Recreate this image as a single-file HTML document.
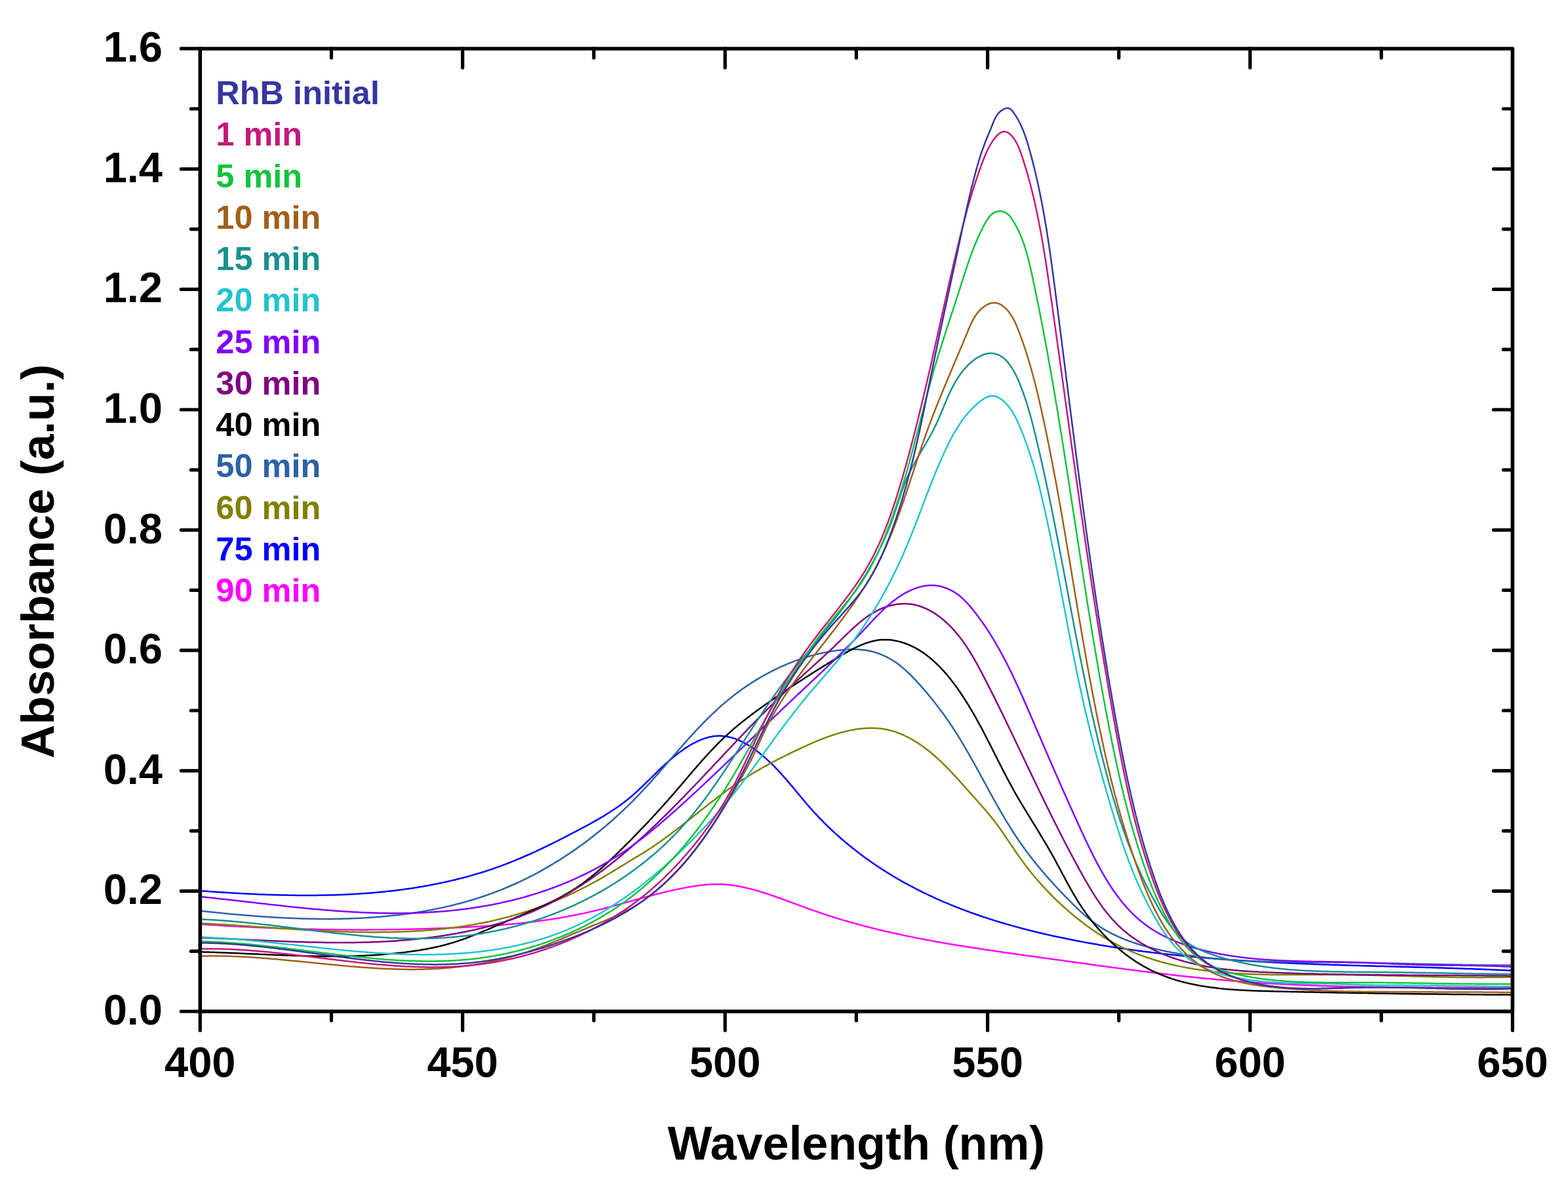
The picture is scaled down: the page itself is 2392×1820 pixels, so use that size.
<!DOCTYPE html><html><head><meta charset="utf-8"><style>html,body{margin:0;padding:0;background:#fff;}svg{display:block;}text{font-family:"Liberation Sans",Arial,sans-serif;font-weight:bold;}</style></head><body>
<svg width="2392" height="1820" viewBox="0 0 2392 1820" xmlns="http://www.w3.org/2000/svg">
<rect width="2392" height="1820" fill="#fff"/>
<path d="M306.5,1409.9 L309.0,1410.1 L311.5,1410.3 L314.0,1410.5 L316.5,1410.6 L319.0,1410.8 L321.5,1410.9 L324.0,1411.1 L326.5,1411.3 L329.0,1411.4 L331.5,1411.6 L334.0,1411.7 L336.5,1411.9 L339.0,1412.0 L341.5,1412.2 L343.9,1412.3 L346.4,1412.5 L348.9,1412.6 L351.4,1412.8 L353.9,1412.9 L356.4,1413.0 L358.9,1413.2 L361.4,1413.3 L363.9,1413.4 L366.4,1413.6 L368.9,1413.7 L371.4,1413.8 L373.9,1413.9 L376.4,1414.1 L378.9,1414.2 L381.4,1414.3 L383.9,1414.4 L386.4,1414.5 L388.9,1414.7 L391.4,1414.8 L393.9,1414.9 L396.4,1415.0 L398.9,1415.1 L401.4,1415.2 L403.9,1415.3 L406.4,1415.4 L408.9,1415.5 L411.4,1415.6 L413.9,1415.7 L416.4,1415.8 L418.8,1415.9 L421.3,1416.0 L423.8,1416.1 L426.3,1416.2 L428.8,1416.3 L431.3,1416.4 L433.8,1416.4 L436.3,1416.5 L438.8,1416.6 L441.3,1416.7 L443.8,1416.8 L446.3,1416.8 L448.8,1416.9 L451.3,1417.0 L453.8,1417.0 L456.3,1417.1 L458.8,1417.2 L461.3,1417.2 L463.8,1417.3 L466.2,1417.4 L468.7,1417.4 L471.2,1417.5 L473.7,1417.5 L476.2,1417.6 L478.7,1417.6 L481.2,1417.7 L483.7,1417.7 L486.2,1417.8 L488.7,1417.8 L491.2,1417.9 L493.7,1417.9 L496.2,1418.0 L498.7,1418.0 L501.2,1418.0 L503.7,1418.1 L506.1,1418.1 L508.6,1418.1 L511.1,1418.2 L513.6,1418.2 L516.1,1418.2 L518.6,1418.2 L521.1,1418.3 L523.6,1418.3 L526.1,1418.3 L528.6,1418.3 L531.1,1418.3 L533.6,1418.3 L536.1,1418.3 L538.6,1418.4 L541.1,1418.4 L543.6,1418.4 L546.0,1418.4 L548.5,1418.4 L551.0,1418.4 L553.5,1418.4 L556.0,1418.4 L558.5,1418.4 L561.0,1418.4 L563.5,1418.3 L566.0,1418.3 L568.5,1418.3 L571.0,1418.3 L573.5,1418.3 L576.0,1418.3 L578.5,1418.3 L581.0,1418.2 L583.5,1418.2 L585.9,1418.2 L588.4,1418.2 L590.9,1418.1 L593.4,1418.1 L595.9,1418.1 L598.4,1418.0 L600.9,1418.0 L603.4,1417.9 L605.9,1417.9 L608.4,1417.9 L610.9,1417.8 L613.4,1417.8 L615.9,1417.7 L618.4,1417.7 L620.9,1417.6 L623.4,1417.6 L625.9,1417.5 L628.4,1417.5 L630.8,1417.4 L633.3,1417.3 L635.8,1417.3 L638.3,1417.2 L640.8,1417.1 L643.3,1417.1 L645.8,1417.0 L648.3,1416.9 L650.8,1416.9 L653.3,1416.8 L655.8,1416.7 L658.3,1416.6 L660.8,1416.5 L663.3,1416.5 L665.8,1416.4 L668.3,1416.3 L670.8,1416.2 L673.3,1416.1 L675.8,1416.0 L678.3,1415.9 L680.8,1415.8 L683.3,1415.7 L685.8,1415.6 L688.3,1415.5 L690.8,1415.4 L693.3,1415.3 L695.8,1415.2 L698.3,1415.1 L700.7,1415.0 L703.2,1414.9 L705.7,1414.7 L708.2,1414.6 L710.7,1414.5 L713.2,1414.4 L715.7,1414.2 L718.2,1414.1 L720.7,1414.0 L723.2,1413.8 L725.7,1413.7 L728.2,1413.6 L730.7,1413.4 L733.2,1413.3 L735.7,1413.1 L738.2,1412.9 L740.7,1412.8 L743.2,1412.6 L745.7,1412.5 L748.2,1412.3 L750.7,1412.1 L753.2,1411.9 L755.7,1411.7 L758.1,1411.6 L760.6,1411.4 L763.1,1411.2 L765.6,1411.0 L768.1,1410.8 L770.6,1410.6 L773.1,1410.3 L775.6,1410.1 L778.1,1409.9 L780.6,1409.7 L783.0,1409.4 L785.5,1409.2 L788.0,1409.0 L790.5,1408.7 L793.0,1408.4 L795.5,1408.2 L797.9,1407.9 L800.4,1407.7 L802.9,1407.4 L805.4,1407.1 L807.9,1406.8 L810.4,1406.5 L812.8,1406.2 L815.3,1405.9 L817.8,1405.6 L820.3,1405.3 L822.7,1405.0 L825.2,1404.6 L827.7,1404.3 L830.1,1404.0 L832.6,1403.6 L835.1,1403.3 L837.6,1402.9 L840.0,1402.5 L842.5,1402.1 L845.0,1401.8 L847.4,1401.4 L849.9,1401.0 L852.3,1400.6 L854.8,1400.2 L857.3,1399.7 L859.7,1399.3 L862.2,1398.9 L864.6,1398.4 L867.1,1398.0 L869.5,1397.5 L872.0,1397.1 L874.4,1396.6 L876.9,1396.1 L879.3,1395.6 L881.8,1395.1 L884.2,1394.6 L886.7,1394.1 L889.1,1393.6 L891.5,1393.1 L894.0,1392.5 L896.4,1392.0 L898.9,1391.4 L901.3,1390.9 L903.7,1390.3 L906.2,1389.7 L908.6,1389.1 L911.0,1388.5 L913.4,1387.9 L915.9,1387.3 L918.3,1386.7 L920.7,1386.1 L923.1,1385.5 L925.6,1384.8 L928.0,1384.2 L930.4,1383.6 L932.8,1382.9 L935.2,1382.3 L937.7,1381.6 L940.1,1380.9 L942.5,1380.3 L944.9,1379.6 L947.3,1379.0 L949.7,1378.3 L952.1,1377.6 L954.6,1376.9 L957.0,1376.3 L959.4,1375.6 L961.8,1374.9 L964.2,1374.3 L966.6,1373.6 L969.0,1372.9 L971.5,1372.2 L973.9,1371.6 L976.3,1370.9 L978.7,1370.2 L981.1,1369.6 L983.5,1368.9 L985.9,1368.3 L988.4,1367.6 L990.8,1367.0 L993.2,1366.3 L995.6,1365.7 L998.0,1365.1 L1000.5,1364.4 L1002.9,1363.8 L1005.3,1363.2 L1007.7,1362.6 L1010.2,1362.0 L1012.6,1361.4 L1015.0,1360.8 L1017.4,1360.2 L1019.9,1359.6 L1022.3,1359.1 L1024.7,1358.5 L1027.2,1358.0 L1029.6,1357.4 L1032.0,1356.9 L1034.5,1356.4 L1036.9,1355.9 L1039.4,1355.4 L1041.8,1354.9 L1044.3,1354.5 L1046.7,1354.0 L1049.2,1353.5 L1051.6,1353.1 L1054.1,1352.7 L1056.5,1352.3 L1059.0,1351.9 L1061.4,1351.5 L1063.9,1351.2 L1066.4,1350.8 L1068.8,1350.5 L1071.3,1350.2 L1073.8,1350.0 L1076.2,1349.7 L1078.7,1349.5 L1081.1,1349.3 L1083.6,1349.2 L1086.1,1349.0 L1088.5,1348.9 L1091.0,1348.9 L1093.4,1348.9 L1095.9,1348.9 L1098.4,1348.9 L1100.8,1349.0 L1103.3,1349.1 L1105.7,1349.3 L1108.1,1349.5 L1110.6,1349.7 L1113.0,1350.0 L1115.5,1350.3 L1117.9,1350.6 L1120.3,1351.0 L1122.8,1351.3 L1125.2,1351.8 L1127.6,1352.2 L1130.0,1352.7 L1132.5,1353.2 L1134.9,1353.7 L1137.3,1354.2 L1139.7,1354.8 L1142.1,1355.4 L1144.5,1356.0 L1146.9,1356.6 L1149.3,1357.2 L1151.7,1357.9 L1154.1,1358.6 L1156.5,1359.3 L1158.9,1360.0 L1161.3,1360.7 L1163.7,1361.5 L1166.1,1362.2 L1168.5,1363.0 L1170.9,1363.8 L1173.2,1364.6 L1175.6,1365.4 L1178.0,1366.2 L1180.4,1367.0 L1182.7,1367.8 L1185.1,1368.6 L1187.5,1369.5 L1189.8,1370.3 L1192.2,1371.2 L1194.5,1372.0 L1196.9,1372.9 L1199.3,1373.7 L1201.6,1374.6 L1204.0,1375.5 L1206.3,1376.3 L1208.7,1377.2 L1211.0,1378.1 L1213.4,1378.9 L1215.7,1379.8 L1218.1,1380.7 L1220.5,1381.6 L1222.8,1382.4 L1225.2,1383.3 L1227.5,1384.2 L1229.9,1385.0 L1232.2,1385.9 L1234.6,1386.7 L1237.0,1387.6 L1239.3,1388.4 L1241.7,1389.2 L1244.0,1390.1 L1246.4,1390.9 L1248.8,1391.7 L1251.1,1392.5 L1253.5,1393.3 L1255.9,1394.1 L1258.3,1394.9 L1260.6,1395.7 L1263.0,1396.5 L1265.4,1397.2 L1267.8,1398.0 L1270.2,1398.7 L1272.5,1399.5 L1274.9,1400.2 L1277.3,1401.0 L1279.7,1401.7 L1282.1,1402.4 L1284.5,1403.2 L1286.9,1403.9 L1289.3,1404.6 L1291.7,1405.3 L1294.1,1406.0 L1296.5,1406.6 L1298.9,1407.3 L1301.3,1408.0 L1303.7,1408.7 L1306.1,1409.3 L1308.5,1410.0 L1310.9,1410.7 L1313.3,1411.3 L1315.7,1411.9 L1318.1,1412.6 L1320.5,1413.2 L1322.9,1413.8 L1325.3,1414.5 L1327.8,1415.1 L1330.2,1415.7 L1332.6,1416.3 L1335.0,1416.9 L1337.4,1417.5 L1339.8,1418.1 L1342.3,1418.7 L1344.7,1419.2 L1347.1,1419.8 L1349.5,1420.4 L1352.0,1421.0 L1354.4,1421.5 L1356.8,1422.1 L1359.3,1422.6 L1361.7,1423.2 L1364.1,1423.7 L1366.6,1424.3 L1369.0,1424.8 L1371.4,1425.3 L1373.9,1425.8 L1376.3,1426.4 L1378.7,1426.9 L1381.2,1427.4 L1383.6,1427.9 L1386.1,1428.4 L1388.5,1428.9 L1391.0,1429.4 L1393.4,1429.9 L1395.8,1430.4 L1398.3,1430.9 L1400.7,1431.4 L1403.2,1431.8 L1405.6,1432.3 L1408.1,1432.8 L1410.5,1433.3 L1413.0,1433.7 L1415.4,1434.2 L1417.9,1434.6 L1420.4,1435.1 L1422.8,1435.5 L1425.3,1436.0 L1427.7,1436.4 L1430.2,1436.9 L1432.6,1437.3 L1435.1,1437.7 L1437.6,1438.2 L1440.0,1438.6 L1442.5,1439.0 L1444.9,1439.4 L1447.4,1439.9 L1449.9,1440.3 L1452.3,1440.7 L1454.8,1441.1 L1457.2,1441.5 L1459.7,1441.9 L1462.2,1442.3 L1464.6,1442.7 L1467.1,1443.1 L1469.6,1443.5 L1472.0,1443.9 L1474.5,1444.3 L1477.0,1444.7 L1479.5,1445.1 L1481.9,1445.5 L1484.4,1445.9 L1486.9,1446.3 L1489.3,1446.6 L1491.8,1447.0 L1494.3,1447.4 L1496.7,1447.8 L1499.2,1448.1 L1501.7,1448.5 L1504.2,1448.9 L1506.6,1449.2 L1509.1,1449.6 L1511.6,1450.0 L1514.1,1450.3 L1516.5,1450.7 L1519.0,1451.1 L1521.5,1451.4 L1524.0,1451.8 L1526.4,1452.1 L1528.9,1452.5 L1531.4,1452.9 L1533.9,1453.2 L1536.3,1453.6 L1538.8,1453.9 L1541.3,1454.3 L1543.8,1454.6 L1546.2,1455.0 L1548.7,1455.3 L1551.2,1455.7 L1553.7,1456.0 L1556.2,1456.4 L1558.6,1456.7 L1561.1,1457.0 L1563.6,1457.4 L1566.1,1457.7 L1568.5,1458.1 L1571.0,1458.4 L1573.5,1458.8 L1576.0,1459.1 L1578.5,1459.5 L1580.9,1459.8 L1583.4,1460.1 L1585.9,1460.5 L1588.4,1460.8 L1590.8,1461.2 L1593.3,1461.5 L1595.8,1461.9 L1598.3,1462.2 L1600.8,1462.6 L1603.2,1462.9 L1605.7,1463.2 L1608.2,1463.6 L1610.7,1463.9 L1613.1,1464.3 L1615.6,1464.6 L1618.1,1465.0 L1620.6,1465.3 L1623.0,1465.7 L1625.5,1466.0 L1628.0,1466.3 L1630.5,1466.7 L1632.9,1467.0 L1635.4,1467.4 L1637.9,1467.7 L1640.4,1468.1 L1642.8,1468.4 L1645.3,1468.8 L1647.8,1469.1 L1650.3,1469.4 L1652.7,1469.8 L1655.2,1470.1 L1657.7,1470.5 L1660.2,1470.8 L1662.6,1471.2 L1665.1,1471.5 L1667.6,1471.8 L1670.1,1472.2 L1672.5,1472.5 L1675.0,1472.9 L1677.5,1473.2 L1680.0,1473.5 L1682.4,1473.9 L1684.9,1474.2 L1687.4,1474.5 L1689.9,1474.9 L1692.3,1475.2 L1694.8,1475.5 L1697.3,1475.9 L1699.8,1476.2 L1702.2,1476.5 L1704.7,1476.9 L1707.2,1477.2 L1709.7,1477.5 L1712.1,1477.8 L1714.6,1478.2 L1717.1,1478.5 L1719.6,1478.8 L1722.0,1479.1 L1724.5,1479.5 L1727.0,1479.8 L1729.5,1480.1 L1731.9,1480.4 L1734.4,1480.7 L1736.9,1481.1 L1739.4,1481.4 L1741.9,1481.7 L1744.3,1482.0 L1746.8,1482.3 L1749.3,1482.6 L1751.8,1482.9 L1754.2,1483.2 L1756.7,1483.5 L1759.2,1483.8 L1761.7,1484.1 L1764.1,1484.4 L1766.6,1484.7 L1769.1,1485.0 L1771.6,1485.3 L1774.0,1485.6 L1776.5,1485.9 L1779.0,1486.2 L1781.5,1486.5 L1784.0,1486.8 L1786.4,1487.1 L1788.9,1487.4 L1791.4,1487.6 L1793.9,1487.9 L1796.4,1488.2 L1798.8,1488.5 L1801.3,1488.8 L1803.8,1489.0 L1806.3,1489.3 L1808.7,1489.6 L1811.2,1489.8 L1813.7,1490.1 L1816.2,1490.4 L1818.7,1490.6 L1821.1,1490.9 L1823.6,1491.1 L1826.1,1491.4 L1828.6,1491.6 L1831.1,1491.9 L1833.6,1492.1 L1836.0,1492.4 L1838.5,1492.6 L1841.0,1492.9 L1843.5,1493.1 L1846.0,1493.3 L1848.4,1493.6 L1850.9,1493.8 L1853.4,1494.0 L1855.9,1494.3 L1858.4,1494.5 L1860.9,1494.7 L1863.4,1494.9 L1865.8,1495.1 L1868.3,1495.4 L1870.8,1495.6 L1873.3,1495.8 L1875.8,1496.0 L1878.3,1496.2 L1880.7,1496.4 L1883.2,1496.6 L1885.7,1496.8 L1888.2,1497.0 L1890.7,1497.2 L1893.2,1497.3 L1895.7,1497.5 L1898.2,1497.7 L1900.6,1497.9 L1903.1,1498.1 L1905.6,1498.3 L1908.1,1498.4 L1910.6,1498.6 L1913.1,1498.8 L1915.6,1498.9 L1918.1,1499.1 L1920.6,1499.3 L1923.1,1499.4 L1925.5,1499.6 L1928.0,1499.7 L1930.5,1499.9 L1933.0,1500.0 L1935.5,1500.2 L1938.0,1500.3 L1940.5,1500.5 L1943.0,1500.6 L1945.5,1500.8 L1948.0,1500.9 L1950.5,1501.0 L1952.9,1501.2 L1955.4,1501.3 L1957.9,1501.4 L1960.4,1501.5 L1962.9,1501.7 L1965.4,1501.8 L1967.9,1501.9 L1970.4,1502.0 L1972.9,1502.2 L1975.4,1502.3 L1977.9,1502.4 L1980.4,1502.5 L1982.9,1502.6 L1985.4,1502.7 L1987.9,1502.8 L1990.4,1502.9 L1992.9,1503.0 L1995.3,1503.1 L1997.8,1503.2 L2000.3,1503.3 L2002.8,1503.4 L2005.3,1503.5 L2007.8,1503.6 L2010.3,1503.7 L2012.8,1503.8 L2015.3,1503.9 L2017.8,1503.9 L2020.3,1504.0 L2022.8,1504.1 L2025.3,1504.2 L2027.8,1504.3 L2030.3,1504.3 L2032.8,1504.4 L2035.3,1504.5 L2037.8,1504.6 L2040.3,1504.6 L2042.8,1504.7 L2045.3,1504.8 L2047.8,1504.8 L2050.3,1504.9 L2052.8,1505.0 L2055.3,1505.0 L2057.8,1505.1 L2060.3,1505.1 L2062.8,1505.2 L2065.3,1505.3 L2067.8,1505.3 L2070.3,1505.4 L2072.7,1505.4 L2075.2,1505.5 L2077.7,1505.5 L2080.2,1505.6 L2082.7,1505.6 L2085.2,1505.7 L2087.7,1505.7 L2090.2,1505.7 L2092.7,1505.8 L2095.2,1505.8 L2097.7,1505.9 L2100.2,1505.9 L2102.7,1505.9 L2105.2,1506.0 L2107.7,1506.0 L2110.2,1506.0 L2112.7,1506.1 L2115.2,1506.1 L2117.7,1506.1 L2120.2,1506.2 L2122.7,1506.2 L2125.2,1506.2 L2127.7,1506.3 L2130.2,1506.3 L2132.7,1506.3 L2135.2,1506.3 L2137.7,1506.4 L2140.2,1506.4 L2142.7,1506.4 L2145.2,1506.4 L2147.7,1506.4 L2150.2,1506.5 L2152.7,1506.5 L2155.2,1506.5 L2157.7,1506.5 L2160.2,1506.5 L2162.7,1506.5 L2165.2,1506.6 L2167.7,1506.6 L2170.2,1506.6 L2172.7,1506.6 L2175.2,1506.6 L2177.7,1506.6 L2180.2,1506.6 L2182.7,1506.6 L2185.2,1506.7 L2187.7,1506.7 L2190.2,1506.7 L2192.7,1506.7 L2195.2,1506.7 L2197.7,1506.7 L2200.2,1506.7 L2202.7,1506.7 L2205.2,1506.7 L2207.7,1506.7 L2210.1,1506.7 L2212.6,1506.7 L2215.1,1506.7 L2217.6,1506.7 L2220.1,1506.7 L2222.6,1506.7 L2225.1,1506.7 L2227.6,1506.7 L2230.1,1506.7 L2232.6,1506.7 L2235.1,1506.7 L2237.6,1506.7 L2240.1,1506.8 L2242.6,1506.8 L2245.1,1506.8 L2247.6,1506.8 L2250.1,1506.8 L2252.6,1506.8 L2255.1,1506.8 L2257.6,1506.8 L2260.1,1506.8 L2262.6,1506.8 L2265.1,1506.8 L2267.6,1506.8 L2270.0,1506.8 L2272.5,1506.8 L2275.0,1506.8 L2277.5,1506.8 L2280.0,1506.7 L2282.5,1506.7 L2285.0,1506.7 L2287.5,1506.7 L2290.0,1506.7 L2292.5,1506.7 L2295.0,1506.7 L2297.5,1506.8 L2300.0,1506.8 L2302.5,1506.8 L2305.0,1506.8" fill="none" stroke="#ff00ff" stroke-width="2.5" stroke-linejoin="round"/>
<path d="M306.5,1359.1 L309.0,1359.3 L311.5,1359.5 L314.0,1359.6 L316.4,1359.8 L318.9,1360.0 L321.4,1360.2 L323.9,1360.3 L326.3,1360.5 L328.8,1360.7 L331.3,1360.8 L333.8,1361.0 L336.3,1361.2 L338.7,1361.3 L341.2,1361.5 L343.7,1361.6 L346.2,1361.8 L348.7,1361.9 L351.2,1362.1 L353.7,1362.2 L356.2,1362.4 L358.7,1362.5 L361.1,1362.7 L363.6,1362.8 L366.1,1362.9 L368.6,1363.1 L371.1,1363.2 L373.6,1363.3 L376.1,1363.5 L378.6,1363.6 L381.1,1363.7 L383.6,1363.8 L386.1,1363.9 L388.6,1364.1 L391.1,1364.2 L393.6,1364.3 L396.1,1364.4 L398.6,1364.5 L401.1,1364.6 L403.6,1364.7 L406.1,1364.8 L408.6,1364.9 L411.1,1364.9 L413.6,1365.0 L416.1,1365.1 L418.7,1365.2 L421.2,1365.3 L423.7,1365.3 L426.2,1365.4 L428.7,1365.5 L431.2,1365.5 L433.7,1365.6 L436.2,1365.6 L438.7,1365.7 L441.2,1365.7 L443.7,1365.8 L446.2,1365.8 L448.7,1365.8 L451.3,1365.9 L453.8,1365.9 L456.3,1365.9 L458.8,1365.9 L461.3,1365.9 L463.8,1366.0 L466.3,1366.0 L468.8,1366.0 L471.3,1366.0 L473.8,1365.9 L476.3,1365.9 L478.9,1365.9 L481.4,1365.9 L483.9,1365.9 L486.4,1365.8 L488.9,1365.8 L491.4,1365.8 L493.9,1365.7 L496.4,1365.7 L498.9,1365.6 L501.4,1365.6 L503.9,1365.5 L506.4,1365.4 L508.9,1365.4 L511.4,1365.3 L513.9,1365.2 L516.4,1365.1 L519.0,1365.0 L521.5,1364.9 L524.0,1364.8 L526.5,1364.7 L529.0,1364.6 L531.5,1364.5 L534.0,1364.3 L536.5,1364.2 L539.0,1364.1 L541.5,1363.9 L544.0,1363.8 L546.4,1363.6 L548.9,1363.5 L551.4,1363.3 L553.9,1363.1 L556.4,1363.0 L558.9,1362.8 L561.4,1362.6 L563.9,1362.4 L566.4,1362.2 L568.9,1362.0 L571.4,1361.8 L573.9,1361.5 L576.3,1361.3 L578.8,1361.1 L581.3,1360.9 L583.8,1360.6 L586.3,1360.4 L588.8,1360.1 L591.2,1359.8 L593.7,1359.6 L596.2,1359.3 L598.7,1359.0 L601.1,1358.7 L603.6,1358.4 L606.1,1358.1 L608.6,1357.8 L611.0,1357.5 L613.5,1357.2 L616.0,1356.8 L618.4,1356.5 L620.9,1356.1 L623.4,1355.8 L625.8,1355.4 L628.3,1355.0 L630.7,1354.7 L633.2,1354.3 L635.6,1353.9 L638.1,1353.5 L640.6,1353.1 L643.0,1352.7 L645.5,1352.3 L647.9,1351.8 L650.3,1351.4 L652.8,1351.0 L655.2,1350.5 L657.7,1350.0 L660.1,1349.6 L662.6,1349.1 L665.0,1348.6 L667.4,1348.1 L669.9,1347.6 L672.3,1347.1 L674.7,1346.6 L677.1,1346.1 L679.6,1345.6 L682.0,1345.0 L684.4,1344.5 L686.8,1343.9 L689.2,1343.4 L691.7,1342.8 L694.1,1342.2 L696.5,1341.6 L698.9,1341.0 L701.3,1340.4 L703.7,1339.8 L706.1,1339.2 L708.5,1338.5 L710.9,1337.9 L713.3,1337.2 L715.7,1336.6 L718.1,1335.9 L720.5,1335.2 L722.9,1334.5 L725.2,1333.8 L727.6,1333.1 L730.0,1332.4 L732.4,1331.7 L734.8,1331.0 L737.1,1330.2 L739.5,1329.5 L741.9,1328.7 L744.2,1327.9 L746.6,1327.2 L749.0,1326.4 L751.3,1325.6 L753.7,1324.8 L756.0,1323.9 L758.4,1323.1 L760.7,1322.3 L763.1,1321.4 L765.4,1320.6 L767.8,1319.7 L770.1,1318.8 L772.4,1317.9 L774.8,1317.0 L777.1,1316.1 L779.4,1315.2 L781.7,1314.3 L784.1,1313.3 L786.4,1312.4 L788.7,1311.4 L791.0,1310.5 L793.3,1309.5 L795.6,1308.5 L797.9,1307.5 L800.2,1306.5 L802.5,1305.5 L804.8,1304.5 L807.1,1303.5 L809.4,1302.5 L811.7,1301.4 L814.0,1300.4 L816.3,1299.3 L818.6,1298.3 L820.8,1297.2 L823.1,1296.1 L825.4,1295.1 L827.7,1294.0 L829.9,1292.9 L832.2,1291.8 L834.5,1290.7 L836.7,1289.6 L839.0,1288.5 L841.3,1287.4 L843.5,1286.3 L845.8,1285.1 L848.0,1284.0 L850.3,1282.9 L852.5,1281.8 L854.8,1280.6 L857.0,1279.5 L859.3,1278.3 L861.5,1277.2 L863.7,1276.0 L866.0,1274.9 L868.2,1273.7 L870.4,1272.6 L872.7,1271.4 L874.9,1270.2 L877.1,1269.1 L879.4,1267.9 L881.6,1266.7 L883.8,1265.6 L886.0,1264.4 L888.2,1263.2 L890.4,1262.0 L892.7,1260.8 L894.9,1259.6 L897.1,1258.5 L899.3,1257.3 L901.5,1256.0 L903.6,1254.8 L905.8,1253.6 L908.0,1252.4 L910.2,1251.2 L912.3,1249.9 L914.5,1248.7 L916.6,1247.4 L918.8,1246.2 L920.9,1244.9 L923.0,1243.6 L925.1,1242.3 L927.2,1241.0 L929.3,1239.7 L931.4,1238.3 L933.5,1237.0 L935.5,1235.6 L937.6,1234.3 L939.6,1232.9 L941.7,1231.5 L943.7,1230.1 L945.7,1228.7 L947.7,1227.2 L949.6,1225.8 L951.6,1224.3 L953.6,1222.8 L955.5,1221.3 L957.4,1219.7 L959.3,1218.2 L961.2,1216.6 L963.1,1215.1 L964.9,1213.5 L966.8,1211.8 L968.6,1210.2 L970.4,1208.6 L972.3,1206.9 L974.1,1205.2 L975.9,1203.5 L977.7,1201.8 L979.4,1200.1 L981.2,1198.4 L983.0,1196.7 L984.8,1195.0 L986.5,1193.2 L988.3,1191.5 L990.1,1189.8 L991.8,1188.0 L993.6,1186.3 L995.4,1184.5 L997.2,1182.8 L998.9,1181.0 L1000.7,1179.3 L1002.5,1177.5 L1004.3,1175.8 L1006.1,1174.0 L1007.9,1172.3 L1009.8,1170.6 L1011.6,1168.9 L1013.5,1167.1 L1015.3,1165.4 L1017.2,1163.7 L1019.1,1162.1 L1021.0,1160.4 L1022.9,1158.7 L1024.9,1157.1 L1026.8,1155.4 L1028.8,1153.8 L1030.8,1152.2 L1032.8,1150.6 L1034.9,1149.1 L1036.9,1147.5 L1039.0,1146.0 L1041.1,1144.5 L1043.3,1143.0 L1045.4,1141.5 L1047.6,1140.1 L1049.8,1138.7 L1052.1,1137.3 L1054.3,1136.0 L1056.6,1134.7 L1058.9,1133.5 L1061.1,1132.3 L1063.5,1131.2 L1065.8,1130.1 L1068.1,1129.1 L1070.4,1128.1 L1072.8,1127.3 L1075.1,1126.4 L1077.5,1125.7 L1079.9,1125.0 L1082.2,1124.4 L1084.6,1123.9 L1086.9,1123.5 L1089.3,1123.1 L1091.7,1122.9 L1094.0,1122.7 L1096.4,1122.6 L1098.7,1122.6 L1101.1,1122.7 L1103.4,1122.9 L1105.7,1123.2 L1108.1,1123.6 L1110.4,1124.0 L1112.7,1124.5 L1115.0,1125.1 L1117.3,1125.7 L1119.6,1126.4 L1121.8,1127.2 L1124.1,1128.1 L1126.3,1129.0 L1128.6,1130.0 L1130.8,1131.0 L1133.0,1132.1 L1135.2,1133.3 L1137.4,1134.4 L1139.6,1135.7 L1141.8,1137.0 L1143.9,1138.3 L1146.0,1139.7 L1148.2,1141.1 L1150.3,1142.6 L1152.4,1144.1 L1154.4,1145.6 L1156.5,1147.2 L1158.5,1148.8 L1160.5,1150.4 L1162.5,1152.1 L1164.5,1153.7 L1166.4,1155.4 L1168.4,1157.1 L1170.3,1158.9 L1172.2,1160.6 L1174.0,1162.4 L1175.9,1164.1 L1177.7,1165.9 L1179.5,1167.7 L1181.3,1169.5 L1183.1,1171.3 L1184.8,1173.1 L1186.6,1174.9 L1188.3,1176.8 L1190.0,1178.6 L1191.7,1180.4 L1193.3,1182.3 L1195.0,1184.1 L1196.6,1186.0 L1198.3,1187.9 L1199.9,1189.7 L1201.5,1191.6 L1203.1,1193.5 L1204.7,1195.4 L1206.3,1197.3 L1207.9,1199.1 L1209.5,1201.0 L1211.1,1202.9 L1212.7,1204.8 L1214.2,1206.7 L1215.8,1208.6 L1217.4,1210.5 L1218.9,1212.4 L1220.5,1214.3 L1222.1,1216.2 L1223.7,1218.1 L1225.3,1219.9 L1226.8,1221.8 L1228.4,1223.7 L1230.0,1225.6 L1231.6,1227.5 L1233.2,1229.3 L1234.9,1231.2 L1236.5,1233.0 L1238.1,1234.9 L1239.8,1236.7 L1241.4,1238.6 L1243.1,1240.4 L1244.8,1242.2 L1246.5,1244.0 L1248.2,1245.9 L1249.9,1247.7 L1251.7,1249.5 L1253.4,1251.2 L1255.2,1253.0 L1256.9,1254.8 L1258.7,1256.6 L1260.5,1258.3 L1262.3,1260.1 L1264.1,1261.8 L1265.9,1263.6 L1267.7,1265.3 L1269.5,1267.0 L1271.4,1268.7 L1273.2,1270.4 L1275.1,1272.1 L1277.0,1273.8 L1278.9,1275.5 L1280.7,1277.1 L1282.6,1278.8 L1284.5,1280.5 L1286.5,1282.1 L1288.4,1283.7 L1290.3,1285.4 L1292.3,1287.0 L1294.2,1288.6 L1296.2,1290.2 L1298.1,1291.8 L1300.1,1293.4 L1302.1,1294.9 L1304.0,1296.5 L1306.0,1298.1 L1308.0,1299.6 L1310.0,1301.1 L1312.0,1302.7 L1314.1,1304.2 L1316.1,1305.7 L1318.1,1307.2 L1320.1,1308.7 L1322.2,1310.2 L1324.2,1311.6 L1326.3,1313.1 L1328.3,1314.5 L1330.4,1316.0 L1332.5,1317.4 L1334.5,1318.8 L1336.6,1320.2 L1338.7,1321.6 L1340.8,1323.0 L1342.9,1324.4 L1345.0,1325.7 L1347.1,1327.1 L1349.2,1328.4 L1351.3,1329.8 L1353.4,1331.1 L1355.5,1332.4 L1357.7,1333.7 L1359.8,1335.0 L1361.9,1336.3 L1364.1,1337.6 L1366.2,1338.9 L1368.4,1340.1 L1370.5,1341.4 L1372.7,1342.6 L1374.9,1343.9 L1377.0,1345.1 L1379.2,1346.3 L1381.4,1347.5 L1383.6,1348.7 L1385.8,1349.9 L1388.0,1351.1 L1390.2,1352.2 L1392.4,1353.4 L1394.6,1354.5 L1396.8,1355.7 L1399.0,1356.8 L1401.2,1357.9 L1403.4,1359.1 L1405.7,1360.2 L1407.9,1361.3 L1410.1,1362.4 L1412.4,1363.4 L1414.6,1364.5 L1416.9,1365.6 L1419.1,1366.6 L1421.4,1367.7 L1423.6,1368.7 L1425.9,1369.8 L1428.2,1370.8 L1430.4,1371.8 L1432.7,1372.8 L1435.0,1373.8 L1437.3,1374.8 L1439.5,1375.8 L1441.8,1376.8 L1444.1,1377.7 L1446.4,1378.7 L1448.7,1379.6 L1451.0,1380.6 L1453.3,1381.5 L1455.6,1382.5 L1457.9,1383.4 L1460.2,1384.3 L1462.6,1385.2 L1464.9,1386.1 L1467.2,1387.0 L1469.5,1387.9 L1471.9,1388.8 L1474.2,1389.6 L1476.5,1390.5 L1478.9,1391.4 L1481.2,1392.2 L1483.6,1393.0 L1485.9,1393.9 L1488.3,1394.7 L1490.6,1395.5 L1493.0,1396.3 L1495.3,1397.2 L1497.7,1398.0 L1500.0,1398.8 L1502.4,1399.5 L1504.8,1400.3 L1507.2,1401.1 L1509.5,1401.9 L1511.9,1402.6 L1514.3,1403.4 L1516.7,1404.1 L1519.0,1404.9 L1521.4,1405.6 L1523.8,1406.3 L1526.2,1407.1 L1528.6,1407.8 L1531.0,1408.5 L1533.4,1409.2 L1535.8,1409.9 L1538.2,1410.6 L1540.6,1411.3 L1543.0,1411.9 L1545.4,1412.6 L1547.8,1413.3 L1550.2,1413.9 L1552.6,1414.6 L1555.0,1415.3 L1557.5,1415.9 L1559.9,1416.5 L1562.3,1417.2 L1564.7,1417.8 L1567.1,1418.4 L1569.6,1419.0 L1572.0,1419.7 L1574.4,1420.3 L1576.8,1420.9 L1579.3,1421.5 L1581.7,1422.0 L1584.1,1422.6 L1586.6,1423.2 L1589.0,1423.8 L1591.4,1424.4 L1593.9,1424.9 L1596.3,1425.5 L1598.7,1426.0 L1601.2,1426.6 L1603.6,1427.1 L1606.1,1427.7 L1608.5,1428.2 L1611.0,1428.7 L1613.4,1429.3 L1615.8,1429.8 L1618.3,1430.3 L1620.7,1430.8 L1623.2,1431.3 L1625.6,1431.8 L1628.1,1432.3 L1630.5,1432.8 L1633.0,1433.3 L1635.4,1433.8 L1637.9,1434.3 L1640.3,1434.8 L1642.8,1435.3 L1645.3,1435.7 L1647.7,1436.2 L1650.2,1436.6 L1652.6,1437.1 L1655.1,1437.6 L1657.5,1438.0 L1660.0,1438.5 L1662.5,1438.9 L1664.9,1439.3 L1667.4,1439.8 L1669.8,1440.2 L1672.3,1440.6 L1674.7,1441.0 L1677.2,1441.5 L1679.7,1441.9 L1682.1,1442.3 L1684.6,1442.7 L1687.1,1443.1 L1689.5,1443.5 L1692.0,1443.9 L1694.5,1444.3 L1696.9,1444.7 L1699.4,1445.1 L1701.9,1445.4 L1704.3,1445.8 L1706.8,1446.2 L1709.3,1446.6 L1711.7,1446.9 L1714.2,1447.3 L1716.7,1447.6 L1719.1,1448.0 L1721.6,1448.3 L1724.1,1448.7 L1726.5,1449.0 L1729.0,1449.4 L1731.5,1449.7 L1734.0,1450.1 L1736.4,1450.4 L1738.9,1450.7 L1741.4,1451.0 L1743.9,1451.4 L1746.3,1451.7 L1748.8,1452.0 L1751.3,1452.3 L1753.8,1452.6 L1756.2,1452.9 L1758.7,1453.2 L1761.2,1453.5 L1763.7,1453.8 L1766.1,1454.1 L1768.6,1454.4 L1771.1,1454.7 L1773.6,1455.0 L1776.1,1455.2 L1778.5,1455.5 L1781.0,1455.8 L1783.5,1456.1 L1786.0,1456.3 L1788.5,1456.6 L1790.9,1456.9 L1793.4,1457.1 L1795.9,1457.4 L1798.4,1457.6 L1800.9,1457.9 L1803.3,1458.1 L1805.8,1458.4 L1808.3,1458.6 L1810.8,1458.9 L1813.3,1459.1 L1815.8,1459.3 L1818.3,1459.6 L1820.7,1459.8 L1823.2,1460.0 L1825.7,1460.2 L1828.2,1460.5 L1830.7,1460.7 L1833.2,1460.9 L1835.7,1461.1 L1838.2,1461.3 L1840.6,1461.5 L1843.1,1461.7 L1845.6,1461.9 L1848.1,1462.1 L1850.6,1462.3 L1853.1,1462.5 L1855.6,1462.7 L1858.1,1462.9 L1860.6,1463.1 L1863.0,1463.3 L1865.5,1463.5 L1868.0,1463.7 L1870.5,1463.9 L1873.0,1464.0 L1875.5,1464.2 L1878.0,1464.4 L1880.5,1464.6 L1883.0,1464.7 L1885.5,1464.9 L1888.0,1465.1 L1890.5,1465.2 L1893.0,1465.4 L1895.5,1465.5 L1897.9,1465.7 L1900.4,1465.9 L1902.9,1466.0 L1905.4,1466.2 L1907.9,1466.3 L1910.4,1466.5 L1912.9,1466.6 L1915.4,1466.8 L1917.9,1466.9 L1920.4,1467.0 L1922.9,1467.2 L1925.4,1467.3 L1927.9,1467.5 L1930.4,1467.6 L1932.9,1467.7 L1935.4,1467.8 L1937.9,1468.0 L1940.4,1468.1 L1942.9,1468.2 L1945.4,1468.4 L1947.9,1468.5 L1950.4,1468.6 L1952.9,1468.7 L1955.4,1468.8 L1957.9,1469.0 L1960.4,1469.1 L1962.9,1469.2 L1965.4,1469.3 L1967.9,1469.4 L1970.4,1469.5 L1972.9,1469.6 L1975.3,1469.7 L1977.8,1469.8 L1980.3,1469.9 L1982.8,1470.0 L1985.3,1470.1 L1987.8,1470.2 L1990.3,1470.3 L1992.8,1470.4 L1995.3,1470.5 L1997.8,1470.6 L2000.3,1470.7 L2002.8,1470.8 L2005.3,1470.9 L2007.8,1471.0 L2010.3,1471.1 L2012.8,1471.2 L2015.3,1471.3 L2017.8,1471.4 L2020.3,1471.5 L2022.8,1471.5 L2025.3,1471.6 L2027.8,1471.7 L2030.3,1471.8 L2032.8,1471.9 L2035.3,1472.0 L2037.8,1472.0 L2040.3,1472.1 L2042.9,1472.2 L2045.4,1472.3 L2047.9,1472.4 L2050.4,1472.4 L2052.9,1472.5 L2055.4,1472.6 L2057.9,1472.7 L2060.4,1472.7 L2062.9,1472.8 L2065.4,1472.9 L2067.9,1473.0 L2070.4,1473.0 L2072.9,1473.1 L2075.4,1473.2 L2077.9,1473.2 L2080.4,1473.3 L2082.9,1473.4 L2085.4,1473.5 L2087.9,1473.5 L2090.4,1473.6 L2092.9,1473.7 L2095.4,1473.7 L2097.9,1473.8 L2100.4,1473.9 L2102.9,1473.9 L2105.4,1474.0 L2107.9,1474.1 L2110.4,1474.1 L2112.9,1474.2 L2115.4,1474.3 L2117.9,1474.3 L2120.4,1474.4 L2122.9,1474.5 L2125.4,1474.5 L2127.9,1474.6 L2130.4,1474.7 L2132.8,1474.7 L2135.3,1474.8 L2137.8,1474.9 L2140.3,1474.9 L2142.8,1475.0 L2145.3,1475.1 L2147.8,1475.1 L2150.3,1475.2 L2152.8,1475.3 L2155.3,1475.3 L2157.8,1475.4 L2160.3,1475.5 L2162.8,1475.6 L2165.3,1475.6 L2167.8,1475.7 L2170.3,1475.8 L2172.8,1475.8 L2175.3,1475.9 L2177.8,1476.0 L2180.3,1476.0 L2182.8,1476.1 L2185.3,1476.2 L2187.8,1476.3 L2190.3,1476.3 L2192.8,1476.4 L2195.3,1476.5 L2197.8,1476.6 L2200.3,1476.6 L2202.7,1476.7 L2205.2,1476.8 L2207.7,1476.9 L2210.2,1476.9 L2212.7,1477.0 L2215.2,1477.1 L2217.7,1477.2 L2220.2,1477.3 L2222.7,1477.3 L2225.2,1477.4 L2227.7,1477.5 L2230.2,1477.6 L2232.7,1477.7 L2235.2,1477.8 L2237.6,1477.9 L2240.1,1477.9 L2242.6,1478.0 L2245.1,1478.1 L2247.6,1478.2 L2250.1,1478.3 L2252.6,1478.4 L2255.1,1478.5 L2257.6,1478.6 L2260.0,1478.7 L2262.5,1478.8 L2265.0,1478.9 L2267.5,1479.0 L2270.0,1479.1 L2272.5,1479.2 L2275.0,1479.3 L2277.5,1479.4 L2279.9,1479.5 L2282.4,1479.6 L2284.9,1479.7 L2287.4,1479.8 L2289.9,1479.9 L2292.4,1480.1 L2294.8,1480.2 L2297.3,1480.3 L2299.8,1480.4 L2302.3,1480.5 L2305.0,1480.6" fill="none" stroke="#0000ff" stroke-width="2.5" stroke-linejoin="round"/>
<path d="M306.5,1408.5 L309.2,1408.6 L311.7,1408.8 L314.1,1408.9 L316.6,1409.0 L319.0,1409.2 L321.5,1409.3 L323.9,1409.4 L326.4,1409.6 L328.8,1409.7 L331.3,1409.9 L333.7,1410.0 L336.2,1410.2 L338.7,1410.3 L341.1,1410.5 L343.6,1410.6 L346.1,1410.8 L348.5,1410.9 L351.0,1411.1 L353.5,1411.3 L355.9,1411.4 L358.4,1411.6 L360.9,1411.7 L363.3,1411.9 L365.8,1412.1 L368.3,1412.2 L370.8,1412.4 L373.3,1412.6 L375.7,1412.7 L378.2,1412.9 L380.7,1413.1 L383.2,1413.3 L385.7,1413.4 L388.2,1413.6 L390.6,1413.8 L393.1,1413.9 L395.6,1414.1 L398.1,1414.3 L400.6,1414.5 L403.1,1414.6 L405.6,1414.8 L408.1,1415.0 L410.6,1415.1 L413.1,1415.3 L415.6,1415.5 L418.1,1415.6 L420.5,1415.8 L423.0,1416.0 L425.5,1416.2 L428.0,1416.3 L430.5,1416.5 L433.0,1416.7 L435.5,1416.8 L438.1,1417.0 L440.6,1417.1 L443.1,1417.3 L445.6,1417.5 L448.1,1417.6 L450.6,1417.8 L453.1,1417.9 L455.6,1418.1 L458.1,1418.2 L460.6,1418.4 L463.1,1418.5 L465.6,1418.7 L468.1,1418.8 L470.6,1419.0 L473.1,1419.1 L475.7,1419.2 L478.2,1419.4 L480.7,1419.5 L483.2,1419.6 L485.7,1419.8 L488.2,1419.9 L490.7,1420.0 L493.2,1420.1 L495.7,1420.3 L498.3,1420.4 L500.8,1420.5 L503.3,1420.6 L505.8,1420.7 L508.3,1420.8 L510.8,1420.9 L513.3,1421.0 L515.8,1421.1 L518.4,1421.2 L520.9,1421.3 L523.4,1421.4 L525.9,1421.4 L528.4,1421.5 L530.9,1421.6 L533.4,1421.7 L535.9,1421.7 L538.4,1421.8 L541.0,1421.8 L543.5,1421.9 L546.0,1421.9 L548.5,1422.0 L551.0,1422.0 L553.5,1422.1 L556.0,1422.1 L558.5,1422.1 L561.0,1422.1 L563.6,1422.2 L566.1,1422.2 L568.6,1422.2 L571.1,1422.2 L573.6,1422.2 L576.1,1422.2 L578.6,1422.2 L581.1,1422.1 L583.6,1422.1 L586.1,1422.1 L588.6,1422.1 L591.1,1422.0 L593.6,1422.0 L596.1,1421.9 L598.6,1421.9 L601.1,1421.8 L603.6,1421.8 L606.1,1421.7 L608.6,1421.6 L611.1,1421.5 L613.6,1421.4 L616.1,1421.3 L618.6,1421.2 L621.1,1421.1 L623.6,1421.0 L626.1,1420.9 L628.6,1420.8 L631.1,1420.6 L633.6,1420.5 L636.1,1420.3 L638.6,1420.2 L641.1,1420.0 L643.6,1419.9 L646.0,1419.7 L648.5,1419.5 L651.0,1419.3 L653.5,1419.1 L656.0,1418.9 L658.5,1418.7 L660.9,1418.5 L663.4,1418.3 L665.9,1418.0 L668.4,1417.8 L670.8,1417.5 L673.3,1417.3 L675.8,1417.0 L678.3,1416.8 L680.7,1416.5 L683.2,1416.2 L685.7,1415.9 L688.1,1415.6 L690.6,1415.3 L693.1,1415.0 L695.5,1414.6 L698.0,1414.3 L700.5,1413.9 L702.9,1413.6 L705.4,1413.2 L707.8,1412.9 L710.3,1412.5 L712.7,1412.1 L715.2,1411.7 L717.6,1411.3 L720.1,1410.9 L722.5,1410.4 L725.0,1410.0 L727.4,1409.6 L729.8,1409.1 L732.3,1408.6 L734.7,1408.2 L737.2,1407.7 L739.6,1407.2 L742.0,1406.7 L744.4,1406.2 L746.9,1405.7 L749.3,1405.1 L751.7,1404.6 L754.1,1404.0 L756.6,1403.5 L759.0,1402.9 L761.4,1402.3 L763.8,1401.7 L766.2,1401.1 L768.6,1400.5 L771.0,1399.9 L773.5,1399.3 L775.9,1398.6 L778.3,1398.0 L780.7,1397.3 L783.1,1396.6 L785.5,1395.9 L787.8,1395.2 L790.2,1394.5 L792.6,1393.8 L795.0,1393.1 L797.4,1392.3 L799.8,1391.6 L802.2,1390.8 L804.5,1390.1 L806.9,1389.3 L809.3,1388.5 L811.6,1387.7 L814.0,1386.9 L816.4,1386.1 L818.7,1385.2 L821.1,1384.4 L823.4,1383.5 L825.8,1382.7 L828.1,1381.8 L830.4,1380.9 L832.8,1380.0 L835.1,1379.1 L837.4,1378.2 L839.8,1377.3 L842.1,1376.4 L844.4,1375.4 L846.7,1374.5 L849.0,1373.5 L851.3,1372.6 L853.6,1371.6 L855.9,1370.6 L858.2,1369.6 L860.5,1368.6 L862.8,1367.6 L865.1,1366.5 L867.4,1365.5 L869.7,1364.5 L871.9,1363.4 L874.2,1362.3 L876.4,1361.3 L878.7,1360.2 L881.0,1359.1 L883.2,1358.0 L885.4,1356.9 L887.7,1355.7 L889.9,1354.6 L892.1,1353.5 L894.4,1352.3 L896.6,1351.2 L898.8,1350.0 L901.0,1348.8 L903.2,1347.6 L905.4,1346.4 L907.6,1345.2 L909.8,1344.0 L911.9,1342.8 L914.1,1341.6 L916.3,1340.3 L918.5,1339.1 L920.6,1337.8 L922.8,1336.6 L924.9,1335.3 L927.1,1334.0 L929.2,1332.8 L931.4,1331.5 L933.5,1330.2 L935.6,1328.9 L937.8,1327.6 L939.9,1326.3 L942.0,1325.0 L944.2,1323.7 L946.3,1322.4 L948.4,1321.1 L950.6,1319.8 L952.7,1318.5 L954.8,1317.2 L956.9,1315.9 L959.1,1314.6 L961.2,1313.3 L963.3,1312.0 L965.5,1310.7 L967.6,1309.4 L969.7,1308.2 L971.9,1306.9 L974.0,1305.6 L976.1,1304.3 L978.3,1303.0 L980.4,1301.7 L982.5,1300.4 L984.6,1299.1 L986.7,1297.7 L988.8,1296.4 L990.9,1295.0 L993.0,1293.7 L995.1,1292.3 L997.1,1290.9 L999.2,1289.5 L1001.3,1288.1 L1003.3,1286.7 L1005.3,1285.2 L1007.4,1283.8 L1009.4,1282.4 L1011.4,1280.9 L1013.5,1279.4 L1015.5,1278.0 L1017.5,1276.5 L1019.5,1275.0 L1021.5,1273.5 L1023.5,1272.0 L1025.5,1270.5 L1027.5,1269.0 L1029.5,1267.5 L1031.5,1266.0 L1033.4,1264.5 L1035.4,1262.9 L1037.4,1261.4 L1039.4,1259.9 L1041.4,1258.3 L1043.3,1256.8 L1045.3,1255.2 L1047.3,1253.7 L1049.2,1252.1 L1051.2,1250.6 L1053.1,1249.0 L1055.1,1247.5 L1057.1,1245.9 L1059.0,1244.4 L1061.0,1242.8 L1063.0,1241.3 L1064.9,1239.7 L1066.9,1238.1 L1068.8,1236.6 L1070.8,1235.0 L1072.8,1233.5 L1074.7,1231.9 L1076.7,1230.4 L1078.6,1228.9 L1080.6,1227.3 L1082.6,1225.8 L1084.6,1224.2 L1086.5,1222.7 L1088.5,1221.2 L1090.5,1219.7 L1092.5,1218.2 L1094.5,1216.6 L1096.4,1215.1 L1098.4,1213.6 L1100.4,1212.2 L1102.4,1210.7 L1104.4,1209.2 L1106.4,1207.7 L1108.4,1206.3 L1110.5,1204.8 L1112.5,1203.3 L1114.5,1201.9 L1116.5,1200.5 L1118.6,1199.1 L1120.6,1197.6 L1122.7,1196.2 L1124.7,1194.9 L1126.8,1193.5 L1128.8,1192.1 L1130.9,1190.7 L1133.0,1189.4 L1135.1,1188.0 L1137.2,1186.7 L1139.3,1185.4 L1141.4,1184.1 L1143.5,1182.8 L1145.6,1181.5 L1147.7,1180.2 L1149.8,1178.9 L1152.0,1177.7 L1154.1,1176.4 L1156.2,1175.2 L1158.4,1173.9 L1160.5,1172.7 L1162.7,1171.5 L1164.9,1170.2 L1167.0,1169.0 L1169.2,1167.8 L1171.4,1166.6 L1173.6,1165.4 L1175.8,1164.3 L1177.9,1163.1 L1180.1,1161.9 L1182.4,1160.8 L1184.6,1159.6 L1186.8,1158.5 L1189.0,1157.3 L1191.2,1156.2 L1193.5,1155.1 L1195.7,1154.0 L1197.9,1152.8 L1200.2,1151.7 L1202.4,1150.6 L1204.7,1149.5 L1206.9,1148.4 L1209.2,1147.3 L1211.5,1146.3 L1213.7,1145.2 L1216.0,1144.1 L1218.3,1143.0 L1220.6,1142.0 L1222.9,1140.9 L1225.1,1139.9 L1227.4,1138.8 L1229.7,1137.8 L1232.1,1136.7 L1234.4,1135.7 L1236.7,1134.7 L1239.0,1133.7 L1241.3,1132.7 L1243.6,1131.7 L1246.0,1130.7 L1248.3,1129.7 L1250.6,1128.8 L1253.0,1127.8 L1255.3,1126.9 L1257.7,1126.0 L1260.1,1125.1 L1262.4,1124.2 L1264.8,1123.4 L1267.2,1122.5 L1269.5,1121.7 L1271.9,1120.9 L1274.3,1120.2 L1276.7,1119.4 L1279.1,1118.7 L1281.5,1118.0 L1283.9,1117.3 L1286.3,1116.7 L1288.7,1116.1 L1291.2,1115.5 L1293.6,1114.9 L1296.0,1114.4 L1298.5,1113.9 L1300.9,1113.5 L1303.4,1113.0 L1305.8,1112.6 L1308.3,1112.3 L1310.7,1111.9 L1313.2,1111.6 L1315.7,1111.4 L1318.1,1111.2 L1320.6,1111.0 L1323.1,1110.9 L1325.6,1110.8 L1328.1,1110.7 L1330.5,1110.7 L1333.0,1110.8 L1335.5,1110.9 L1337.9,1111.0 L1340.4,1111.2 L1342.9,1111.5 L1345.3,1111.8 L1347.7,1112.1 L1350.2,1112.5 L1352.6,1113.0 L1355.0,1113.5 L1357.4,1114.1 L1359.7,1114.7 L1362.1,1115.4 L1364.4,1116.1 L1366.8,1116.9 L1369.1,1117.7 L1371.4,1118.6 L1373.7,1119.5 L1376.0,1120.4 L1378.3,1121.4 L1380.5,1122.5 L1382.8,1123.6 L1385.0,1124.7 L1387.2,1125.8 L1389.4,1127.0 L1391.6,1128.3 L1393.7,1129.5 L1395.9,1130.8 L1398.0,1132.1 L1400.1,1133.5 L1402.2,1134.9 L1404.3,1136.3 L1406.4,1137.7 L1408.4,1139.2 L1410.4,1140.7 L1412.4,1142.2 L1414.4,1143.7 L1416.4,1145.3 L1418.4,1146.8 L1420.3,1148.4 L1422.2,1150.0 L1424.1,1151.7 L1426.0,1153.3 L1427.9,1155.0 L1429.8,1156.6 L1431.6,1158.3 L1433.5,1160.1 L1435.3,1161.8 L1437.1,1163.5 L1438.9,1165.3 L1440.7,1167.0 L1442.5,1168.8 L1444.2,1170.6 L1446.0,1172.4 L1447.7,1174.2 L1449.5,1176.0 L1451.2,1177.8 L1452.9,1179.7 L1454.7,1181.5 L1456.4,1183.4 L1458.1,1185.2 L1459.8,1187.1 L1461.5,1188.9 L1463.2,1190.8 L1464.8,1192.7 L1466.5,1194.5 L1468.2,1196.4 L1469.9,1198.3 L1471.6,1200.2 L1473.2,1202.0 L1474.9,1203.9 L1476.6,1205.8 L1478.2,1207.7 L1479.9,1209.5 L1481.6,1211.4 L1483.2,1213.2 L1484.9,1215.1 L1486.6,1217.0 L1488.2,1218.8 L1489.9,1220.7 L1491.5,1222.5 L1493.2,1224.4 L1494.8,1226.2 L1496.5,1228.1 L1498.1,1230.0 L1499.7,1231.8 L1501.4,1233.7 L1503.0,1235.6 L1504.6,1237.5 L1506.2,1239.4 L1507.8,1241.3 L1509.4,1243.2 L1510.9,1245.1 L1512.5,1247.0 L1514.0,1248.9 L1515.6,1250.9 L1517.1,1252.8 L1518.6,1254.8 L1520.1,1256.8 L1521.5,1258.8 L1523.0,1260.8 L1524.5,1262.8 L1525.9,1264.8 L1527.3,1266.8 L1528.8,1268.9 L1530.2,1270.9 L1531.6,1273.0 L1533.0,1275.0 L1534.4,1277.1 L1535.8,1279.1 L1537.2,1281.2 L1538.6,1283.3 L1540.0,1285.3 L1541.4,1287.4 L1542.8,1289.4 L1544.2,1291.5 L1545.6,1293.6 L1547.0,1295.6 L1548.4,1297.7 L1549.8,1299.8 L1551.2,1301.8 L1552.6,1303.8 L1554.1,1305.9 L1555.5,1307.9 L1557.0,1309.9 L1558.4,1312.0 L1559.9,1314.0 L1561.4,1316.0 L1562.8,1318.0 L1564.3,1320.0 L1565.8,1321.9 L1567.4,1323.9 L1568.9,1325.9 L1570.4,1327.8 L1572.0,1329.8 L1573.5,1331.7 L1575.1,1333.6 L1576.7,1335.5 L1578.3,1337.4 L1579.9,1339.3 L1581.5,1341.2 L1583.1,1343.1 L1584.7,1345.0 L1586.4,1346.9 L1588.0,1348.7 L1589.7,1350.6 L1591.3,1352.4 L1593.0,1354.2 L1594.7,1356.0 L1596.4,1357.9 L1598.1,1359.7 L1599.9,1361.5 L1601.6,1363.3 L1603.3,1365.0 L1605.1,1366.8 L1606.9,1368.6 L1608.6,1370.3 L1610.4,1372.1 L1612.2,1373.8 L1614.0,1375.5 L1615.8,1377.2 L1617.7,1379.0 L1619.5,1380.7 L1621.4,1382.3 L1623.2,1384.0 L1625.1,1385.7 L1627.0,1387.4 L1628.9,1389.0 L1630.8,1390.7 L1632.7,1392.3 L1634.6,1393.9 L1636.5,1395.6 L1638.5,1397.2 L1640.4,1398.8 L1642.4,1400.4 L1644.4,1401.9 L1646.4,1403.5 L1648.4,1405.1 L1650.4,1406.6 L1652.4,1408.1 L1654.4,1409.7 L1656.4,1411.2 L1658.5,1412.7 L1660.5,1414.2 L1662.6,1415.6 L1664.6,1417.1 L1666.7,1418.5 L1668.8,1420.0 L1670.9,1421.4 L1673.0,1422.8 L1675.1,1424.2 L1677.2,1425.5 L1679.3,1426.9 L1681.5,1428.2 L1683.6,1429.6 L1685.7,1430.9 L1687.9,1432.2 L1690.0,1433.4 L1692.2,1434.7 L1694.4,1435.9 L1696.6,1437.1 L1698.8,1438.4 L1701.0,1439.5 L1703.2,1440.7 L1705.4,1441.9 L1707.6,1443.0 L1709.8,1444.1 L1712.0,1445.2 L1714.2,1446.3 L1716.5,1447.3 L1718.7,1448.4 L1721.0,1449.4 L1723.2,1450.4 L1725.5,1451.4 L1727.8,1452.3 L1730.0,1453.3 L1732.3,1454.2 L1734.6,1455.1 L1736.9,1456.0 L1739.2,1456.9 L1741.5,1457.8 L1743.8,1458.6 L1746.1,1459.4 L1748.4,1460.3 L1750.7,1461.1 L1753.1,1461.8 L1755.4,1462.6 L1757.7,1463.4 L1760.1,1464.1 L1762.4,1464.8 L1764.8,1465.5 L1767.1,1466.2 L1769.5,1466.9 L1771.8,1467.6 L1774.2,1468.2 L1776.6,1468.8 L1778.9,1469.5 L1781.3,1470.1 L1783.7,1470.7 L1786.1,1471.2 L1788.5,1471.8 L1790.9,1472.3 L1793.3,1472.9 L1795.7,1473.4 L1798.1,1473.9 L1800.5,1474.4 L1802.9,1474.9 L1805.4,1475.4 L1807.8,1475.8 L1810.2,1476.3 L1812.6,1476.7 L1815.1,1477.1 L1817.5,1477.6 L1820.0,1478.0 L1822.4,1478.4 L1824.9,1478.7 L1827.3,1479.1 L1829.8,1479.5 L1832.2,1479.8 L1834.7,1480.1 L1837.1,1480.5 L1839.6,1480.8 L1842.1,1481.1 L1844.6,1481.4 L1847.0,1481.7 L1849.5,1482.0 L1852.0,1482.2 L1854.5,1482.5 L1857.0,1482.7 L1859.4,1483.0 L1861.9,1483.2 L1864.4,1483.4 L1866.9,1483.6 L1869.4,1483.9 L1871.9,1484.1 L1874.4,1484.2 L1876.9,1484.4 L1879.4,1484.6 L1881.9,1484.8 L1884.4,1484.9 L1887.0,1485.1 L1889.5,1485.2 L1892.0,1485.4 L1894.5,1485.5 L1897.0,1485.6 L1899.5,1485.7 L1902.1,1485.9 L1904.6,1486.0 L1907.1,1486.1 L1909.6,1486.2 L1912.2,1486.2 L1914.7,1486.3 L1917.2,1486.4 L1919.7,1486.5 L1922.3,1486.6 L1924.8,1486.6 L1927.3,1486.7 L1929.9,1486.7 L1932.4,1486.8 L1934.9,1486.8 L1937.5,1486.9 L1940.0,1486.9 L1942.5,1486.9 L1945.1,1487.0 L1947.6,1487.0 L1950.1,1487.0 L1952.7,1487.0 L1955.2,1487.1 L1957.7,1487.1 L1960.3,1487.1 L1962.8,1487.1 L1965.3,1487.1 L1967.9,1487.1 L1970.4,1487.1 L1973.0,1487.1 L1975.5,1487.1 L1978.0,1487.1 L1980.6,1487.1 L1983.1,1487.1 L1985.6,1487.1 L1988.2,1487.1 L1990.7,1487.1 L1993.2,1487.1 L1995.8,1487.1 L1998.3,1487.1 L2000.8,1487.1 L2003.3,1487.1 L2005.9,1487.1 L2008.4,1487.0 L2010.9,1487.0 L2013.4,1487.0 L2016.0,1487.0 L2018.5,1487.0 L2021.0,1487.0 L2023.5,1487.0 L2026.0,1487.0 L2028.6,1487.0 L2031.1,1487.0 L2033.6,1487.0 L2036.1,1487.0 L2038.6,1487.1 L2041.1,1487.1 L2043.6,1487.1 L2046.1,1487.1 L2048.6,1487.1 L2051.1,1487.1 L2053.6,1487.2 L2056.1,1487.2 L2058.6,1487.2 L2061.1,1487.3 L2063.6,1487.3 L2066.1,1487.3 L2068.6,1487.4 L2071.1,1487.4 L2073.5,1487.4 L2076.0,1487.5 L2078.5,1487.5 L2081.0,1487.6 L2083.5,1487.6 L2086.0,1487.7 L2088.4,1487.7 L2090.9,1487.8 L2093.4,1487.8 L2095.9,1487.9 L2098.3,1487.9 L2100.8,1488.0 L2103.3,1488.0 L2105.8,1488.1 L2108.2,1488.2 L2110.7,1488.2 L2113.2,1488.3 L2115.6,1488.4 L2118.1,1488.4 L2120.6,1488.5 L2123.0,1488.5 L2125.5,1488.6 L2128.0,1488.7 L2130.5,1488.7 L2132.9,1488.8 L2135.4,1488.9 L2137.9,1488.9 L2140.3,1489.0 L2142.8,1489.1 L2145.3,1489.1 L2147.7,1489.2 L2150.2,1489.3 L2152.7,1489.3 L2155.1,1489.4 L2157.6,1489.5 L2160.1,1489.5 L2162.5,1489.6 L2165.0,1489.7 L2167.5,1489.7 L2169.9,1489.8 L2172.4,1489.9 L2174.9,1489.9 L2177.4,1490.0 L2179.8,1490.0 L2182.3,1490.1 L2184.8,1490.2 L2187.3,1490.2 L2189.7,1490.3 L2192.2,1490.3 L2194.7,1490.4 L2197.2,1490.4 L2199.7,1490.5 L2202.1,1490.5 L2204.6,1490.6 L2207.1,1490.6 L2209.6,1490.7 L2212.1,1490.7 L2214.6,1490.8 L2217.1,1490.8 L2219.5,1490.8 L2222.0,1490.9 L2224.5,1490.9 L2227.0,1490.9 L2229.5,1491.0 L2232.0,1491.0 L2234.5,1491.0 L2237.0,1491.1 L2239.5,1491.1 L2242.0,1491.1 L2244.6,1491.1 L2247.1,1491.1 L2249.6,1491.1 L2252.1,1491.2 L2254.6,1491.2 L2257.1,1491.2 L2259.6,1491.2 L2262.2,1491.2 L2264.7,1491.2 L2267.2,1491.1 L2269.8,1491.1 L2272.3,1491.1 L2274.8,1491.1 L2277.4,1491.1 L2279.9,1491.1 L2282.5,1491.0 L2285.0,1491.0 L2287.5,1491.0 L2290.1,1490.9 L2292.7,1490.9 L2295.2,1490.8 L2297.8,1490.8 L2300.3,1490.7 L2302.9,1490.7 L2305.0,1490.6" fill="none" stroke="#808000" stroke-width="2.5" stroke-linejoin="round"/>
<path d="M306.5,1389.7 L309.2,1390.0 L311.7,1390.2 L314.1,1390.5 L316.6,1390.7 L319.0,1391.0 L321.4,1391.3 L323.9,1391.5 L326.3,1391.8 L328.8,1392.0 L331.2,1392.3 L333.7,1392.5 L336.2,1392.8 L338.6,1393.0 L341.1,1393.3 L343.5,1393.5 L346.0,1393.8 L348.5,1394.0 L350.9,1394.2 L353.4,1394.5 L355.9,1394.7 L358.4,1394.9 L360.8,1395.1 L363.3,1395.4 L365.8,1395.6 L368.3,1395.8 L370.7,1396.0 L373.2,1396.2 L375.7,1396.4 L378.2,1396.6 L380.7,1396.8 L383.2,1397.0 L385.7,1397.2 L388.2,1397.4 L390.7,1397.6 L393.1,1397.8 L395.6,1398.0 L398.1,1398.2 L400.6,1398.3 L403.1,1398.5 L405.6,1398.7 L408.1,1398.8 L410.6,1399.0 L413.1,1399.2 L415.6,1399.3 L418.2,1399.5 L420.7,1399.6 L423.2,1399.7 L425.7,1399.9 L428.2,1400.0 L430.7,1400.1 L433.2,1400.3 L435.7,1400.4 L438.2,1400.5 L440.7,1400.6 L443.2,1400.7 L445.8,1400.8 L448.3,1400.9 L450.8,1401.0 L453.3,1401.1 L455.8,1401.2 L458.3,1401.3 L460.8,1401.4 L463.4,1401.4 L465.9,1401.5 L468.4,1401.6 L470.9,1401.6 L473.4,1401.7 L475.9,1401.7 L478.5,1401.8 L481.0,1401.8 L483.5,1401.8 L486.0,1401.9 L488.5,1401.9 L491.1,1401.9 L493.6,1401.9 L496.1,1401.9 L498.6,1401.9 L501.1,1401.9 L503.6,1401.9 L506.2,1401.9 L508.7,1401.9 L511.2,1401.8 L513.7,1401.8 L516.2,1401.8 L518.7,1401.7 L521.2,1401.7 L523.8,1401.6 L526.3,1401.5 L528.8,1401.5 L531.3,1401.4 L533.8,1401.3 L536.3,1401.2 L538.8,1401.1 L541.3,1401.0 L543.8,1400.9 L546.4,1400.8 L548.9,1400.7 L551.4,1400.6 L553.9,1400.4 L556.4,1400.3 L558.9,1400.1 L561.4,1400.0 L563.9,1399.8 L566.4,1399.6 L568.9,1399.5 L571.4,1399.3 L573.9,1399.1 L576.4,1398.9 L578.9,1398.7 L581.4,1398.5 L583.9,1398.3 L586.4,1398.0 L588.9,1397.8 L591.3,1397.6 L593.8,1397.3 L596.3,1397.1 L598.8,1396.8 L601.3,1396.5 L603.8,1396.3 L606.2,1396.0 L608.7,1395.7 L611.2,1395.4 L613.7,1395.1 L616.1,1394.7 L618.6,1394.4 L621.1,1394.1 L623.6,1393.7 L626.0,1393.4 L628.5,1393.0 L631.0,1392.7 L633.4,1392.3 L635.9,1391.9 L638.3,1391.5 L640.8,1391.1 L643.2,1390.7 L645.7,1390.3 L648.1,1389.9 L650.6,1389.4 L653.0,1389.0 L655.5,1388.5 L657.9,1388.1 L660.4,1387.6 L662.8,1387.1 L665.2,1386.6 L667.7,1386.1 L670.1,1385.6 L672.5,1385.1 L674.9,1384.6 L677.4,1384.0 L679.8,1383.5 L682.2,1382.9 L684.6,1382.4 L687.0,1381.8 L689.4,1381.2 L691.8,1380.6 L694.2,1380.0 L696.6,1379.4 L699.0,1378.8 L701.4,1378.2 L703.8,1377.5 L706.2,1376.9 L708.6,1376.2 L711.0,1375.6 L713.4,1374.9 L715.7,1374.2 L718.1,1373.5 L720.5,1372.8 L722.8,1372.1 L725.2,1371.3 L727.6,1370.6 L729.9,1369.8 L732.3,1369.1 L734.6,1368.3 L737.0,1367.5 L739.3,1366.7 L741.7,1365.9 L744.0,1365.1 L746.3,1364.3 L748.7,1363.4 L751.0,1362.6 L753.3,1361.7 L755.6,1360.9 L758.0,1360.0 L760.3,1359.1 L762.6,1358.2 L764.9,1357.3 L767.2,1356.3 L769.5,1355.4 L771.8,1354.4 L774.1,1353.5 L776.4,1352.5 L778.6,1351.5 L780.9,1350.5 L783.2,1349.5 L785.5,1348.5 L787.7,1347.5 L790.0,1346.4 L792.3,1345.4 L794.5,1344.3 L796.8,1343.3 L799.0,1342.2 L801.3,1341.1 L803.5,1340.0 L805.7,1338.9 L808.0,1337.7 L810.2,1336.6 L812.4,1335.5 L814.6,1334.3 L816.8,1333.1 L819.0,1332.0 L821.2,1330.8 L823.4,1329.6 L825.6,1328.4 L827.8,1327.1 L830.0,1325.9 L832.2,1324.7 L834.3,1323.4 L836.5,1322.2 L838.7,1320.9 L840.8,1319.6 L843.0,1318.3 L845.1,1317.0 L847.3,1315.7 L849.4,1314.4 L851.5,1313.1 L853.7,1311.8 L855.8,1310.4 L857.9,1309.1 L860.0,1307.7 L862.1,1306.3 L864.2,1305.0 L866.3,1303.6 L868.4,1302.2 L870.5,1300.8 L872.6,1299.3 L874.7,1297.9 L876.7,1296.5 L878.8,1295.0 L880.9,1293.6 L882.9,1292.1 L884.9,1290.7 L887.0,1289.2 L889.0,1287.7 L891.0,1286.2 L893.1,1284.7 L895.1,1283.2 L897.1,1281.7 L899.1,1280.2 L901.1,1278.6 L903.1,1277.1 L905.1,1275.5 L907.1,1274.0 L909.0,1272.4 L911.0,1270.8 L913.0,1269.2 L914.9,1267.7 L916.9,1266.1 L918.8,1264.5 L920.7,1262.8 L922.7,1261.2 L924.6,1259.6 L926.5,1258.0 L928.4,1256.3 L930.3,1254.7 L932.2,1253.0 L934.1,1251.4 L936.0,1249.7 L937.9,1248.0 L939.7,1246.3 L941.6,1244.6 L943.5,1242.9 L945.3,1241.2 L947.1,1239.5 L949.0,1237.8 L950.8,1236.1 L952.6,1234.3 L954.4,1232.6 L956.3,1230.9 L958.1,1229.1 L959.8,1227.4 L961.6,1225.6 L963.4,1223.8 L965.2,1222.1 L966.9,1220.3 L968.7,1218.5 L970.4,1216.7 L972.2,1214.9 L973.9,1213.1 L975.7,1211.3 L977.4,1209.5 L979.1,1207.6 L980.8,1205.8 L982.5,1204.0 L984.2,1202.2 L985.9,1200.3 L987.6,1198.5 L989.2,1196.6 L990.9,1194.8 L992.6,1192.9 L994.3,1191.1 L995.9,1189.2 L997.6,1187.4 L999.2,1185.5 L1000.9,1183.6 L1002.5,1181.8 L1004.2,1179.9 L1005.8,1178.0 L1007.5,1176.1 L1009.1,1174.3 L1010.7,1172.4 L1012.4,1170.5 L1014.0,1168.6 L1015.6,1166.7 L1017.3,1164.9 L1018.9,1163.0 L1020.5,1161.1 L1022.1,1159.2 L1023.8,1157.3 L1025.4,1155.5 L1027.0,1153.6 L1028.6,1151.7 L1030.3,1149.8 L1031.9,1148.0 L1033.5,1146.1 L1035.2,1144.2 L1036.8,1142.4 L1038.4,1140.5 L1040.1,1138.6 L1041.7,1136.8 L1043.3,1134.9 L1045.0,1133.1 L1046.6,1131.2 L1048.3,1129.4 L1049.9,1127.5 L1051.6,1125.7 L1053.3,1123.9 L1054.9,1122.0 L1056.6,1120.2 L1058.3,1118.4 L1060.0,1116.6 L1061.6,1114.7 L1063.3,1112.9 L1065.0,1111.1 L1066.7,1109.3 L1068.4,1107.6 L1070.1,1105.8 L1071.9,1104.0 L1073.6,1102.2 L1075.3,1100.5 L1077.1,1098.7 L1078.8,1097.0 L1080.6,1095.2 L1082.3,1093.5 L1084.1,1091.8 L1085.9,1090.1 L1087.7,1088.3 L1089.5,1086.6 L1091.3,1085.0 L1093.1,1083.3 L1094.9,1081.6 L1096.8,1079.9 L1098.6,1078.3 L1100.4,1076.6 L1102.3,1075.0 L1104.2,1073.4 L1106.1,1071.8 L1108.0,1070.2 L1109.9,1068.6 L1111.8,1067.0 L1113.7,1065.4 L1115.7,1063.9 L1117.6,1062.3 L1119.6,1060.8 L1121.6,1059.2 L1123.6,1057.7 L1125.6,1056.2 L1127.6,1054.7 L1129.6,1053.3 L1131.6,1051.8 L1133.7,1050.3 L1135.7,1048.9 L1137.8,1047.5 L1139.9,1046.1 L1142.0,1044.7 L1144.1,1043.3 L1146.2,1041.9 L1148.3,1040.6 L1150.5,1039.2 L1152.6,1037.9 L1154.7,1036.6 L1156.9,1035.3 L1159.1,1034.0 L1161.3,1032.7 L1163.4,1031.5 L1165.6,1030.2 L1167.8,1029.0 L1170.1,1027.8 L1172.3,1026.6 L1174.5,1025.4 L1176.8,1024.3 L1179.0,1023.1 L1181.3,1022.0 L1183.5,1020.9 L1185.8,1019.8 L1188.1,1018.7 L1190.4,1017.7 L1192.7,1016.6 L1195.0,1015.6 L1197.3,1014.6 L1199.6,1013.6 L1201.9,1012.6 L1204.3,1011.7 L1206.6,1010.8 L1209.0,1009.8 L1211.3,1008.9 L1213.7,1008.1 L1216.1,1007.2 L1218.4,1006.4 L1220.8,1005.5 L1223.2,1004.7 L1225.6,1004.0 L1228.0,1003.2 L1230.4,1002.4 L1232.8,1001.7 L1235.2,1001.0 L1237.6,1000.3 L1240.0,999.7 L1242.5,999.0 L1244.9,998.4 L1247.3,997.8 L1249.8,997.2 L1252.2,996.7 L1254.7,996.1 L1257.1,995.6 L1259.6,995.1 L1262.1,994.7 L1264.5,994.2 L1267.0,993.8 L1269.5,993.4 L1272.0,993.0 L1274.4,992.7 L1276.9,992.3 L1279.4,992.0 L1281.9,991.7 L1284.4,991.5 L1286.9,991.3 L1289.4,991.1 L1291.9,990.9 L1294.3,990.8 L1296.8,990.7 L1299.3,990.6 L1301.8,990.6 L1304.3,990.6 L1306.7,990.7 L1309.2,990.8 L1311.6,991.0 L1314.1,991.2 L1316.5,991.4 L1318.9,991.7 L1321.3,992.1 L1323.7,992.5 L1326.1,993.0 L1328.4,993.5 L1330.8,994.1 L1333.1,994.7 L1335.4,995.4 L1337.7,996.1 L1340.0,996.9 L1342.3,997.7 L1344.6,998.6 L1346.8,999.6 L1349.0,1000.6 L1351.2,1001.6 L1353.4,1002.7 L1355.5,1003.8 L1357.7,1005.0 L1359.8,1006.2 L1361.9,1007.5 L1363.9,1008.8 L1366.0,1010.2 L1368.0,1011.6 L1370.0,1013.1 L1372.0,1014.6 L1373.9,1016.1 L1375.8,1017.7 L1377.8,1019.3 L1379.7,1020.9 L1381.5,1022.6 L1383.4,1024.3 L1385.2,1026.0 L1387.1,1027.8 L1388.9,1029.5 L1390.7,1031.3 L1392.5,1033.1 L1394.2,1035.0 L1396.0,1036.8 L1397.7,1038.7 L1399.5,1040.6 L1401.2,1042.5 L1402.9,1044.4 L1404.6,1046.3 L1406.3,1048.2 L1407.9,1050.1 L1409.6,1052.0 L1411.3,1053.9 L1412.9,1055.9 L1414.5,1057.8 L1416.2,1059.8 L1417.8,1061.7 L1419.4,1063.7 L1421.0,1065.6 L1422.6,1067.6 L1424.1,1069.5 L1425.7,1071.5 L1427.3,1073.5 L1428.8,1075.5 L1430.3,1077.5 L1431.9,1079.5 L1433.4,1081.5 L1434.9,1083.5 L1436.4,1085.5 L1437.9,1087.5 L1439.3,1089.6 L1440.8,1091.6 L1442.3,1093.6 L1443.7,1095.7 L1445.1,1097.7 L1446.6,1099.8 L1448.0,1101.8 L1449.4,1103.9 L1450.8,1106.0 L1452.2,1108.0 L1453.5,1110.1 L1454.9,1112.2 L1456.2,1114.3 L1457.6,1116.4 L1458.9,1118.5 L1460.3,1120.6 L1461.6,1122.7 L1462.9,1124.9 L1464.2,1127.0 L1465.5,1129.1 L1466.8,1131.3 L1468.1,1133.4 L1469.4,1135.5 L1470.6,1137.7 L1471.9,1139.8 L1473.2,1142.0 L1474.4,1144.1 L1475.7,1146.3 L1476.9,1148.4 L1478.2,1150.6 L1479.4,1152.8 L1480.6,1154.9 L1481.8,1157.1 L1483.1,1159.3 L1484.3,1161.5 L1485.5,1163.6 L1486.7,1165.8 L1487.9,1168.0 L1489.1,1170.2 L1490.3,1172.4 L1491.5,1174.6 L1492.7,1176.7 L1493.9,1178.9 L1495.1,1181.1 L1496.3,1183.3 L1497.5,1185.5 L1498.7,1187.7 L1499.9,1189.9 L1501.1,1192.1 L1502.3,1194.3 L1503.5,1196.4 L1504.7,1198.6 L1505.8,1200.8 L1507.0,1203.0 L1508.2,1205.2 L1509.4,1207.4 L1510.6,1209.6 L1511.8,1211.8 L1513.0,1213.9 L1514.2,1216.1 L1515.4,1218.3 L1516.6,1220.5 L1517.9,1222.6 L1519.1,1224.8 L1520.3,1227.0 L1521.5,1229.2 L1522.7,1231.3 L1524.0,1233.5 L1525.2,1235.6 L1526.4,1237.8 L1527.7,1239.9 L1528.9,1242.1 L1530.2,1244.2 L1531.5,1246.4 L1532.7,1248.5 L1534.0,1250.7 L1535.3,1252.8 L1536.6,1254.9 L1537.9,1257.0 L1539.2,1259.2 L1540.5,1261.3 L1541.8,1263.4 L1543.1,1265.5 L1544.4,1267.6 L1545.8,1269.7 L1547.1,1271.7 L1548.5,1273.8 L1549.9,1275.9 L1551.2,1278.0 L1552.6,1280.0 L1554.0,1282.1 L1555.4,1284.1 L1556.8,1286.2 L1558.3,1288.2 L1559.7,1290.3 L1561.2,1292.3 L1562.6,1294.3 L1564.1,1296.3 L1565.6,1298.3 L1567.0,1300.3 L1568.5,1302.3 L1570.1,1304.3 L1571.6,1306.3 L1573.1,1308.2 L1574.6,1310.2 L1576.2,1312.2 L1577.7,1314.1 L1579.3,1316.1 L1580.9,1318.0 L1582.4,1320.0 L1584.0,1321.9 L1585.6,1323.8 L1587.2,1325.8 L1588.8,1327.7 L1590.5,1329.6 L1592.1,1331.5 L1593.7,1333.4 L1595.4,1335.3 L1597.0,1337.2 L1598.7,1339.1 L1600.3,1340.9 L1602.0,1342.8 L1603.7,1344.7 L1605.4,1346.6 L1607.1,1348.4 L1608.8,1350.3 L1610.5,1352.1 L1612.2,1354.0 L1613.9,1355.8 L1615.6,1357.7 L1617.4,1359.5 L1619.1,1361.3 L1620.9,1363.1 L1622.6,1365.0 L1624.4,1366.8 L1626.1,1368.6 L1627.9,1370.4 L1629.7,1372.2 L1631.4,1374.0 L1633.2,1375.8 L1635.0,1377.6 L1636.8,1379.4 L1638.6,1381.2 L1640.4,1382.9 L1642.2,1384.7 L1644.1,1386.4 L1645.9,1388.2 L1647.7,1389.9 L1649.6,1391.6 L1651.5,1393.3 L1653.3,1394.9 L1655.2,1396.6 L1657.1,1398.2 L1659.0,1399.8 L1661.0,1401.4 L1662.9,1403.0 L1664.9,1404.5 L1666.9,1406.1 L1668.8,1407.5 L1670.9,1409.0 L1672.9,1410.4 L1674.9,1411.8 L1677.0,1413.2 L1679.1,1414.5 L1681.1,1415.8 L1683.2,1417.1 L1685.4,1418.4 L1687.5,1419.6 L1689.7,1420.8 L1691.8,1422.0 L1694.0,1423.2 L1696.2,1424.3 L1698.4,1425.4 L1700.6,1426.5 L1702.9,1427.5 L1705.1,1428.6 L1707.4,1429.6 L1709.6,1430.5 L1711.9,1431.5 L1714.2,1432.5 L1716.5,1433.4 L1718.8,1434.3 L1721.1,1435.1 L1723.4,1436.0 L1725.8,1436.8 L1728.1,1437.7 L1730.5,1438.5 L1732.8,1439.2 L1735.2,1440.0 L1737.6,1440.8 L1740.0,1441.5 L1742.3,1442.2 L1744.7,1442.9 L1747.1,1443.6 L1749.5,1444.3 L1752.0,1444.9 L1754.4,1445.5 L1756.8,1446.2 L1759.2,1446.8 L1761.6,1447.4 L1764.1,1447.9 L1766.5,1448.5 L1768.9,1449.1 L1771.4,1449.6 L1773.8,1450.2 L1776.3,1450.7 L1778.7,1451.2 L1781.2,1451.7 L1783.6,1452.2 L1786.0,1452.7 L1788.5,1453.2 L1790.9,1453.6 L1793.4,1454.1 L1795.9,1454.5 L1798.3,1454.9 L1800.8,1455.4 L1803.2,1455.8 L1805.7,1456.2 L1808.1,1456.6 L1810.6,1457.0 L1813.1,1457.3 L1815.5,1457.7 L1818.0,1458.1 L1820.5,1458.4 L1822.9,1458.8 L1825.4,1459.1 L1827.9,1459.4 L1830.4,1459.7 L1832.8,1460.0 L1835.3,1460.3 L1837.8,1460.6 L1840.3,1460.9 L1842.7,1461.2 L1845.2,1461.5 L1847.7,1461.7 L1850.2,1462.0 L1852.7,1462.2 L1855.2,1462.4 L1857.6,1462.7 L1860.1,1462.9 L1862.6,1463.1 L1865.1,1463.3 L1867.6,1463.5 L1870.1,1463.7 L1872.6,1463.9 L1875.1,1464.1 L1877.6,1464.3 L1880.0,1464.5 L1882.5,1464.6 L1885.0,1464.8 L1887.5,1464.9 L1890.0,1465.1 L1892.5,1465.2 L1895.0,1465.4 L1897.5,1465.5 L1900.0,1465.6 L1902.5,1465.8 L1905.0,1465.9 L1907.5,1466.0 L1910.0,1466.1 L1912.5,1466.2 L1915.0,1466.3 L1917.5,1466.4 L1920.0,1466.5 L1922.5,1466.6 L1925.0,1466.7 L1927.5,1466.7 L1930.0,1466.8 L1932.6,1466.9 L1935.1,1467.0 L1937.6,1467.0 L1940.1,1467.1 L1942.6,1467.2 L1945.1,1467.2 L1947.6,1467.3 L1950.1,1467.3 L1952.6,1467.4 L1955.1,1467.4 L1957.6,1467.4 L1960.1,1467.5 L1962.6,1467.5 L1965.2,1467.6 L1967.7,1467.6 L1970.2,1467.6 L1972.7,1467.6 L1975.2,1467.7 L1977.7,1467.7 L1980.2,1467.7 L1982.7,1467.8 L1985.2,1467.8 L1987.7,1467.8 L1990.2,1467.8 L1992.7,1467.8 L1995.3,1467.9 L1997.8,1467.9 L2000.3,1467.9 L2002.8,1467.9 L2005.3,1467.9 L2007.8,1467.9 L2010.3,1468.0 L2012.8,1468.0 L2015.3,1468.0 L2017.8,1468.0 L2020.3,1468.0 L2022.8,1468.0 L2025.3,1468.1 L2027.8,1468.1 L2030.3,1468.1 L2032.9,1468.1 L2035.4,1468.1 L2037.9,1468.2 L2040.4,1468.2 L2042.9,1468.2 L2045.4,1468.2 L2047.9,1468.3 L2050.4,1468.3 L2052.9,1468.3 L2055.4,1468.3 L2057.9,1468.4 L2060.4,1468.4 L2062.9,1468.5 L2065.4,1468.5 L2067.9,1468.5 L2070.4,1468.6 L2072.9,1468.6 L2075.3,1468.6 L2077.8,1468.7 L2080.3,1468.7 L2082.8,1468.8 L2085.3,1468.8 L2087.8,1468.9 L2090.3,1468.9 L2092.8,1468.9 L2095.3,1469.0 L2097.8,1469.0 L2100.3,1469.1 L2102.8,1469.1 L2105.3,1469.2 L2107.8,1469.2 L2110.3,1469.3 L2112.8,1469.3 L2115.2,1469.4 L2117.7,1469.5 L2120.2,1469.5 L2122.7,1469.6 L2125.2,1469.6 L2127.7,1469.7 L2130.2,1469.7 L2132.7,1469.8 L2135.2,1469.8 L2137.7,1469.9 L2140.2,1469.9 L2142.7,1470.0 L2145.1,1470.1 L2147.6,1470.1 L2150.1,1470.2 L2152.6,1470.2 L2155.1,1470.3 L2157.6,1470.3 L2160.1,1470.4 L2162.6,1470.4 L2165.1,1470.5 L2167.6,1470.6 L2170.1,1470.6 L2172.6,1470.7 L2175.0,1470.7 L2177.5,1470.8 L2180.0,1470.8 L2182.5,1470.9 L2185.0,1470.9 L2187.5,1471.0 L2190.0,1471.1 L2192.5,1471.1 L2195.0,1471.2 L2197.5,1471.2 L2200.0,1471.3 L2202.5,1471.3 L2205.0,1471.4 L2207.5,1471.4 L2210.0,1471.5 L2212.4,1471.5 L2214.9,1471.6 L2217.4,1471.6 L2219.9,1471.7 L2222.4,1471.7 L2224.9,1471.7 L2227.4,1471.8 L2229.9,1471.8 L2232.4,1471.9 L2234.9,1471.9 L2237.4,1472.0 L2239.9,1472.0 L2242.4,1472.0 L2244.9,1472.1 L2247.4,1472.1 L2249.9,1472.1 L2252.4,1472.2 L2254.9,1472.2 L2257.4,1472.2 L2259.9,1472.3 L2262.4,1472.3 L2264.9,1472.3 L2267.4,1472.4 L2270.0,1472.4 L2272.5,1472.4 L2275.0,1472.4 L2277.5,1472.4 L2280.0,1472.5 L2282.5,1472.5 L2285.0,1472.5 L2287.5,1472.5 L2290.0,1472.5 L2292.5,1472.5 L2295.1,1472.5 L2297.6,1472.6 L2300.1,1472.6 L2302.6,1472.6 L2305.0,1472.6" fill="none" stroke="#2c62a4" stroke-width="2.5" stroke-linejoin="round"/>
<path d="M306.5,1452.2 L309.0,1452.3 L311.5,1452.4 L314.0,1452.4 L316.5,1452.5 L319.0,1452.6 L321.5,1452.7 L324.0,1452.8 L326.5,1452.8 L329.0,1452.9 L331.5,1453.0 L334.0,1453.1 L336.5,1453.2 L339.0,1453.3 L341.5,1453.4 L344.0,1453.5 L346.5,1453.6 L349.0,1453.7 L351.5,1453.8 L354.0,1453.9 L356.5,1454.0 L359.0,1454.1 L361.5,1454.2 L364.0,1454.3 L366.5,1454.4 L369.0,1454.5 L371.5,1454.7 L374.0,1454.8 L376.5,1454.9 L379.0,1455.0 L381.5,1455.1 L384.0,1455.2 L386.5,1455.3 L389.0,1455.4 L391.5,1455.5 L394.0,1455.7 L396.5,1455.8 L398.9,1455.9 L401.4,1456.0 L403.9,1456.1 L406.4,1456.2 L408.9,1456.3 L411.4,1456.4 L413.9,1456.5 L416.4,1456.6 L418.9,1456.7 L421.4,1456.9 L423.9,1457.0 L426.4,1457.1 L428.9,1457.2 L431.4,1457.3 L433.9,1457.3 L436.4,1457.4 L438.9,1457.5 L441.4,1457.6 L443.9,1457.7 L446.4,1457.8 L448.9,1457.9 L451.4,1458.0 L453.9,1458.0 L456.4,1458.1 L458.9,1458.2 L461.4,1458.3 L463.9,1458.3 L466.4,1458.4 L468.9,1458.4 L471.4,1458.5 L473.9,1458.6 L476.4,1458.6 L478.9,1458.7 L481.4,1458.7 L483.9,1458.7 L486.4,1458.8 L488.9,1458.8 L491.4,1458.8 L493.9,1458.9 L496.3,1458.9 L498.8,1458.9 L501.3,1458.9 L503.8,1458.9 L506.3,1458.9 L508.8,1458.9 L511.3,1458.9 L513.8,1458.9 L516.3,1458.9 L518.8,1458.8 L521.3,1458.8 L523.8,1458.8 L526.3,1458.7 L528.8,1458.7 L531.3,1458.7 L533.8,1458.6 L536.3,1458.5 L538.8,1458.5 L541.3,1458.4 L543.8,1458.3 L546.2,1458.2 L548.7,1458.1 L551.2,1458.0 L553.7,1457.9 L556.2,1457.8 L558.7,1457.7 L561.2,1457.6 L563.7,1457.5 L566.2,1457.3 L568.7,1457.2 L571.2,1457.0 L573.7,1456.9 L576.2,1456.7 L578.7,1456.5 L581.2,1456.3 L583.6,1456.2 L586.1,1456.0 L588.6,1455.8 L591.1,1455.5 L593.6,1455.3 L596.1,1455.1 L598.6,1454.9 L601.1,1454.6 L603.6,1454.4 L606.1,1454.1 L608.6,1453.8 L611.0,1453.5 L613.5,1453.3 L616.0,1453.0 L618.5,1452.7 L621.0,1452.3 L623.5,1452.0 L626.0,1451.7 L628.5,1451.3 L631.0,1451.0 L633.4,1450.6 L635.9,1450.2 L638.4,1449.9 L640.9,1449.5 L643.4,1449.0 L645.8,1448.6 L648.3,1448.2 L650.8,1447.7 L653.3,1447.3 L655.7,1446.8 L658.2,1446.3 L660.6,1445.8 L663.1,1445.3 L665.5,1444.7 L668.0,1444.2 L670.4,1443.6 L672.8,1443.0 L675.3,1442.4 L677.7,1441.8 L680.1,1441.2 L682.5,1440.5 L684.9,1439.8 L687.3,1439.1 L689.7,1438.4 L692.0,1437.7 L694.4,1436.9 L696.8,1436.2 L699.1,1435.4 L701.5,1434.6 L703.8,1433.8 L706.2,1433.0 L708.5,1432.1 L710.9,1431.3 L713.2,1430.4 L715.5,1429.5 L717.8,1428.6 L720.1,1427.7 L722.5,1426.8 L724.8,1425.9 L727.1,1425.0 L729.4,1424.1 L731.7,1423.1 L734.0,1422.2 L736.3,1421.2 L738.6,1420.2 L740.9,1419.3 L743.2,1418.3 L745.5,1417.3 L747.8,1416.3 L750.0,1415.4 L752.3,1414.4 L754.6,1413.4 L756.9,1412.4 L759.2,1411.4 L761.5,1410.4 L763.8,1409.4 L766.1,1408.5 L768.4,1407.5 L770.7,1406.5 L773.0,1405.5 L775.3,1404.5 L777.6,1403.6 L779.9,1402.6 L782.3,1401.6 L784.6,1400.7 L786.9,1399.7 L789.2,1398.7 L791.5,1397.8 L793.8,1396.8 L796.1,1395.8 L798.4,1394.9 L800.8,1393.9 L803.1,1392.9 L805.4,1391.9 L807.7,1391.0 L810.0,1390.0 L812.3,1389.0 L814.6,1388.0 L816.9,1387.0 L819.2,1386.0 L821.5,1385.0 L823.7,1384.0 L826.0,1382.9 L828.3,1381.9 L830.6,1380.9 L832.8,1379.8 L835.1,1378.7 L837.3,1377.7 L839.6,1376.6 L841.8,1375.5 L844.0,1374.4 L846.3,1373.3 L848.5,1372.2 L850.7,1371.0 L852.9,1369.9 L855.1,1368.7 L857.3,1367.5 L859.5,1366.3 L861.6,1365.1 L863.8,1363.9 L865.9,1362.6 L868.1,1361.4 L870.2,1360.1 L872.3,1358.8 L874.4,1357.5 L876.5,1356.1 L878.6,1354.8 L880.6,1353.4 L882.7,1352.0 L884.7,1350.6 L886.8,1349.2 L888.8,1347.7 L890.8,1346.3 L892.8,1344.8 L894.8,1343.3 L896.7,1341.7 L898.7,1340.2 L900.7,1338.7 L902.6,1337.1 L904.6,1335.5 L906.5,1333.9 L908.4,1332.3 L910.3,1330.7 L912.2,1329.1 L914.1,1327.4 L916.0,1325.8 L917.9,1324.1 L919.7,1322.5 L921.6,1320.8 L923.5,1319.1 L925.3,1317.4 L927.2,1315.7 L929.0,1314.0 L930.8,1312.2 L932.7,1310.5 L934.5,1308.8 L936.3,1307.0 L938.1,1305.3 L939.9,1303.6 L941.7,1301.8 L943.5,1300.1 L945.3,1298.3 L947.1,1296.5 L948.9,1294.8 L950.7,1293.0 L952.5,1291.2 L954.2,1289.5 L956.0,1287.7 L957.8,1285.9 L959.6,1284.2 L961.3,1282.4 L963.1,1280.6 L964.8,1278.8 L966.6,1277.0 L968.3,1275.2 L970.1,1273.4 L971.8,1271.6 L973.6,1269.8 L975.3,1268.0 L977.0,1266.2 L978.8,1264.4 L980.5,1262.6 L982.2,1260.8 L983.9,1259.0 L985.7,1257.2 L987.4,1255.4 L989.1,1253.6 L990.8,1251.7 L992.5,1249.9 L994.2,1248.1 L995.9,1246.2 L997.6,1244.4 L999.3,1242.6 L1000.9,1240.7 L1002.6,1238.9 L1004.3,1237.1 L1006.0,1235.2 L1007.7,1233.4 L1009.3,1231.5 L1011.0,1229.6 L1012.7,1227.8 L1014.3,1225.9 L1016.0,1224.1 L1017.6,1222.2 L1019.3,1220.3 L1020.9,1218.5 L1022.6,1216.6 L1024.2,1214.7 L1025.9,1212.8 L1027.5,1211.0 L1029.1,1209.1 L1030.8,1207.2 L1032.4,1205.3 L1034.0,1203.4 L1035.6,1201.5 L1037.3,1199.6 L1038.9,1197.7 L1040.5,1195.8 L1042.1,1193.9 L1043.7,1192.0 L1045.4,1190.1 L1047.0,1188.2 L1048.6,1186.3 L1050.2,1184.4 L1051.8,1182.5 L1053.4,1180.6 L1055.1,1178.7 L1056.7,1176.8 L1058.3,1174.9 L1059.9,1173.0 L1061.6,1171.2 L1063.2,1169.3 L1064.9,1167.4 L1066.5,1165.5 L1068.1,1163.6 L1069.8,1161.8 L1071.4,1159.9 L1073.1,1158.0 L1074.8,1156.2 L1076.4,1154.3 L1078.1,1152.5 L1079.8,1150.7 L1081.5,1148.8 L1083.2,1147.0 L1084.9,1145.2 L1086.6,1143.4 L1088.3,1141.6 L1090.0,1139.8 L1091.8,1138.0 L1093.5,1136.2 L1095.3,1134.4 L1097.0,1132.7 L1098.8,1130.9 L1100.6,1129.2 L1102.4,1127.4 L1104.2,1125.7 L1106.0,1124.0 L1107.8,1122.3 L1109.7,1120.6 L1111.5,1118.9 L1113.4,1117.2 L1115.3,1115.6 L1117.1,1113.9 L1119.0,1112.3 L1120.9,1110.6 L1122.9,1109.0 L1124.8,1107.4 L1126.7,1105.8 L1128.7,1104.2 L1130.6,1102.6 L1132.6,1101.1 L1134.5,1099.5 L1136.5,1097.9 L1138.5,1096.4 L1140.5,1094.9 L1142.5,1093.3 L1144.5,1091.8 L1146.5,1090.3 L1148.5,1088.8 L1150.5,1087.3 L1152.5,1085.8 L1154.5,1084.3 L1156.6,1082.8 L1158.6,1081.4 L1160.6,1079.9 L1162.6,1078.4 L1164.7,1077.0 L1166.7,1075.5 L1168.7,1074.1 L1170.8,1072.7 L1172.8,1071.2 L1174.9,1069.8 L1176.9,1068.4 L1178.9,1067.0 L1181.0,1065.5 L1183.0,1064.1 L1185.0,1062.7 L1187.1,1061.3 L1189.1,1059.9 L1191.2,1058.5 L1193.2,1057.2 L1195.3,1055.8 L1197.3,1054.4 L1199.3,1053.0 L1201.4,1051.6 L1203.4,1050.3 L1205.5,1048.9 L1207.6,1047.5 L1209.6,1046.2 L1211.7,1044.8 L1213.7,1043.5 L1215.8,1042.1 L1217.9,1040.8 L1219.9,1039.4 L1222.0,1038.1 L1224.1,1036.7 L1226.2,1035.4 L1228.2,1034.0 L1230.3,1032.7 L1232.4,1031.4 L1234.5,1030.0 L1236.6,1028.7 L1238.7,1027.3 L1240.8,1026.0 L1242.9,1024.7 L1245.0,1023.4 L1247.2,1022.0 L1249.3,1020.7 L1251.4,1019.4 L1253.5,1018.0 L1255.7,1016.7 L1257.8,1015.4 L1260.0,1014.1 L1262.1,1012.7 L1264.3,1011.4 L1266.5,1010.1 L1268.6,1008.7 L1270.8,1007.4 L1273.0,1006.1 L1275.2,1004.8 L1277.4,1003.4 L1279.6,1002.1 L1281.8,1000.8 L1284.0,999.4 L1286.2,998.1 L1288.5,996.8 L1290.7,995.6 L1293.0,994.3 L1295.2,993.0 L1297.5,991.8 L1299.7,990.6 L1302.0,989.5 L1304.3,988.3 L1306.6,987.2 L1308.8,986.1 L1311.1,985.1 L1313.4,984.1 L1315.8,983.2 L1318.1,982.3 L1320.4,981.4 L1322.7,980.6 L1325.1,979.9 L1327.4,979.2 L1329.8,978.5 L1332.1,978.0 L1334.5,977.5 L1336.9,977.0 L1339.2,976.6 L1341.6,976.3 L1344.0,976.1 L1346.4,976.0 L1348.8,975.9 L1351.2,975.9 L1353.6,976.0 L1356.1,976.1 L1358.5,976.3 L1360.9,976.6 L1363.3,977.0 L1365.7,977.4 L1368.1,977.9 L1370.4,978.4 L1372.8,979.0 L1375.2,979.7 L1377.5,980.4 L1379.8,981.2 L1382.1,982.0 L1384.4,982.9 L1386.6,983.8 L1388.9,984.8 L1391.1,985.8 L1393.3,986.9 L1395.5,988.0 L1397.6,989.2 L1399.7,990.4 L1401.8,991.6 L1403.9,992.9 L1406.0,994.2 L1408.0,995.6 L1410.1,997.0 L1412.1,998.5 L1414.1,999.9 L1416.0,1001.5 L1418.0,1003.0 L1419.9,1004.6 L1421.8,1006.2 L1423.7,1007.9 L1425.5,1009.6 L1427.4,1011.3 L1429.2,1013.0 L1431.0,1014.8 L1432.8,1016.6 L1434.6,1018.4 L1436.3,1020.3 L1438.1,1022.1 L1439.8,1024.0 L1441.5,1025.9 L1443.2,1027.9 L1444.8,1029.8 L1446.5,1031.8 L1448.1,1033.8 L1449.7,1035.8 L1451.3,1037.8 L1452.9,1039.9 L1454.5,1041.9 L1456.0,1044.0 L1457.6,1046.1 L1459.1,1048.2 L1460.6,1050.2 L1462.0,1052.4 L1463.5,1054.5 L1465.0,1056.6 L1466.4,1058.7 L1467.8,1060.8 L1469.2,1063.0 L1470.6,1065.1 L1472.0,1067.2 L1473.4,1069.4 L1474.7,1071.5 L1476.1,1073.7 L1477.4,1075.8 L1478.7,1078.0 L1480.0,1080.1 L1481.3,1082.3 L1482.6,1084.4 L1483.8,1086.6 L1485.1,1088.8 L1486.3,1090.9 L1487.6,1093.1 L1488.8,1095.3 L1490.0,1097.5 L1491.2,1099.6 L1492.4,1101.8 L1493.6,1104.0 L1494.8,1106.2 L1496.0,1108.4 L1497.2,1110.5 L1498.3,1112.7 L1499.5,1114.9 L1500.6,1117.1 L1501.8,1119.3 L1502.9,1121.5 L1504.1,1123.7 L1505.2,1125.9 L1506.3,1128.1 L1507.4,1130.3 L1508.6,1132.4 L1509.7,1134.6 L1510.8,1136.8 L1511.9,1139.0 L1513.0,1141.2 L1514.1,1143.4 L1515.2,1145.6 L1516.3,1147.8 L1517.4,1150.0 L1518.5,1152.2 L1519.6,1154.4 L1520.8,1156.6 L1521.9,1158.8 L1523.0,1161.0 L1524.1,1163.2 L1525.2,1165.4 L1526.3,1167.6 L1527.4,1169.8 L1528.5,1172.0 L1529.7,1174.2 L1530.8,1176.4 L1531.9,1178.6 L1533.1,1180.8 L1534.2,1183.0 L1535.4,1185.2 L1536.5,1187.3 L1537.7,1189.5 L1538.8,1191.7 L1540.0,1193.9 L1541.2,1196.1 L1542.4,1198.3 L1543.6,1200.4 L1544.8,1202.6 L1546.0,1204.8 L1547.2,1207.0 L1548.4,1209.1 L1549.6,1211.3 L1550.9,1213.5 L1552.1,1215.6 L1553.4,1217.8 L1554.7,1220.0 L1555.9,1222.1 L1557.2,1224.3 L1558.5,1226.4 L1559.8,1228.6 L1561.1,1230.7 L1562.4,1232.9 L1563.7,1235.1 L1565.0,1237.2 L1566.3,1239.4 L1567.6,1241.5 L1569.0,1243.7 L1570.3,1245.8 L1571.6,1248.0 L1572.9,1250.1 L1574.2,1252.3 L1575.6,1254.4 L1576.9,1256.6 L1578.2,1258.7 L1579.5,1260.9 L1580.9,1263.0 L1582.2,1265.2 L1583.5,1267.3 L1584.8,1269.5 L1586.1,1271.7 L1587.4,1273.8 L1588.7,1276.0 L1590.0,1278.1 L1591.3,1280.3 L1592.6,1282.5 L1593.9,1284.6 L1595.2,1286.8 L1596.5,1289.0 L1597.8,1291.2 L1599.0,1293.3 L1600.3,1295.5 L1601.5,1297.7 L1602.8,1299.9 L1604.0,1302.1 L1605.2,1304.3 L1606.4,1306.4 L1607.7,1308.6 L1608.9,1310.8 L1610.1,1313.0 L1611.2,1315.2 L1612.4,1317.4 L1613.6,1319.6 L1614.8,1321.8 L1616.0,1324.0 L1617.1,1326.2 L1618.3,1328.4 L1619.5,1330.6 L1620.6,1332.8 L1621.8,1335.0 L1623.0,1337.2 L1624.2,1339.4 L1625.3,1341.6 L1626.5,1343.8 L1627.7,1346.0 L1628.9,1348.2 L1630.1,1350.4 L1631.3,1352.5 L1632.5,1354.7 L1633.7,1356.9 L1634.9,1359.0 L1636.2,1361.2 L1637.4,1363.3 L1638.7,1365.5 L1639.9,1367.6 L1641.2,1369.7 L1642.5,1371.9 L1643.8,1374.0 L1645.1,1376.1 L1646.5,1378.2 L1647.8,1380.3 L1649.2,1382.4 L1650.5,1384.5 L1651.9,1386.5 L1653.4,1388.6 L1654.8,1390.6 L1656.3,1392.7 L1657.7,1394.7 L1659.2,1396.7 L1660.7,1398.7 L1662.2,1400.7 L1663.8,1402.7 L1665.3,1404.7 L1666.9,1406.7 L1668.5,1408.6 L1670.1,1410.5 L1671.7,1412.5 L1673.3,1414.4 L1675.0,1416.3 L1676.6,1418.2 L1678.3,1420.0 L1680.0,1421.9 L1681.7,1423.8 L1683.4,1425.6 L1685.2,1427.4 L1686.9,1429.2 L1688.7,1431.0 L1690.5,1432.8 L1692.3,1434.5 L1694.1,1436.2 L1695.9,1438.0 L1697.8,1439.7 L1699.6,1441.4 L1701.5,1443.0 L1703.4,1444.7 L1705.3,1446.3 L1707.2,1447.9 L1709.1,1449.5 L1711.0,1451.1 L1713.0,1452.7 L1715.0,1454.2 L1716.9,1455.7 L1718.9,1457.2 L1720.9,1458.7 L1722.9,1460.2 L1725.0,1461.6 L1727.0,1463.0 L1729.0,1464.4 L1731.1,1465.8 L1733.2,1467.2 L1735.3,1468.5 L1737.4,1469.8 L1739.5,1471.1 L1741.6,1472.4 L1743.7,1473.6 L1745.9,1474.8 L1748.0,1476.0 L1750.2,1477.2 L1752.4,1478.3 L1754.6,1479.5 L1756.8,1480.6 L1759.0,1481.6 L1761.2,1482.7 L1763.4,1483.7 L1765.6,1484.7 L1767.9,1485.7 L1770.2,1486.6 L1772.4,1487.5 L1774.7,1488.4 L1777.0,1489.3 L1779.3,1490.2 L1781.6,1491.0 L1783.9,1491.8 L1786.2,1492.6 L1788.5,1493.4 L1790.9,1494.1 L1793.2,1494.9 L1795.6,1495.6 L1797.9,1496.2 L1800.3,1496.9 L1802.7,1497.6 L1805.1,1498.2 L1807.5,1498.8 L1809.9,1499.4 L1812.3,1499.9 L1814.7,1500.5 L1817.1,1501.0 L1819.5,1501.5 L1822.0,1502.0 L1824.4,1502.5 L1826.8,1503.0 L1829.3,1503.4 L1831.7,1503.9 L1834.2,1504.3 L1836.7,1504.7 L1839.1,1505.1 L1841.6,1505.5 L1844.1,1505.8 L1846.6,1506.2 L1849.1,1506.5 L1851.6,1506.8 L1854.1,1507.1 L1856.6,1507.4 L1859.1,1507.7 L1861.6,1508.0 L1864.1,1508.2 L1866.6,1508.5 L1869.1,1508.7 L1871.6,1509.0 L1874.2,1509.2 L1876.7,1509.4 L1879.2,1509.6 L1881.8,1509.8 L1884.3,1509.9 L1886.8,1510.1 L1889.4,1510.3 L1891.9,1510.4 L1894.5,1510.6 L1897.0,1510.7 L1899.5,1510.8 L1902.1,1511.0 L1904.6,1511.1 L1907.2,1511.2 L1909.7,1511.3 L1912.3,1511.4 L1914.8,1511.5 L1917.4,1511.6 L1919.9,1511.7 L1922.5,1511.8 L1925.0,1511.8 L1927.6,1511.9 L1930.1,1512.0 L1932.7,1512.1 L1935.2,1512.1 L1937.8,1512.2 L1940.3,1512.2 L1942.9,1512.3 L1945.4,1512.4 L1948.0,1512.4 L1950.5,1512.5 L1953.0,1512.5 L1955.6,1512.6 L1958.1,1512.7 L1960.6,1512.7 L1963.2,1512.8 L1965.7,1512.8 L1968.2,1512.9 L1970.8,1512.9 L1973.3,1513.0 L1975.8,1513.0 L1978.3,1513.1 L1980.8,1513.2 L1983.4,1513.2 L1985.9,1513.3 L1988.4,1513.3 L1990.9,1513.4 L1993.4,1513.4 L1995.9,1513.5 L1998.4,1513.5 L2000.9,1513.6 L2003.4,1513.6 L2005.9,1513.7 L2008.4,1513.7 L2010.9,1513.8 L2013.4,1513.8 L2015.9,1513.9 L2018.4,1513.9 L2020.9,1514.0 L2023.4,1514.0 L2025.9,1514.1 L2028.4,1514.1 L2030.9,1514.2 L2033.4,1514.2 L2035.9,1514.3 L2038.4,1514.3 L2040.9,1514.4 L2043.3,1514.4 L2045.8,1514.5 L2048.3,1514.5 L2050.8,1514.5 L2053.3,1514.6 L2055.8,1514.6 L2058.2,1514.7 L2060.7,1514.7 L2063.2,1514.8 L2065.7,1514.8 L2068.2,1514.9 L2070.6,1514.9 L2073.1,1514.9 L2075.6,1515.0 L2078.1,1515.0 L2080.6,1515.1 L2083.0,1515.1 L2085.5,1515.1 L2088.0,1515.2 L2090.5,1515.2 L2092.9,1515.3 L2095.4,1515.3 L2097.9,1515.4 L2100.4,1515.4 L2102.8,1515.4 L2105.3,1515.5 L2107.8,1515.5 L2110.3,1515.5 L2112.7,1515.6 L2115.2,1515.6 L2117.7,1515.7 L2120.2,1515.7 L2122.6,1515.7 L2125.1,1515.8 L2127.6,1515.8 L2130.1,1515.8 L2132.5,1515.9 L2135.0,1515.9 L2137.5,1515.9 L2140.0,1516.0 L2142.4,1516.0 L2144.9,1516.1 L2147.4,1516.1 L2149.9,1516.1 L2152.3,1516.2 L2154.8,1516.2 L2157.3,1516.2 L2159.8,1516.3 L2162.3,1516.3 L2164.7,1516.3 L2167.2,1516.3 L2169.7,1516.4 L2172.2,1516.4 L2174.7,1516.4 L2177.2,1516.5 L2179.6,1516.5 L2182.1,1516.5 L2184.6,1516.6 L2187.1,1516.6 L2189.6,1516.6 L2192.1,1516.6 L2194.6,1516.7 L2197.1,1516.7 L2199.5,1516.7 L2202.0,1516.8 L2204.5,1516.8 L2207.0,1516.8 L2209.5,1516.8 L2212.0,1516.9 L2214.5,1516.9 L2217.0,1516.9 L2219.5,1516.9 L2222.0,1517.0 L2224.5,1517.0 L2227.0,1517.0 L2229.5,1517.0 L2232.0,1517.1 L2234.6,1517.1 L2237.1,1517.1 L2239.6,1517.1 L2242.1,1517.2 L2244.6,1517.2 L2247.1,1517.2 L2249.6,1517.2 L2252.2,1517.3 L2254.7,1517.3 L2257.2,1517.3 L2259.7,1517.3 L2262.3,1517.3 L2264.8,1517.4 L2267.3,1517.4 L2269.8,1517.4 L2272.4,1517.4 L2274.9,1517.4 L2277.5,1517.5 L2280.0,1517.5 L2282.5,1517.5 L2285.1,1517.5 L2287.6,1517.5 L2290.2,1517.6 L2292.7,1517.6 L2295.3,1517.6 L2297.8,1517.6 L2300.4,1517.6 L2302.9,1517.6 L2305.0,1517.7" fill="none" stroke="#000000" stroke-width="2.5" stroke-linejoin="round"/>
<path d="M306.5,1430.4 L308.9,1430.5 L311.4,1430.6 L313.9,1430.7 L316.5,1430.8 L319.0,1430.9 L321.5,1431.0 L324.0,1431.1 L326.6,1431.2 L329.1,1431.3 L331.6,1431.4 L334.1,1431.6 L336.6,1431.7 L339.1,1431.8 L341.7,1431.9 L344.2,1432.0 L346.7,1432.1 L349.2,1432.2 L351.7,1432.4 L354.2,1432.5 L356.7,1432.6 L359.2,1432.7 L361.8,1432.8 L364.3,1433.0 L366.8,1433.1 L369.3,1433.2 L371.8,1433.3 L374.3,1433.4 L376.8,1433.5 L379.3,1433.7 L381.8,1433.8 L384.3,1433.9 L386.8,1434.0 L389.3,1434.1 L391.8,1434.3 L394.3,1434.4 L396.8,1434.5 L399.3,1434.6 L401.8,1434.7 L404.3,1434.8 L406.8,1434.9 L409.3,1435.1 L411.8,1435.2 L414.3,1435.3 L416.7,1435.4 L419.2,1435.5 L421.7,1435.6 L424.2,1435.7 L426.7,1435.8 L429.2,1435.9 L431.7,1436.0 L434.2,1436.1 L436.7,1436.2 L439.2,1436.3 L441.7,1436.4 L444.1,1436.5 L446.6,1436.6 L449.1,1436.7 L451.6,1436.8 L454.1,1436.8 L456.6,1436.9 L459.1,1437.0 L461.5,1437.1 L464.0,1437.1 L466.5,1437.2 L469.0,1437.3 L471.5,1437.4 L474.0,1437.4 L476.5,1437.5 L478.9,1437.5 L481.4,1437.6 L483.9,1437.6 L486.4,1437.7 L488.9,1437.7 L491.4,1437.8 L493.8,1437.8 L496.3,1437.9 L498.8,1437.9 L501.3,1437.9 L503.8,1437.9 L506.3,1438.0 L508.7,1438.0 L511.2,1438.0 L513.7,1438.0 L516.2,1438.0 L518.7,1438.0 L521.2,1438.0 L523.6,1438.0 L526.1,1438.0 L528.6,1438.0 L531.1,1438.0 L533.6,1438.0 L536.0,1437.9 L538.5,1437.9 L541.0,1437.9 L543.5,1437.8 L546.0,1437.8 L548.5,1437.8 L550.9,1437.7 L553.4,1437.6 L555.9,1437.6 L558.4,1437.5 L560.9,1437.4 L563.4,1437.4 L565.9,1437.3 L568.3,1437.2 L570.8,1437.1 L573.3,1437.0 L575.8,1436.9 L578.3,1436.8 L580.8,1436.7 L583.3,1436.5 L585.7,1436.4 L588.2,1436.3 L590.7,1436.2 L593.2,1436.0 L595.7,1435.9 L598.2,1435.7 L600.7,1435.5 L603.2,1435.4 L605.7,1435.2 L608.2,1435.0 L610.6,1434.8 L613.1,1434.6 L615.6,1434.4 L618.1,1434.2 L620.6,1434.0 L623.1,1433.8 L625.6,1433.6 L628.1,1433.3 L630.6,1433.1 L633.1,1432.9 L635.6,1432.6 L638.1,1432.3 L640.6,1432.1 L643.1,1431.8 L645.6,1431.5 L648.1,1431.2 L650.6,1430.9 L653.1,1430.6 L655.6,1430.3 L658.1,1430.0 L660.6,1429.7 L663.1,1429.3 L665.6,1429.0 L668.1,1428.6 L670.6,1428.3 L673.1,1427.9 L675.6,1427.5 L678.1,1427.1 L680.6,1426.7 L683.1,1426.3 L685.6,1425.9 L688.1,1425.5 L690.6,1425.1 L693.1,1424.6 L695.6,1424.2 L698.1,1423.7 L700.5,1423.3 L703.0,1422.8 L705.5,1422.3 L708.0,1421.8 L710.5,1421.3 L713.0,1420.8 L715.4,1420.3 L717.9,1419.8 L720.4,1419.2 L722.8,1418.7 L725.3,1418.1 L727.8,1417.6 L730.2,1417.0 L732.7,1416.4 L735.1,1415.8 L737.6,1415.2 L740.0,1414.6 L742.5,1414.0 L744.9,1413.3 L747.3,1412.7 L749.8,1412.0 L752.2,1411.3 L754.6,1410.7 L757.0,1410.0 L759.5,1409.3 L761.9,1408.6 L764.3,1407.8 L766.7,1407.1 L769.1,1406.4 L771.5,1405.6 L773.8,1404.8 L776.2,1404.1 L778.6,1403.3 L781.0,1402.5 L783.3,1401.6 L785.7,1400.8 L788.1,1400.0 L790.4,1399.1 L792.8,1398.3 L795.1,1397.4 L797.4,1396.5 L799.7,1395.6 L802.1,1394.7 L804.4,1393.8 L806.7,1392.9 L809.0,1391.9 L811.3,1391.0 L813.6,1390.0 L815.8,1389.0 L818.1,1388.0 L820.4,1387.0 L822.6,1386.0 L824.9,1384.9 L827.1,1383.9 L829.4,1382.8 L831.6,1381.8 L833.8,1380.7 L836.1,1379.6 L838.3,1378.5 L840.5,1377.4 L842.7,1376.2 L844.9,1375.1 L847.0,1374.0 L849.2,1372.8 L851.4,1371.6 L853.6,1370.4 L855.7,1369.2 L857.9,1368.0 L860.0,1366.8 L862.2,1365.6 L864.3,1364.4 L866.4,1363.1 L868.6,1361.8 L870.7,1360.6 L872.8,1359.3 L874.9,1358.0 L877.0,1356.7 L879.1,1355.4 L881.2,1354.1 L883.3,1352.7 L885.4,1351.4 L887.4,1350.1 L889.5,1348.7 L891.6,1347.3 L893.6,1346.0 L895.7,1344.6 L897.7,1343.2 L899.8,1341.8 L901.8,1340.4 L903.8,1338.9 L905.9,1337.5 L907.9,1336.1 L909.9,1334.6 L911.9,1333.2 L913.9,1331.7 L915.9,1330.2 L917.9,1328.8 L919.9,1327.3 L921.9,1325.8 L923.8,1324.3 L925.8,1322.8 L927.8,1321.2 L929.8,1319.7 L931.7,1318.2 L933.7,1316.6 L935.6,1315.1 L937.6,1313.5 L939.5,1312.0 L941.5,1310.4 L943.4,1308.8 L945.3,1307.2 L947.2,1305.7 L949.2,1304.1 L951.1,1302.5 L953.0,1300.9 L954.9,1299.2 L956.8,1297.6 L958.7,1296.0 L960.6,1294.4 L962.5,1292.7 L964.4,1291.1 L966.2,1289.4 L968.1,1287.8 L970.0,1286.1 L971.9,1284.4 L973.7,1282.8 L975.6,1281.1 L977.5,1279.4 L979.3,1277.7 L981.2,1276.0 L983.0,1274.3 L984.9,1272.6 L986.7,1270.9 L988.5,1269.2 L990.4,1267.5 L992.2,1265.8 L994.0,1264.1 L995.9,1262.3 L997.7,1260.6 L999.5,1258.9 L1001.3,1257.1 L1003.1,1255.4 L1004.9,1253.7 L1006.7,1251.9 L1008.5,1250.1 L1010.3,1248.4 L1012.1,1246.6 L1013.9,1244.9 L1015.7,1243.1 L1017.5,1241.3 L1019.3,1239.6 L1021.1,1237.8 L1022.9,1236.0 L1024.6,1234.2 L1026.4,1232.5 L1028.2,1230.7 L1029.9,1228.9 L1031.7,1227.1 L1033.5,1225.3 L1035.2,1223.5 L1037.0,1221.7 L1038.8,1219.9 L1040.5,1218.1 L1042.3,1216.3 L1044.0,1214.5 L1045.8,1212.7 L1047.5,1210.9 L1049.2,1209.1 L1051.0,1207.3 L1052.7,1205.5 L1054.5,1203.7 L1056.2,1201.9 L1057.9,1200.1 L1059.7,1198.3 L1061.4,1196.4 L1063.1,1194.6 L1064.9,1192.8 L1066.6,1191.0 L1068.3,1189.2 L1070.0,1187.4 L1071.8,1185.5 L1073.5,1183.7 L1075.2,1181.9 L1076.9,1180.1 L1078.6,1178.3 L1080.3,1176.5 L1082.1,1174.6 L1083.8,1172.8 L1085.5,1171.0 L1087.2,1169.2 L1088.9,1167.4 L1090.6,1165.5 L1092.3,1163.7 L1094.1,1161.9 L1095.8,1160.1 L1097.5,1158.3 L1099.2,1156.4 L1100.9,1154.6 L1102.6,1152.8 L1104.3,1151.0 L1106.0,1149.2 L1107.7,1147.3 L1109.4,1145.5 L1111.1,1143.7 L1112.9,1141.9 L1114.6,1140.1 L1116.3,1138.3 L1118.0,1136.5 L1119.7,1134.6 L1121.4,1132.8 L1123.1,1131.0 L1124.8,1129.2 L1126.5,1127.4 L1128.3,1125.6 L1130.0,1123.8 L1131.7,1122.0 L1133.4,1120.2 L1135.1,1118.4 L1136.8,1116.6 L1138.6,1114.8 L1140.3,1113.0 L1142.0,1111.2 L1143.7,1109.4 L1145.4,1107.6 L1147.2,1105.8 L1148.9,1104.1 L1150.6,1102.3 L1152.3,1100.5 L1154.1,1098.7 L1155.8,1096.9 L1157.5,1095.2 L1159.3,1093.4 L1161.0,1091.6 L1162.7,1089.9 L1164.5,1088.1 L1166.2,1086.3 L1168.0,1084.6 L1169.7,1082.8 L1171.5,1081.1 L1173.2,1079.3 L1175.0,1077.6 L1176.7,1075.8 L1178.5,1074.1 L1180.2,1072.3 L1182.0,1070.6 L1183.8,1068.9 L1185.5,1067.1 L1187.3,1065.4 L1189.1,1063.7 L1190.8,1062.0 L1192.6,1060.2 L1194.4,1058.5 L1196.2,1056.8 L1198.0,1055.1 L1199.8,1053.4 L1201.6,1051.7 L1203.4,1050.0 L1205.2,1048.3 L1207.0,1046.6 L1208.8,1045.0 L1210.6,1043.3 L1212.4,1041.6 L1214.2,1039.9 L1216.0,1038.3 L1217.8,1036.6 L1219.7,1034.9 L1221.5,1033.3 L1223.3,1031.6 L1225.1,1029.9 L1227.0,1028.3 L1228.8,1026.6 L1230.6,1024.9 L1232.5,1023.3 L1234.3,1021.6 L1236.2,1019.9 L1238.0,1018.3 L1239.8,1016.6 L1241.7,1014.9 L1243.5,1013.3 L1245.4,1011.6 L1247.2,1009.9 L1249.1,1008.2 L1250.9,1006.5 L1252.8,1004.8 L1254.6,1003.1 L1256.4,1001.4 L1258.3,999.7 L1260.1,998.0 L1262.0,996.3 L1263.8,994.6 L1265.7,992.8 L1267.5,991.1 L1269.4,989.3 L1271.2,987.6 L1273.0,985.8 L1274.9,984.0 L1276.7,982.2 L1278.5,980.5 L1280.4,978.7 L1282.2,976.9 L1284.1,975.1 L1285.9,973.2 L1287.7,971.4 L1289.6,969.6 L1291.4,967.8 L1293.3,966.1 L1295.1,964.3 L1297.0,962.5 L1298.9,960.7 L1300.8,959.0 L1302.7,957.3 L1304.5,955.6 L1306.5,953.9 L1308.4,952.2 L1310.3,950.6 L1312.3,948.9 L1314.2,947.3 L1316.2,945.8 L1318.2,944.3 L1320.2,942.8 L1322.2,941.3 L1324.2,939.9 L1326.3,938.5 L1328.4,937.1 L1330.5,935.8 L1332.6,934.6 L1334.7,933.3 L1336.9,932.2 L1339.1,931.1 L1341.3,930.0 L1343.5,929.0 L1345.7,928.0 L1348.0,927.1 L1350.3,926.3 L1352.6,925.5 L1355.0,924.8 L1357.3,924.1 L1359.7,923.5 L1362.1,923.0 L1364.5,922.5 L1366.9,922.1 L1369.3,921.8 L1371.7,921.5 L1374.2,921.3 L1376.6,921.2 L1379.0,921.1 L1381.5,921.1 L1383.9,921.2 L1386.3,921.4 L1388.7,921.6 L1391.1,921.9 L1393.5,922.3 L1395.9,922.8 L1398.3,923.4 L1400.7,924.0 L1403.0,924.7 L1405.3,925.5 L1407.6,926.4 L1409.9,927.3 L1412.2,928.3 L1414.4,929.4 L1416.7,930.5 L1418.9,931.7 L1421.0,932.9 L1423.2,934.2 L1425.3,935.5 L1427.4,936.9 L1429.5,938.3 L1431.5,939.8 L1433.5,941.3 L1435.5,942.8 L1437.4,944.3 L1439.3,945.9 L1441.2,947.5 L1443.1,949.2 L1444.9,950.8 L1446.7,952.5 L1448.4,954.3 L1450.2,956.0 L1451.9,957.8 L1453.6,959.6 L1455.3,961.4 L1456.9,963.3 L1458.5,965.1 L1460.1,967.0 L1461.7,968.9 L1463.2,970.9 L1464.7,972.8 L1466.2,974.8 L1467.7,976.8 L1469.2,978.8 L1470.6,980.8 L1472.1,982.9 L1473.5,984.9 L1474.9,987.0 L1476.2,989.1 L1477.6,991.2 L1478.9,993.3 L1480.3,995.5 L1481.6,997.6 L1482.9,999.8 L1484.2,1001.9 L1485.4,1004.1 L1486.7,1006.3 L1487.9,1008.5 L1489.2,1010.7 L1490.4,1012.9 L1491.6,1015.1 L1492.8,1017.4 L1494.0,1019.6 L1495.2,1021.8 L1496.4,1024.1 L1497.6,1026.3 L1498.8,1028.6 L1499.9,1030.8 L1501.1,1033.1 L1502.3,1035.3 L1503.4,1037.6 L1504.6,1039.8 L1505.7,1042.1 L1506.9,1044.3 L1508.0,1046.6 L1509.2,1048.9 L1510.3,1051.1 L1511.4,1053.4 L1512.6,1055.6 L1513.7,1057.9 L1514.8,1060.1 L1516.0,1062.4 L1517.1,1064.6 L1518.2,1066.9 L1519.3,1069.2 L1520.5,1071.4 L1521.6,1073.7 L1522.7,1075.9 L1523.8,1078.2 L1524.9,1080.4 L1526.0,1082.7 L1527.1,1084.9 L1528.2,1087.2 L1529.3,1089.4 L1530.4,1091.7 L1531.5,1093.9 L1532.6,1096.2 L1533.7,1098.4 L1534.8,1100.7 L1535.9,1103.0 L1537.0,1105.2 L1538.1,1107.5 L1539.1,1109.7 L1540.2,1112.0 L1541.3,1114.2 L1542.4,1116.5 L1543.5,1118.7 L1544.6,1121.0 L1545.6,1123.2 L1546.7,1125.5 L1547.8,1127.7 L1548.9,1130.0 L1549.9,1132.2 L1551.0,1134.5 L1552.1,1136.7 L1553.2,1139.0 L1554.2,1141.2 L1555.3,1143.5 L1556.4,1145.7 L1557.5,1148.0 L1558.5,1150.2 L1559.6,1152.4 L1560.7,1154.7 L1561.7,1156.9 L1562.8,1159.2 L1563.9,1161.4 L1565.0,1163.7 L1566.0,1165.9 L1567.1,1168.2 L1568.2,1170.4 L1569.2,1172.7 L1570.3,1174.9 L1571.4,1177.1 L1572.4,1179.4 L1573.5,1181.6 L1574.6,1183.9 L1575.7,1186.1 L1576.7,1188.3 L1577.8,1190.6 L1578.9,1192.8 L1580.0,1195.1 L1581.0,1197.3 L1582.1,1199.5 L1583.2,1201.8 L1584.3,1204.0 L1585.3,1206.3 L1586.4,1208.5 L1587.5,1210.7 L1588.6,1213.0 L1589.7,1215.2 L1590.8,1217.4 L1591.8,1219.7 L1592.9,1221.9 L1594.0,1224.1 L1595.1,1226.4 L1596.2,1228.6 L1597.3,1230.8 L1598.4,1233.1 L1599.5,1235.3 L1600.6,1237.5 L1601.7,1239.8 L1602.8,1242.0 L1603.9,1244.2 L1605.0,1246.5 L1606.1,1248.7 L1607.2,1250.9 L1608.3,1253.1 L1609.4,1255.4 L1610.6,1257.6 L1611.7,1259.8 L1612.8,1262.0 L1613.9,1264.3 L1615.0,1266.5 L1616.2,1268.7 L1617.3,1270.9 L1618.4,1273.2 L1619.6,1275.4 L1620.7,1277.6 L1621.8,1279.8 L1623.0,1282.0 L1624.1,1284.2 L1625.3,1286.5 L1626.4,1288.7 L1627.6,1290.9 L1628.8,1293.1 L1629.9,1295.3 L1631.1,1297.5 L1632.2,1299.8 L1633.4,1302.0 L1634.6,1304.2 L1635.8,1306.4 L1637.0,1308.6 L1638.1,1310.8 L1639.3,1313.0 L1640.5,1315.2 L1641.7,1317.4 L1642.9,1319.6 L1644.1,1321.9 L1645.3,1324.1 L1646.5,1326.3 L1647.8,1328.5 L1649.0,1330.7 L1650.2,1332.9 L1651.4,1335.1 L1652.7,1337.3 L1653.9,1339.5 L1655.1,1341.7 L1656.4,1343.9 L1657.6,1346.0 L1658.9,1348.2 L1660.2,1350.4 L1661.5,1352.6 L1662.8,1354.7 L1664.1,1356.9 L1665.4,1359.1 L1666.7,1361.2 L1668.0,1363.3 L1669.4,1365.5 L1670.7,1367.6 L1672.1,1369.7 L1673.5,1371.8 L1674.9,1373.9 L1676.3,1375.9 L1677.7,1378.0 L1679.1,1380.0 L1680.6,1382.1 L1682.1,1384.1 L1683.5,1386.1 L1685.1,1388.1 L1686.6,1390.1 L1688.1,1392.0 L1689.7,1394.0 L1691.3,1395.9 L1692.9,1397.8 L1694.5,1399.7 L1696.1,1401.6 L1697.8,1403.4 L1699.5,1405.2 L1701.2,1407.0 L1702.9,1408.8 L1704.6,1410.6 L1706.4,1412.3 L1708.2,1414.0 L1710.0,1415.7 L1711.9,1417.4 L1713.8,1419.1 L1715.7,1420.7 L1717.6,1422.3 L1719.5,1423.8 L1721.5,1425.4 L1723.5,1426.9 L1725.5,1428.4 L1727.5,1429.9 L1729.6,1431.3 L1731.7,1432.8 L1733.8,1434.2 L1735.9,1435.6 L1738.0,1436.9 L1740.1,1438.2 L1742.3,1439.5 L1744.5,1440.8 L1746.6,1442.1 L1748.8,1443.3 L1751.0,1444.5 L1753.3,1445.7 L1755.5,1446.9 L1757.7,1448.0 L1760.0,1449.1 L1762.3,1450.2 L1764.5,1451.3 L1766.8,1452.3 L1769.1,1453.3 L1771.4,1454.3 L1773.7,1455.3 L1776.0,1456.3 L1778.3,1457.2 L1780.6,1458.1 L1782.9,1459.0 L1785.3,1459.9 L1787.6,1460.7 L1789.9,1461.5 L1792.3,1462.3 L1794.6,1463.1 L1797.0,1463.9 L1799.4,1464.6 L1801.7,1465.3 L1804.1,1466.0 L1806.5,1466.7 L1808.9,1467.4 L1811.3,1468.0 L1813.7,1468.6 L1816.1,1469.2 L1818.5,1469.8 L1820.9,1470.4 L1823.3,1471.0 L1825.7,1471.5 L1828.1,1472.0 L1830.6,1472.5 L1833.0,1473.0 L1835.4,1473.5 L1837.9,1474.0 L1840.3,1474.4 L1842.8,1474.9 L1845.2,1475.3 L1847.7,1475.7 L1850.1,1476.1 L1852.6,1476.5 L1855.0,1476.8 L1857.5,1477.2 L1860.0,1477.5 L1862.5,1477.9 L1864.9,1478.2 L1867.4,1478.5 L1869.9,1478.8 L1872.4,1479.1 L1874.9,1479.3 L1877.4,1479.6 L1879.9,1479.8 L1882.3,1480.1 L1884.8,1480.3 L1887.3,1480.5 L1889.8,1480.8 L1892.3,1481.0 L1894.8,1481.2 L1897.4,1481.4 L1899.9,1481.5 L1902.4,1481.7 L1904.9,1481.9 L1907.4,1482.0 L1909.9,1482.2 L1912.4,1482.3 L1914.9,1482.5 L1917.4,1482.6 L1919.9,1482.8 L1922.5,1482.9 L1925.0,1483.0 L1927.5,1483.1 L1930.0,1483.2 L1932.5,1483.3 L1935.0,1483.5 L1937.6,1483.6 L1940.1,1483.7 L1942.6,1483.8 L1945.1,1483.8 L1947.6,1483.9 L1950.1,1484.0 L1952.6,1484.1 L1955.2,1484.2 L1957.7,1484.3 L1960.2,1484.4 L1962.7,1484.5 L1965.2,1484.5 L1967.7,1484.6 L1970.2,1484.7 L1972.7,1484.8 L1975.2,1484.9 L1977.8,1484.9 L1980.3,1485.0 L1982.8,1485.1 L1985.3,1485.2 L1987.8,1485.2 L1990.3,1485.3 L1992.8,1485.4 L1995.3,1485.4 L1997.8,1485.5 L2000.3,1485.6 L2002.8,1485.6 L2005.3,1485.7 L2007.8,1485.7 L2010.3,1485.8 L2012.8,1485.9 L2015.3,1485.9 L2017.8,1486.0 L2020.3,1486.0 L2022.8,1486.1 L2025.3,1486.1 L2027.8,1486.2 L2030.3,1486.2 L2032.8,1486.3 L2035.3,1486.3 L2037.8,1486.4 L2040.3,1486.4 L2042.8,1486.5 L2045.3,1486.5 L2047.8,1486.6 L2050.3,1486.6 L2052.8,1486.6 L2055.3,1486.7 L2057.8,1486.7 L2060.2,1486.8 L2062.7,1486.8 L2065.2,1486.8 L2067.7,1486.9 L2070.2,1486.9 L2072.7,1486.9 L2075.2,1487.0 L2077.7,1487.0 L2080.2,1487.0 L2082.7,1487.1 L2085.2,1487.1 L2087.7,1487.1 L2090.2,1487.2 L2092.7,1487.2 L2095.1,1487.2 L2097.6,1487.2 L2100.1,1487.3 L2102.6,1487.3 L2105.1,1487.3 L2107.6,1487.3 L2110.1,1487.4 L2112.6,1487.4 L2115.1,1487.4 L2117.6,1487.4 L2120.1,1487.5 L2122.6,1487.5 L2125.1,1487.5 L2127.5,1487.5 L2130.0,1487.5 L2132.5,1487.6 L2135.0,1487.6 L2137.5,1487.6 L2140.0,1487.6 L2142.5,1487.6 L2145.0,1487.7 L2147.5,1487.7 L2150.0,1487.7 L2152.5,1487.7 L2155.0,1487.7 L2157.4,1487.7 L2159.9,1487.8 L2162.4,1487.8 L2164.9,1487.8 L2167.4,1487.8 L2169.9,1487.8 L2172.4,1487.8 L2174.9,1487.8 L2177.4,1487.9 L2179.9,1487.9 L2182.4,1487.9 L2184.9,1487.9 L2187.4,1487.9 L2189.9,1487.9 L2192.4,1487.9 L2194.9,1488.0 L2197.4,1488.0 L2199.9,1488.0 L2202.4,1488.0 L2204.9,1488.0 L2207.4,1488.0 L2209.9,1488.0 L2212.4,1488.1 L2214.9,1488.1 L2217.4,1488.1 L2219.9,1488.1 L2222.4,1488.1 L2224.9,1488.1 L2227.4,1488.1 L2229.9,1488.1 L2232.4,1488.2 L2234.9,1488.2 L2237.4,1488.2 L2239.9,1488.2 L2242.4,1488.2 L2244.9,1488.2 L2247.4,1488.3 L2249.9,1488.3 L2252.4,1488.3 L2254.9,1488.3 L2257.4,1488.3 L2259.9,1488.3 L2262.4,1488.3 L2264.9,1488.4 L2267.4,1488.4 L2269.9,1488.4 L2272.5,1488.4 L2275.0,1488.4 L2277.5,1488.5 L2280.0,1488.5 L2282.5,1488.5 L2285.0,1488.5 L2287.5,1488.5 L2290.1,1488.6 L2292.6,1488.6 L2295.1,1488.6 L2297.6,1488.6 L2300.1,1488.7 L2302.6,1488.7 L2305.0,1488.7" fill="none" stroke="#800080" stroke-width="2.5" stroke-linejoin="round"/>
<path d="M306.5,1368.0 L309.0,1368.3 L311.5,1368.5 L314.0,1368.8 L316.5,1369.1 L318.9,1369.3 L321.4,1369.6 L323.9,1369.8 L326.4,1370.1 L328.9,1370.4 L331.4,1370.7 L333.8,1370.9 L336.3,1371.2 L338.8,1371.5 L341.3,1371.8 L343.8,1372.0 L346.3,1372.3 L348.7,1372.6 L351.2,1372.9 L353.7,1373.1 L356.2,1373.4 L358.7,1373.7 L361.2,1374.0 L363.6,1374.3 L366.1,1374.6 L368.6,1374.8 L371.1,1375.1 L373.6,1375.4 L376.1,1375.7 L378.6,1376.0 L381.0,1376.3 L383.5,1376.6 L386.0,1376.8 L388.5,1377.1 L391.0,1377.4 L393.5,1377.7 L395.9,1378.0 L398.4,1378.3 L400.9,1378.5 L403.4,1378.8 L405.9,1379.1 L408.4,1379.4 L410.9,1379.7 L413.3,1379.9 L415.8,1380.2 L418.3,1380.5 L420.8,1380.8 L423.3,1381.1 L425.8,1381.3 L428.3,1381.6 L430.8,1381.9 L433.2,1382.1 L435.7,1382.4 L438.2,1382.7 L440.7,1382.9 L443.2,1383.2 L445.7,1383.5 L448.2,1383.7 L450.7,1384.0 L453.1,1384.2 L455.6,1384.5 L458.1,1384.7 L460.6,1385.0 L463.1,1385.2 L465.6,1385.5 L468.1,1385.7 L470.6,1386.0 L473.0,1386.2 L475.5,1386.4 L478.0,1386.7 L480.5,1386.9 L483.0,1387.1 L485.5,1387.3 L488.0,1387.6 L490.5,1387.8 L493.0,1388.0 L495.5,1388.2 L497.9,1388.4 L500.4,1388.6 L502.9,1388.8 L505.4,1389.0 L507.9,1389.2 L510.4,1389.4 L512.9,1389.6 L515.4,1389.8 L517.9,1389.9 L520.4,1390.1 L522.8,1390.3 L525.3,1390.4 L527.8,1390.6 L530.3,1390.8 L532.8,1390.9 L535.3,1391.1 L537.8,1391.2 L540.3,1391.4 L542.8,1391.5 L545.3,1391.6 L547.8,1391.8 L550.3,1391.9 L552.7,1392.0 L555.2,1392.1 L557.7,1392.2 L560.2,1392.3 L562.7,1392.4 L565.2,1392.5 L567.7,1392.6 L570.2,1392.7 L572.7,1392.7 L575.2,1392.8 L577.7,1392.9 L580.2,1392.9 L582.7,1393.0 L585.2,1393.0 L587.6,1393.1 L590.1,1393.1 L592.6,1393.2 L595.1,1393.2 L597.6,1393.2 L600.1,1393.2 L602.6,1393.2 L605.1,1393.2 L607.6,1393.2 L610.1,1393.2 L612.6,1393.2 L615.1,1393.2 L617.6,1393.1 L620.1,1393.1 L622.6,1393.0 L625.1,1393.0 L627.6,1392.9 L630.1,1392.9 L632.6,1392.8 L635.1,1392.7 L637.5,1392.6 L640.0,1392.5 L642.5,1392.4 L645.0,1392.3 L647.5,1392.2 L650.0,1392.1 L652.5,1391.9 L655.0,1391.8 L657.5,1391.6 L660.0,1391.5 L662.5,1391.3 L665.0,1391.1 L667.5,1391.0 L670.0,1390.8 L672.5,1390.6 L675.0,1390.4 L677.5,1390.2 L680.0,1389.9 L682.5,1389.7 L685.0,1389.5 L687.5,1389.2 L689.9,1389.0 L692.4,1388.7 L694.9,1388.5 L697.4,1388.2 L699.9,1387.9 L702.4,1387.6 L704.9,1387.3 L707.4,1387.0 L709.8,1386.7 L712.3,1386.3 L714.8,1386.0 L717.3,1385.7 L719.8,1385.3 L722.2,1384.9 L724.7,1384.6 L727.2,1384.2 L729.7,1383.8 L732.1,1383.4 L734.6,1383.0 L737.1,1382.6 L739.5,1382.1 L742.0,1381.7 L744.5,1381.3 L746.9,1380.8 L749.4,1380.4 L751.8,1379.9 L754.3,1379.4 L756.7,1378.9 L759.2,1378.4 L761.6,1377.9 L764.1,1377.4 L766.5,1376.8 L769.0,1376.3 L771.4,1375.8 L773.9,1375.2 L776.3,1374.6 L778.7,1374.0 L781.2,1373.5 L783.6,1372.9 L786.0,1372.2 L788.4,1371.6 L790.8,1371.0 L793.3,1370.4 L795.7,1369.7 L798.1,1369.1 L800.5,1368.4 L802.9,1367.7 L805.3,1367.0 L807.7,1366.3 L810.1,1365.6 L812.5,1364.9 L814.9,1364.1 L817.3,1363.4 L819.7,1362.6 L822.0,1361.9 L824.4,1361.1 L826.8,1360.3 L829.2,1359.5 L831.5,1358.7 L833.9,1357.9 L836.2,1357.1 L838.6,1356.2 L840.9,1355.4 L843.3,1354.5 L845.6,1353.6 L848.0,1352.8 L850.3,1351.9 L852.6,1351.0 L855.0,1350.1 L857.3,1349.1 L859.6,1348.2 L861.9,1347.2 L864.2,1346.3 L866.5,1345.3 L868.8,1344.3 L871.1,1343.4 L873.4,1342.4 L875.7,1341.3 L878.0,1340.3 L880.2,1339.3 L882.5,1338.2 L884.8,1337.2 L887.0,1336.1 L889.3,1335.0 L891.5,1334.0 L893.8,1332.9 L896.0,1331.8 L898.2,1330.6 L900.5,1329.5 L902.7,1328.4 L904.9,1327.2 L907.1,1326.1 L909.3,1324.9 L911.5,1323.7 L913.7,1322.5 L915.9,1321.3 L918.1,1320.1 L920.2,1318.8 L922.4,1317.6 L924.5,1316.4 L926.7,1315.1 L928.8,1313.8 L931.0,1312.5 L933.1,1311.2 L935.2,1309.9 L937.3,1308.6 L939.5,1307.3 L941.6,1306.0 L943.6,1304.6 L945.7,1303.3 L947.8,1301.9 L949.9,1300.5 L952.0,1299.1 L954.0,1297.7 L956.1,1296.3 L958.1,1294.9 L960.1,1293.4 L962.2,1292.0 L964.2,1290.5 L966.2,1289.1 L968.2,1287.6 L970.2,1286.1 L972.2,1284.6 L974.2,1283.1 L976.2,1281.6 L978.2,1280.1 L980.2,1278.5 L982.1,1277.0 L984.1,1275.5 L986.0,1273.9 L988.0,1272.4 L989.9,1270.8 L991.9,1269.2 L993.8,1267.6 L995.8,1266.1 L997.7,1264.5 L999.6,1262.9 L1001.5,1261.3 L1003.4,1259.7 L1005.4,1258.0 L1007.3,1256.4 L1009.2,1254.8 L1011.1,1253.2 L1013.0,1251.5 L1014.8,1249.9 L1016.7,1248.3 L1018.6,1246.6 L1020.5,1245.0 L1022.4,1243.3 L1024.3,1241.7 L1026.1,1240.0 L1028.0,1238.3 L1029.9,1236.7 L1031.8,1235.0 L1033.6,1233.3 L1035.5,1231.7 L1037.3,1230.0 L1039.2,1228.3 L1041.1,1226.6 L1042.9,1225.0 L1044.8,1223.3 L1046.6,1221.6 L1048.5,1219.9 L1050.3,1218.2 L1052.2,1216.5 L1054.0,1214.8 L1055.8,1213.1 L1057.7,1211.5 L1059.5,1209.8 L1061.4,1208.1 L1063.2,1206.4 L1065.0,1204.7 L1066.9,1202.9 L1068.7,1201.2 L1070.5,1199.5 L1072.4,1197.8 L1074.2,1196.1 L1076.0,1194.4 L1077.8,1192.7 L1079.6,1191.0 L1081.5,1189.3 L1083.3,1187.6 L1085.1,1185.8 L1086.9,1184.1 L1088.7,1182.4 L1090.6,1180.7 L1092.4,1179.0 L1094.2,1177.2 L1096.0,1175.5 L1097.8,1173.8 L1099.6,1172.1 L1101.4,1170.3 L1103.2,1168.6 L1105.0,1166.9 L1106.8,1165.2 L1108.6,1163.4 L1110.5,1161.7 L1112.3,1160.0 L1114.1,1158.2 L1115.9,1156.5 L1117.7,1154.8 L1119.5,1153.0 L1121.3,1151.3 L1123.1,1149.6 L1124.9,1147.8 L1126.7,1146.1 L1128.5,1144.4 L1130.3,1142.6 L1132.1,1140.9 L1133.9,1139.2 L1135.7,1137.4 L1137.4,1135.7 L1139.2,1134.0 L1141.0,1132.2 L1142.8,1130.5 L1144.6,1128.8 L1146.4,1127.0 L1148.2,1125.3 L1150.0,1123.6 L1151.8,1121.8 L1153.6,1120.1 L1155.4,1118.4 L1157.2,1116.6 L1159.0,1114.9 L1160.8,1113.2 L1162.6,1111.4 L1164.4,1109.7 L1166.2,1108.0 L1168.0,1106.3 L1169.8,1104.5 L1171.6,1102.8 L1173.4,1101.1 L1175.2,1099.3 L1177.0,1097.6 L1178.8,1095.9 L1180.6,1094.2 L1182.4,1092.5 L1184.2,1090.7 L1186.0,1089.0 L1187.8,1087.3 L1189.6,1085.6 L1191.4,1083.9 L1193.2,1082.1 L1195.0,1080.4 L1196.8,1078.7 L1198.6,1077.0 L1200.4,1075.3 L1202.2,1073.6 L1204.1,1071.9 L1205.9,1070.2 L1207.7,1068.5 L1209.5,1066.8 L1211.3,1065.1 L1213.1,1063.4 L1214.9,1061.6 L1216.7,1059.9 L1218.6,1058.2 L1220.4,1056.5 L1222.2,1054.8 L1224.0,1053.1 L1225.8,1051.4 L1227.6,1049.7 L1229.4,1048.0 L1231.3,1046.3 L1233.1,1044.6 L1234.9,1042.9 L1236.7,1041.2 L1238.5,1039.5 L1240.3,1037.8 L1242.1,1036.1 L1243.9,1034.4 L1245.7,1032.7 L1247.6,1031.0 L1249.4,1029.2 L1251.2,1027.5 L1253.0,1025.8 L1254.8,1024.1 L1256.6,1022.4 L1258.4,1020.6 L1260.2,1018.9 L1262.0,1017.2 L1263.8,1015.5 L1265.6,1013.7 L1267.4,1012.0 L1269.2,1010.3 L1271.0,1008.5 L1272.8,1006.8 L1274.6,1005.0 L1276.3,1003.3 L1278.1,1001.5 L1279.9,999.8 L1281.7,998.0 L1283.5,996.3 L1285.3,994.5 L1287.0,992.7 L1288.8,991.0 L1290.6,989.2 L1292.4,987.4 L1294.1,985.6 L1295.9,983.9 L1297.6,982.1 L1299.4,980.3 L1301.2,978.5 L1302.9,976.7 L1304.7,974.9 L1306.4,973.1 L1308.2,971.2 L1309.9,969.4 L1311.6,967.6 L1313.4,965.8 L1315.1,963.9 L1316.8,962.1 L1318.6,960.2 L1320.3,958.4 L1322.0,956.5 L1323.7,954.7 L1325.5,952.8 L1327.2,951.0 L1328.9,949.1 L1330.7,947.3 L1332.4,945.4 L1334.1,943.6 L1335.9,941.8 L1337.6,940.0 L1339.4,938.2 L1341.2,936.4 L1343.0,934.6 L1344.8,932.9 L1346.6,931.1 L1348.4,929.4 L1350.2,927.7 L1352.0,926.0 L1353.9,924.4 L1355.8,922.7 L1357.7,921.1 L1359.6,919.5 L1361.5,918.0 L1363.4,916.4 L1365.4,914.9 L1367.4,913.5 L1369.4,912.0 L1371.4,910.6 L1373.5,909.3 L1375.6,907.9 L1377.7,906.7 L1379.8,905.4 L1382.0,904.2 L1384.2,903.0 L1386.4,901.9 L1388.6,900.8 L1390.9,899.8 L1393.2,898.8 L1395.5,897.9 L1397.9,897.1 L1400.3,896.3 L1402.6,895.6 L1405.0,894.9 L1407.5,894.4 L1409.9,893.9 L1412.3,893.5 L1414.8,893.2 L1417.2,893.0 L1419.7,892.9 L1422.2,893.0 L1424.6,893.1 L1427.1,893.3 L1429.5,893.6 L1432.0,894.0 L1434.4,894.5 L1436.8,895.1 L1439.2,895.8 L1441.6,896.6 L1443.9,897.5 L1446.2,898.4 L1448.5,899.4 L1450.7,900.5 L1452.9,901.7 L1455.1,902.9 L1457.2,904.2 L1459.3,905.6 L1461.3,907.1 L1463.2,908.6 L1465.1,910.1 L1467.0,911.7 L1468.9,913.4 L1470.7,915.1 L1472.4,916.9 L1474.1,918.7 L1475.9,920.5 L1477.5,922.3 L1479.2,924.2 L1480.8,926.1 L1482.4,928.1 L1484.0,930.0 L1485.6,932.0 L1487.1,933.9 L1488.7,935.9 L1490.2,937.9 L1491.7,939.9 L1493.2,941.9 L1494.7,943.9 L1496.2,946.0 L1497.6,948.0 L1499.1,950.0 L1500.5,952.1 L1501.9,954.2 L1503.3,956.3 L1504.7,958.3 L1506.1,960.4 L1507.5,962.5 L1508.8,964.6 L1510.2,966.8 L1511.5,968.9 L1512.8,971.0 L1514.2,973.2 L1515.5,975.3 L1516.8,977.5 L1518.0,979.6 L1519.3,981.8 L1520.6,984.0 L1521.8,986.1 L1523.1,988.3 L1524.3,990.5 L1525.5,992.7 L1526.7,994.9 L1527.9,997.1 L1529.1,999.3 L1530.3,1001.6 L1531.5,1003.8 L1532.7,1006.0 L1533.8,1008.3 L1535.0,1010.5 L1536.1,1012.7 L1537.3,1015.0 L1538.4,1017.2 L1539.5,1019.5 L1540.7,1021.8 L1541.8,1024.0 L1542.9,1026.3 L1544.0,1028.6 L1545.1,1030.8 L1546.1,1033.1 L1547.2,1035.4 L1548.3,1037.7 L1549.4,1039.9 L1550.4,1042.2 L1551.5,1044.5 L1552.5,1046.8 L1553.6,1049.1 L1554.6,1051.4 L1555.7,1053.7 L1556.7,1056.0 L1557.7,1058.3 L1558.7,1060.6 L1559.8,1062.9 L1560.8,1065.2 L1561.8,1067.5 L1562.8,1069.8 L1563.8,1072.1 L1564.8,1074.4 L1565.8,1076.6 L1566.8,1078.9 L1567.8,1081.2 L1568.8,1083.5 L1569.8,1085.8 L1570.8,1088.1 L1571.8,1090.4 L1572.8,1092.7 L1573.7,1095.0 L1574.7,1097.3 L1575.7,1099.6 L1576.7,1101.8 L1577.7,1104.1 L1578.7,1106.4 L1579.6,1108.7 L1580.6,1110.9 L1581.6,1113.2 L1582.6,1115.5 L1583.6,1117.8 L1584.5,1120.0 L1585.5,1122.3 L1586.5,1124.6 L1587.5,1126.8 L1588.4,1129.1 L1589.4,1131.4 L1590.4,1133.6 L1591.4,1135.9 L1592.3,1138.1 L1593.3,1140.4 L1594.3,1142.7 L1595.3,1144.9 L1596.2,1147.2 L1597.2,1149.4 L1598.2,1151.7 L1599.2,1153.9 L1600.1,1156.2 L1601.1,1158.4 L1602.1,1160.7 L1603.1,1163.0 L1604.0,1165.2 L1605.0,1167.5 L1606.0,1169.7 L1607.0,1172.0 L1608.0,1174.2 L1608.9,1176.5 L1609.9,1178.7 L1610.9,1181.0 L1611.9,1183.2 L1612.9,1185.5 L1613.9,1187.8 L1614.9,1190.0 L1615.9,1192.3 L1616.8,1194.5 L1617.8,1196.8 L1618.8,1199.0 L1619.8,1201.3 L1620.8,1203.6 L1621.8,1205.8 L1622.8,1208.1 L1623.8,1210.3 L1624.8,1212.6 L1625.8,1214.9 L1626.9,1217.1 L1627.9,1219.4 L1628.9,1221.7 L1629.9,1224.0 L1630.9,1226.2 L1631.9,1228.5 L1632.9,1230.8 L1634.0,1233.1 L1635.0,1235.3 L1636.0,1237.6 L1637.1,1239.9 L1638.1,1242.2 L1639.1,1244.5 L1640.2,1246.8 L1641.2,1249.1 L1642.3,1251.3 L1643.3,1253.6 L1644.3,1255.9 L1645.4,1258.2 L1646.5,1260.5 L1647.5,1262.8 L1648.6,1265.2 L1649.6,1267.5 L1650.7,1269.8 L1651.8,1272.1 L1652.9,1274.4 L1653.9,1276.7 L1655.0,1279.0 L1656.1,1281.4 L1657.2,1283.7 L1658.3,1286.0 L1659.4,1288.3 L1660.5,1290.6 L1661.6,1293.0 L1662.8,1295.3 L1663.9,1297.6 L1665.0,1299.9 L1666.2,1302.2 L1667.3,1304.5 L1668.5,1306.8 L1669.7,1309.1 L1670.8,1311.4 L1672.0,1313.6 L1673.2,1315.9 L1674.4,1318.2 L1675.6,1320.4 L1676.8,1322.7 L1678.1,1324.9 L1679.3,1327.2 L1680.6,1329.4 L1681.8,1331.6 L1683.1,1333.8 L1684.4,1336.0 L1685.7,1338.2 L1687.0,1340.4 L1688.3,1342.6 L1689.6,1344.7 L1690.9,1346.9 L1692.3,1349.0 L1693.7,1351.1 L1695.0,1353.2 L1696.4,1355.3 L1697.8,1357.4 L1699.3,1359.5 L1700.7,1361.5 L1702.2,1363.5 L1703.6,1365.6 L1705.1,1367.6 L1706.6,1369.6 L1708.1,1371.5 L1709.6,1373.5 L1711.2,1375.4 L1712.7,1377.3 L1714.3,1379.2 L1715.9,1381.1 L1717.5,1382.9 L1719.1,1384.8 L1720.8,1386.6 L1722.5,1388.4 L1724.1,1390.2 L1725.8,1391.9 L1727.6,1393.6 L1729.3,1395.3 L1731.1,1397.0 L1732.8,1398.7 L1734.6,1400.3 L1736.4,1401.9 L1738.3,1403.5 L1740.1,1405.1 L1742.0,1406.6 L1743.9,1408.1 L1745.8,1409.6 L1747.8,1411.0 L1749.8,1412.5 L1751.7,1413.9 L1753.8,1415.2 L1755.8,1416.6 L1757.8,1417.9 L1759.9,1419.2 L1762.0,1420.5 L1764.1,1421.7 L1766.2,1423.0 L1768.3,1424.2 L1770.5,1425.4 L1772.7,1426.5 L1774.8,1427.6 L1777.0,1428.7 L1779.3,1429.8 L1781.5,1430.9 L1783.7,1431.9 L1786.0,1433.0 L1788.3,1434.0 L1790.6,1434.9 L1792.9,1435.9 L1795.2,1436.8 L1797.5,1437.7 L1799.8,1438.6 L1802.2,1439.5 L1804.5,1440.4 L1806.9,1441.2 L1809.3,1442.0 L1811.7,1442.8 L1814.1,1443.6 L1816.5,1444.3 L1818.9,1445.1 L1821.3,1445.8 L1823.7,1446.5 L1826.2,1447.2 L1828.6,1447.9 L1831.1,1448.5 L1833.5,1449.2 L1836.0,1449.8 L1838.4,1450.4 L1840.9,1451.0 L1843.4,1451.6 L1845.9,1452.1 L1848.3,1452.7 L1850.8,1453.2 L1853.3,1453.7 L1855.8,1454.2 L1858.3,1454.7 L1860.8,1455.2 L1863.3,1455.7 L1865.8,1456.1 L1868.3,1456.6 L1870.8,1457.0 L1873.2,1457.4 L1875.7,1457.8 L1878.2,1458.2 L1880.7,1458.6 L1883.2,1458.9 L1885.7,1459.3 L1888.2,1459.6 L1890.7,1459.9 L1893.2,1460.3 L1895.7,1460.6 L1898.2,1460.9 L1900.6,1461.2 L1903.1,1461.5 L1905.6,1461.7 L1908.1,1462.0 L1910.6,1462.2 L1913.1,1462.5 L1915.6,1462.7 L1918.1,1462.9 L1920.6,1463.2 L1923.1,1463.4 L1925.5,1463.6 L1928.0,1463.8 L1930.5,1463.9 L1933.0,1464.1 L1935.5,1464.3 L1938.0,1464.5 L1940.5,1464.6 L1943.0,1464.8 L1945.5,1464.9 L1947.9,1465.0 L1950.4,1465.2 L1952.9,1465.3 L1955.4,1465.4 L1957.9,1465.5 L1960.4,1465.6 L1962.9,1465.7 L1965.4,1465.8 L1967.9,1465.9 L1970.3,1466.0 L1972.8,1466.1 L1975.3,1466.2 L1977.8,1466.3 L1980.3,1466.3 L1982.8,1466.4 L1985.3,1466.5 L1987.8,1466.5 L1990.3,1466.6 L1992.7,1466.7 L1995.2,1466.7 L1997.7,1466.8 L2000.2,1466.8 L2002.7,1466.9 L2005.2,1466.9 L2007.7,1466.9 L2010.2,1467.0 L2012.7,1467.0 L2015.2,1467.1 L2017.7,1467.1 L2020.2,1467.2 L2022.6,1467.2 L2025.1,1467.2 L2027.6,1467.3 L2030.1,1467.3 L2032.6,1467.4 L2035.1,1467.4 L2037.6,1467.4 L2040.1,1467.5 L2042.6,1467.5 L2045.1,1467.6 L2047.6,1467.6 L2050.1,1467.7 L2052.6,1467.7 L2055.1,1467.8 L2057.6,1467.8 L2060.1,1467.9 L2062.6,1468.0 L2065.1,1468.0 L2067.6,1468.1 L2070.1,1468.2 L2072.5,1468.2 L2075.0,1468.3 L2077.5,1468.4 L2080.0,1468.5 L2082.5,1468.6 L2085.0,1468.7 L2087.5,1468.8 L2090.0,1468.9 L2092.6,1469.0 L2095.1,1469.1 L2097.6,1469.2 L2100.1,1469.3 L2102.6,1469.4 L2105.1,1469.5 L2107.6,1469.7 L2110.1,1469.8 L2112.6,1469.9 L2115.1,1470.0 L2117.6,1470.1 L2120.1,1470.2 L2122.6,1470.4 L2125.1,1470.5 L2127.6,1470.6 L2130.1,1470.7 L2132.6,1470.8 L2135.1,1470.9 L2137.6,1471.0 L2140.1,1471.1 L2142.6,1471.2 L2145.1,1471.3 L2147.6,1471.4 L2150.1,1471.5 L2152.6,1471.6 L2155.1,1471.7 L2157.6,1471.7 L2160.1,1471.8 L2162.6,1471.9 L2165.1,1472.0 L2167.6,1472.0 L2170.1,1472.1 L2172.6,1472.1 L2175.1,1472.2 L2177.6,1472.2 L2180.1,1472.3 L2182.6,1472.3 L2185.1,1472.4 L2187.6,1472.4 L2190.1,1472.4 L2192.6,1472.5 L2195.1,1472.5 L2197.6,1472.5 L2200.1,1472.5 L2202.6,1472.6 L2205.1,1472.6 L2207.6,1472.6 L2210.1,1472.7 L2212.6,1472.7 L2215.1,1472.7 L2217.6,1472.7 L2220.0,1472.8 L2222.5,1472.8 L2225.0,1472.8 L2227.5,1472.8 L2230.0,1472.9 L2232.5,1472.9 L2235.0,1472.9 L2237.5,1472.9 L2240.0,1473.0 L2242.5,1473.0 L2245.0,1473.0 L2247.5,1473.1 L2250.0,1473.1 L2252.5,1473.2 L2255.0,1473.2 L2257.5,1473.2 L2260.0,1473.3 L2262.5,1473.3 L2265.0,1473.4 L2267.5,1473.5 L2270.0,1473.5 L2272.5,1473.6 L2275.0,1473.6 L2277.5,1473.7 L2280.0,1473.8 L2282.5,1473.9 L2285.0,1474.0 L2287.5,1474.1 L2290.0,1474.2 L2292.5,1474.3 L2295.0,1474.4 L2297.5,1474.5 L2300.0,1474.6 L2302.5,1474.7 L2305.0,1474.8" fill="none" stroke="#8000ff" stroke-width="2.5" stroke-linejoin="round"/>
<path d="M306.5,1429.6 L308.9,1429.7 L311.5,1429.8 L314.0,1429.9 L316.5,1430.0 L319.0,1430.2 L321.5,1430.3 L324.0,1430.4 L326.6,1430.6 L329.1,1430.7 L331.6,1430.8 L334.1,1431.0 L336.6,1431.2 L339.1,1431.3 L341.6,1431.5 L344.1,1431.7 L346.6,1431.8 L349.1,1432.0 L351.6,1432.2 L354.1,1432.4 L356.6,1432.6 L359.1,1432.8 L361.6,1433.0 L364.1,1433.2 L366.6,1433.4 L369.1,1433.6 L371.6,1433.8 L374.1,1434.0 L376.6,1434.3 L379.1,1434.5 L381.6,1434.7 L384.1,1434.9 L386.6,1435.2 L389.0,1435.4 L391.5,1435.6 L394.0,1435.9 L396.5,1436.1 L399.0,1436.4 L401.5,1436.6 L404.0,1436.9 L406.4,1437.1 L408.9,1437.4 L411.4,1437.6 L413.9,1437.9 L416.4,1438.1 L418.9,1438.4 L421.3,1438.6 L423.8,1438.9 L426.3,1439.2 L428.8,1439.4 L431.3,1439.7 L433.7,1440.0 L436.2,1440.2 L438.7,1440.5 L441.2,1440.8 L443.6,1441.0 L446.1,1441.3 L448.6,1441.6 L451.1,1441.9 L453.5,1442.1 L456.0,1442.4 L458.5,1442.7 L461.0,1442.9 L463.4,1443.2 L465.9,1443.5 L468.4,1443.8 L470.9,1444.0 L473.3,1444.3 L475.8,1444.6 L478.3,1444.8 L480.7,1445.1 L483.2,1445.4 L485.7,1445.6 L488.2,1445.9 L490.6,1446.2 L493.1,1446.4 L495.6,1446.7 L498.1,1446.9 L500.5,1447.2 L503.0,1447.5 L505.5,1447.7 L507.9,1448.0 L510.4,1448.2 L512.9,1448.5 L515.4,1448.7 L517.8,1449.0 L520.3,1449.2 L522.8,1449.4 L525.3,1449.7 L527.7,1449.9 L530.2,1450.1 L532.7,1450.4 L535.2,1450.6 L537.6,1450.8 L540.1,1451.0 L542.6,1451.3 L545.1,1451.5 L547.6,1451.7 L550.0,1451.9 L552.5,1452.1 L555.0,1452.3 L557.5,1452.5 L560.0,1452.7 L562.4,1452.9 L564.9,1453.1 L567.4,1453.3 L569.9,1453.4 L572.4,1453.6 L574.8,1453.8 L577.3,1453.9 L579.8,1454.1 L582.3,1454.3 L584.8,1454.4 L587.3,1454.5 L589.8,1454.7 L592.3,1454.8 L594.7,1455.0 L597.2,1455.1 L599.7,1455.2 L602.2,1455.3 L604.7,1455.4 L607.2,1455.5 L609.7,1455.6 L612.2,1455.7 L614.7,1455.8 L617.2,1455.9 L619.7,1456.0 L622.2,1456.0 L624.7,1456.1 L627.2,1456.2 L629.7,1456.2 L632.2,1456.2 L634.7,1456.3 L637.2,1456.3 L639.7,1456.3 L642.2,1456.4 L644.7,1456.4 L647.3,1456.4 L649.8,1456.4 L652.3,1456.3 L654.8,1456.3 L657.3,1456.3 L659.8,1456.3 L662.3,1456.2 L664.9,1456.2 L667.4,1456.1 L669.9,1456.1 L672.4,1456.0 L674.9,1455.9 L677.4,1455.8 L680.0,1455.7 L682.5,1455.6 L685.0,1455.5 L687.5,1455.4 L690.0,1455.2 L692.6,1455.1 L695.1,1455.0 L697.6,1454.8 L700.1,1454.6 L702.6,1454.5 L705.1,1454.3 L707.6,1454.1 L710.2,1453.9 L712.7,1453.7 L715.2,1453.5 L717.7,1453.2 L720.2,1453.0 L722.7,1452.8 L725.2,1452.5 L727.7,1452.2 L730.2,1452.0 L732.7,1451.7 L735.2,1451.4 L737.7,1451.1 L740.2,1450.8 L742.7,1450.4 L745.2,1450.1 L747.7,1449.7 L750.2,1449.4 L752.6,1449.0 L755.1,1448.6 L757.6,1448.3 L760.1,1447.9 L762.6,1447.4 L765.0,1447.0 L767.5,1446.6 L770.0,1446.1 L772.4,1445.7 L774.9,1445.2 L777.3,1444.7 L779.8,1444.3 L782.3,1443.8 L784.7,1443.2 L787.1,1442.7 L789.6,1442.2 L792.0,1441.6 L794.5,1441.1 L796.9,1440.5 L799.3,1439.9 L801.7,1439.3 L804.1,1438.7 L806.6,1438.1 L809.0,1437.5 L811.4,1436.8 L813.8,1436.2 L816.2,1435.5 L818.6,1434.8 L821.0,1434.1 L823.3,1433.4 L825.7,1432.7 L828.1,1432.0 L830.5,1431.2 L832.8,1430.4 L835.2,1429.7 L837.5,1428.9 L839.9,1428.1 L842.2,1427.3 L844.6,1426.4 L846.9,1425.6 L849.2,1424.7 L851.5,1423.9 L853.9,1423.0 L856.2,1422.1 L858.5,1421.2 L860.8,1420.3 L863.1,1419.3 L865.3,1418.4 L867.6,1417.4 L869.9,1416.4 L872.2,1415.4 L874.4,1414.4 L876.7,1413.4 L878.9,1412.3 L881.2,1411.3 L883.4,1410.2 L885.7,1409.2 L887.9,1408.1 L890.1,1407.0 L892.3,1405.9 L894.5,1404.7 L896.7,1403.6 L898.9,1402.5 L901.1,1401.3 L903.3,1400.1 L905.5,1398.9 L907.7,1397.7 L909.8,1396.5 L912.0,1395.3 L914.2,1394.1 L916.3,1392.8 L918.5,1391.6 L920.6,1390.3 L922.7,1389.0 L924.9,1387.8 L927.0,1386.5 L929.1,1385.1 L931.2,1383.8 L933.3,1382.5 L935.4,1381.2 L937.5,1379.8 L939.6,1378.4 L941.7,1377.1 L943.8,1375.7 L945.9,1374.3 L947.9,1372.9 L950.0,1371.5 L952.1,1370.1 L954.1,1368.6 L956.2,1367.2 L958.2,1365.8 L960.2,1364.3 L962.3,1362.8 L964.3,1361.4 L966.3,1359.9 L968.3,1358.4 L970.3,1356.9 L972.3,1355.4 L974.3,1353.9 L976.3,1352.4 L978.3,1350.8 L980.3,1349.3 L982.3,1347.7 L984.2,1346.2 L986.2,1344.6 L988.1,1343.0 L990.1,1341.5 L992.0,1339.9 L994.0,1338.3 L995.9,1336.7 L997.9,1335.1 L999.8,1333.5 L1001.7,1331.8 L1003.6,1330.2 L1005.5,1328.6 L1007.4,1326.9 L1009.3,1325.3 L1011.2,1323.6 L1013.1,1322.0 L1015.0,1320.3 L1016.9,1318.7 L1018.7,1317.0 L1020.6,1315.3 L1022.5,1313.6 L1024.3,1311.9 L1026.2,1310.2 L1028.0,1308.5 L1029.8,1306.8 L1031.7,1305.1 L1033.5,1303.4 L1035.3,1301.7 L1037.2,1299.9 L1039.0,1298.2 L1040.8,1296.5 L1042.6,1294.7 L1044.4,1293.0 L1046.2,1291.2 L1048.0,1289.5 L1049.7,1287.7 L1051.5,1286.0 L1053.3,1284.2 L1055.0,1282.4 L1056.8,1280.7 L1058.6,1278.9 L1060.3,1277.1 L1062.1,1275.3 L1063.8,1273.5 L1065.5,1271.7 L1067.3,1269.9 L1069.0,1268.1 L1070.7,1266.3 L1072.4,1264.5 L1074.1,1262.7 L1075.8,1260.9 L1077.5,1259.1 L1079.2,1257.3 L1080.9,1255.4 L1082.6,1253.6 L1084.3,1251.8 L1085.9,1249.9 L1087.6,1248.1 L1089.2,1246.2 L1090.9,1244.4 L1092.5,1242.5 L1094.2,1240.7 L1095.8,1238.8 L1097.5,1236.9 L1099.1,1235.1 L1100.7,1233.2 L1102.3,1231.3 L1103.9,1229.4 L1105.5,1227.5 L1107.1,1225.6 L1108.7,1223.7 L1110.3,1221.8 L1111.9,1219.9 L1113.5,1217.9 L1115.1,1216.0 L1116.6,1214.1 L1118.2,1212.2 L1119.7,1210.2 L1121.3,1208.3 L1122.8,1206.3 L1124.4,1204.4 L1125.9,1202.4 L1127.4,1200.4 L1129.0,1198.5 L1130.5,1196.5 L1132.0,1194.5 L1133.5,1192.5 L1135.0,1190.5 L1136.5,1188.5 L1138.0,1186.5 L1139.5,1184.5 L1141.0,1182.5 L1142.5,1180.5 L1143.9,1178.5 L1145.4,1176.5 L1146.9,1174.5 L1148.3,1172.4 L1149.8,1170.4 L1151.3,1168.4 L1152.7,1166.4 L1154.2,1164.3 L1155.7,1162.3 L1157.1,1160.3 L1158.6,1158.2 L1160.0,1156.2 L1161.5,1154.2 L1163.0,1152.1 L1164.4,1150.1 L1165.9,1148.1 L1167.3,1146.0 L1168.8,1144.0 L1170.2,1142.0 L1171.7,1140.0 L1173.2,1137.9 L1174.6,1135.9 L1176.1,1133.9 L1177.6,1131.9 L1179.0,1129.8 L1180.5,1127.8 L1182.0,1125.8 L1183.5,1123.8 L1184.9,1121.8 L1186.4,1119.8 L1187.9,1117.8 L1189.4,1115.8 L1190.9,1113.8 L1192.4,1111.8 L1193.8,1109.8 L1195.3,1107.8 L1196.8,1105.8 L1198.3,1103.8 L1199.8,1101.8 L1201.4,1099.8 L1202.9,1097.8 L1204.4,1095.9 L1205.9,1093.9 L1207.4,1091.9 L1208.9,1089.9 L1210.5,1088.0 L1212.0,1086.0 L1213.5,1084.1 L1215.1,1082.1 L1216.6,1080.1 L1218.2,1078.2 L1219.7,1076.3 L1221.3,1074.3 L1222.9,1072.4 L1224.4,1070.4 L1226.0,1068.5 L1227.6,1066.6 L1229.2,1064.7 L1230.8,1062.7 L1232.3,1060.8 L1233.9,1058.9 L1235.5,1057.0 L1237.1,1055.1 L1238.8,1053.2 L1240.4,1051.3 L1242.0,1049.4 L1243.6,1047.5 L1245.2,1045.6 L1246.9,1043.7 L1248.5,1041.8 L1250.1,1039.9 L1251.7,1038.0 L1253.4,1036.1 L1255.0,1034.2 L1256.6,1032.4 L1258.3,1030.5 L1259.9,1028.6 L1261.5,1026.7 L1263.1,1024.8 L1264.8,1022.9 L1266.4,1021.0 L1268.0,1019.1 L1269.6,1017.2 L1271.3,1015.3 L1272.9,1013.4 L1274.5,1011.5 L1276.1,1009.6 L1277.7,1007.7 L1279.3,1005.8 L1280.9,1003.9 L1282.5,1001.9 L1284.1,1000.0 L1285.7,998.1 L1287.2,996.2 L1288.8,994.2 L1290.4,992.3 L1291.9,990.3 L1293.5,988.4 L1295.0,986.4 L1296.5,984.4 L1298.1,982.5 L1299.6,980.5 L1301.1,978.5 L1302.6,976.5 L1304.1,974.5 L1305.5,972.5 L1307.0,970.5 L1308.5,968.5 L1309.9,966.4 L1311.4,964.4 L1312.8,962.4 L1314.2,960.3 L1315.7,958.3 L1317.1,956.2 L1318.5,954.1 L1319.9,952.1 L1321.3,950.0 L1322.6,947.9 L1324.0,945.8 L1325.4,943.7 L1326.7,941.6 L1328.1,939.5 L1329.4,937.4 L1330.7,935.3 L1332.0,933.1 L1333.4,931.0 L1334.7,928.9 L1335.9,926.7 L1337.2,924.6 L1338.5,922.4 L1339.8,920.3 L1341.0,918.1 L1342.3,916.0 L1343.5,913.8 L1344.8,911.6 L1346.0,909.4 L1347.2,907.2 L1348.4,905.0 L1349.6,902.9 L1350.8,900.7 L1352.0,898.5 L1353.2,896.2 L1354.4,894.0 L1355.6,891.8 L1356.7,889.6 L1357.9,887.4 L1359.0,885.1 L1360.1,882.9 L1361.3,880.7 L1362.4,878.4 L1363.5,876.2 L1364.6,873.9 L1365.7,871.7 L1366.8,869.4 L1367.9,867.2 L1369.0,864.9 L1370.0,862.7 L1371.1,860.4 L1372.1,858.1 L1373.2,855.8 L1374.2,853.6 L1375.3,851.3 L1376.3,849.0 L1377.3,846.7 L1378.3,844.4 L1379.3,842.1 L1380.3,839.8 L1381.3,837.5 L1382.3,835.2 L1383.3,832.9 L1384.2,830.6 L1385.2,828.3 L1386.1,826.0 L1387.1,823.7 L1388.0,821.4 L1389.0,819.1 L1389.9,816.8 L1390.8,814.5 L1391.8,812.1 L1392.7,809.8 L1393.6,807.5 L1394.5,805.2 L1395.4,802.9 L1396.3,800.5 L1397.2,798.2 L1398.1,795.9 L1399.0,793.5 L1399.9,791.2 L1400.8,788.9 L1401.7,786.6 L1402.6,784.2 L1403.5,781.9 L1404.4,779.6 L1405.2,777.2 L1406.1,774.9 L1407.0,772.6 L1407.9,770.3 L1408.8,767.9 L1409.7,765.6 L1410.6,763.3 L1411.4,760.9 L1412.3,758.6 L1413.2,756.3 L1414.1,754.0 L1415.0,751.6 L1415.9,749.3 L1416.8,747.0 L1417.7,744.7 L1418.6,742.4 L1419.5,740.0 L1420.4,737.7 L1421.3,735.4 L1422.3,733.1 L1423.2,730.8 L1424.1,728.5 L1425.0,726.2 L1426.0,723.9 L1426.9,721.6 L1427.9,719.3 L1428.8,717.0 L1429.8,714.7 L1430.7,712.4 L1431.7,710.1 L1432.7,707.8 L1433.7,705.5 L1434.7,703.3 L1435.7,701.0 L1436.7,698.7 L1437.7,696.4 L1438.7,694.2 L1439.7,691.9 L1440.8,689.6 L1441.8,687.4 L1442.9,685.1 L1444.0,682.9 L1445.0,680.6 L1446.1,678.4 L1447.2,676.2 L1448.4,674.0 L1449.5,671.7 L1450.7,669.5 L1451.8,667.3 L1453.0,665.1 L1454.2,663.0 L1455.4,660.8 L1456.7,658.6 L1458.0,656.5 L1459.2,654.3 L1460.6,652.2 L1461.9,650.1 L1463.3,648.0 L1464.7,645.9 L1466.1,643.9 L1467.6,641.8 L1469.0,639.8 L1470.6,637.8 L1472.1,635.8 L1473.7,633.8 L1475.3,631.9 L1477.0,629.9 L1478.7,628.0 L1480.4,626.1 L1482.2,624.2 L1484.0,622.4 L1485.8,620.6 L1487.7,618.8 L1489.6,617.0 L1491.6,615.2 L1493.6,613.5 L1495.7,611.9 L1497.8,610.3 L1499.9,608.8 L1502.1,607.5 L1504.2,606.4 L1506.4,605.4 L1508.6,604.7 L1510.8,604.2 L1513.0,604.0 L1515.2,604.0 L1517.4,604.4 L1519.6,605.0 L1521.8,605.9 L1523.9,606.9 L1526.0,608.2 L1528.0,609.6 L1530.0,611.2 L1531.9,612.9 L1533.7,614.6 L1535.5,616.5 L1537.2,618.4 L1538.8,620.3 L1540.4,622.3 L1541.9,624.4 L1543.3,626.5 L1544.6,628.6 L1545.9,630.8 L1547.2,633.0 L1548.4,635.2 L1549.6,637.5 L1550.7,639.8 L1551.8,642.1 L1552.9,644.4 L1553.9,646.7 L1554.9,649.0 L1555.9,651.4 L1556.9,653.7 L1557.9,656.1 L1558.8,658.4 L1559.8,660.8 L1560.7,663.2 L1561.6,665.5 L1562.5,667.9 L1563.4,670.2 L1564.3,672.6 L1565.2,675.0 L1566.0,677.3 L1566.8,679.7 L1567.7,682.1 L1568.5,684.4 L1569.3,686.8 L1570.1,689.2 L1570.9,691.6 L1571.6,693.9 L1572.4,696.3 L1573.2,698.7 L1573.9,701.1 L1574.6,703.5 L1575.4,705.8 L1576.1,708.2 L1576.8,710.6 L1577.5,713.0 L1578.2,715.4 L1578.9,717.8 L1579.5,720.2 L1580.2,722.6 L1580.8,725.0 L1581.5,727.4 L1582.1,729.8 L1582.8,732.2 L1583.4,734.6 L1584.0,737.0 L1584.6,739.4 L1585.2,741.8 L1585.8,744.2 L1586.4,746.6 L1587.0,749.0 L1587.6,751.4 L1588.2,753.9 L1588.8,756.3 L1589.3,758.7 L1589.9,761.1 L1590.5,763.5 L1591.0,765.9 L1591.6,768.4 L1592.1,770.8 L1592.7,773.2 L1593.2,775.6 L1593.8,778.1 L1594.3,780.5 L1594.9,782.9 L1595.4,785.3 L1595.9,787.8 L1596.4,790.2 L1597.0,792.6 L1597.5,795.1 L1598.0,797.5 L1598.5,799.9 L1599.1,802.4 L1599.6,804.8 L1600.1,807.2 L1600.6,809.7 L1601.1,812.1 L1601.6,814.6 L1602.1,817.0 L1602.6,819.4 L1603.1,821.9 L1603.6,824.3 L1604.1,826.8 L1604.6,829.2 L1605.1,831.7 L1605.6,834.1 L1606.1,836.5 L1606.6,839.0 L1607.1,841.4 L1607.6,843.9 L1608.1,846.3 L1608.5,848.8 L1609.0,851.2 L1609.5,853.7 L1610.0,856.1 L1610.5,858.6 L1610.9,861.0 L1611.4,863.5 L1611.9,865.9 L1612.4,868.4 L1612.8,870.9 L1613.3,873.3 L1613.8,875.8 L1614.3,878.2 L1614.7,880.7 L1615.2,883.1 L1615.7,885.6 L1616.1,888.0 L1616.6,890.5 L1617.1,893.0 L1617.6,895.4 L1618.0,897.9 L1618.5,900.3 L1618.9,902.8 L1619.4,905.3 L1619.9,907.7 L1620.3,910.2 L1620.8,912.6 L1621.3,915.1 L1621.7,917.6 L1622.2,920.0 L1622.7,922.5 L1623.1,924.9 L1623.6,927.4 L1624.1,929.9 L1624.5,932.3 L1625.0,934.8 L1625.5,937.2 L1625.9,939.7 L1626.4,942.2 L1626.9,944.6 L1627.3,947.1 L1627.8,949.5 L1628.3,952.0 L1628.7,954.5 L1629.2,956.9 L1629.7,959.4 L1630.1,961.8 L1630.6,964.3 L1631.1,966.7 L1631.6,969.2 L1632.0,971.7 L1632.5,974.1 L1633.0,976.6 L1633.5,979.0 L1633.9,981.5 L1634.4,983.9 L1634.9,986.4 L1635.4,988.9 L1635.9,991.3 L1636.4,993.8 L1636.8,996.2 L1637.3,998.7 L1637.8,1001.1 L1638.3,1003.6 L1638.8,1006.0 L1639.3,1008.5 L1639.8,1010.9 L1640.3,1013.4 L1640.8,1015.8 L1641.3,1018.3 L1641.8,1020.7 L1642.3,1023.2 L1642.8,1025.6 L1643.3,1028.1 L1643.8,1030.5 L1644.3,1033.0 L1644.8,1035.4 L1645.4,1037.9 L1645.9,1040.3 L1646.4,1042.7 L1646.9,1045.2 L1647.4,1047.6 L1648.0,1050.1 L1648.5,1052.5 L1649.0,1054.9 L1649.6,1057.4 L1650.1,1059.8 L1650.6,1062.3 L1651.2,1064.7 L1651.7,1067.1 L1652.3,1069.6 L1652.8,1072.0 L1653.4,1074.4 L1653.9,1076.9 L1654.5,1079.3 L1655.1,1081.7 L1655.6,1084.1 L1656.2,1086.6 L1656.8,1089.0 L1657.3,1091.4 L1657.9,1093.8 L1658.5,1096.3 L1659.1,1098.7 L1659.7,1101.1 L1660.2,1103.5 L1660.8,1105.9 L1661.4,1108.4 L1662.0,1110.8 L1662.6,1113.2 L1663.2,1115.6 L1663.8,1118.0 L1664.4,1120.4 L1665.0,1122.9 L1665.6,1125.3 L1666.3,1127.7 L1666.9,1130.1 L1667.5,1132.5 L1668.1,1134.9 L1668.7,1137.3 L1669.4,1139.7 L1670.0,1142.2 L1670.6,1144.6 L1671.3,1147.0 L1671.9,1149.4 L1672.5,1151.8 L1673.2,1154.2 L1673.8,1156.6 L1674.5,1159.0 L1675.1,1161.4 L1675.8,1163.8 L1676.4,1166.2 L1677.1,1168.6 L1677.7,1171.0 L1678.4,1173.5 L1679.1,1175.9 L1679.7,1178.3 L1680.4,1180.7 L1681.1,1183.1 L1681.7,1185.5 L1682.4,1187.9 L1683.1,1190.3 L1683.8,1192.7 L1684.4,1195.1 L1685.1,1197.5 L1685.8,1199.9 L1686.5,1202.3 L1687.2,1204.7 L1687.9,1207.1 L1688.6,1209.5 L1689.3,1211.9 L1690.0,1214.3 L1690.7,1216.7 L1691.4,1219.1 L1692.1,1221.5 L1692.8,1223.9 L1693.5,1226.3 L1694.2,1228.7 L1694.9,1231.1 L1695.7,1233.5 L1696.4,1235.9 L1697.1,1238.3 L1697.8,1240.8 L1698.6,1243.2 L1699.3,1245.6 L1700.0,1248.0 L1700.8,1250.4 L1701.5,1252.8 L1702.2,1255.2 L1703.0,1257.6 L1703.7,1260.0 L1704.5,1262.4 L1705.2,1264.8 L1706.0,1267.2 L1706.7,1269.5 L1707.5,1271.9 L1708.3,1274.3 L1709.1,1276.7 L1709.8,1279.1 L1710.6,1281.5 L1711.4,1283.8 L1712.2,1286.2 L1713.0,1288.6 L1713.8,1290.9 L1714.6,1293.3 L1715.4,1295.7 L1716.3,1298.0 L1717.1,1300.3 L1717.9,1302.7 L1718.8,1305.0 L1719.6,1307.4 L1720.5,1309.7 L1721.3,1312.0 L1722.2,1314.3 L1723.1,1316.6 L1724.0,1318.9 L1724.9,1321.2 L1725.8,1323.5 L1726.7,1325.8 L1727.6,1328.1 L1728.5,1330.4 L1729.4,1332.6 L1730.4,1334.9 L1731.3,1337.1 L1732.3,1339.4 L1733.2,1341.7 L1734.2,1343.9 L1735.2,1346.2 L1736.2,1348.4 L1737.2,1350.6 L1738.2,1352.9 L1739.2,1355.1 L1740.2,1357.4 L1741.3,1359.6 L1742.3,1361.8 L1743.4,1364.1 L1744.5,1366.3 L1745.5,1368.5 L1746.6,1370.8 L1747.7,1373.0 L1748.9,1375.3 L1750.0,1377.5 L1751.1,1379.7 L1752.3,1382.0 L1753.4,1384.2 L1754.6,1386.5 L1755.8,1388.7 L1757.0,1391.0 L1758.2,1393.2 L1759.4,1395.5 L1760.7,1397.7 L1761.9,1399.9 L1763.2,1402.2 L1764.5,1404.4 L1765.8,1406.6 L1767.1,1408.8 L1768.4,1411.0 L1769.8,1413.2 L1771.2,1415.3 L1772.5,1417.5 L1774.0,1419.6 L1775.4,1421.7 L1776.8,1423.8 L1778.3,1425.9 L1779.8,1428.0 L1781.3,1430.0 L1782.8,1432.0 L1784.4,1434.0 L1785.9,1436.0 L1787.5,1438.0 L1789.1,1439.9 L1790.8,1441.8 L1792.4,1443.7 L1794.1,1445.5 L1795.8,1447.3 L1797.6,1449.1 L1799.3,1450.8 L1801.1,1452.5 L1802.9,1454.2 L1804.8,1455.9 L1806.6,1457.5 L1808.5,1459.0 L1810.5,1460.6 L1812.4,1462.1 L1814.4,1463.5 L1816.4,1464.9 L1818.4,1466.3 L1820.5,1467.6 L1822.6,1468.9 L1824.7,1470.1 L1826.8,1471.3 L1829.0,1472.5 L1831.2,1473.6 L1833.4,1474.7 L1835.6,1475.8 L1837.8,1476.8 L1840.1,1477.8 L1842.4,1478.8 L1844.7,1479.8 L1847.0,1480.7 L1849.3,1481.5 L1851.7,1482.4 L1854.0,1483.2 L1856.4,1484.0 L1858.8,1484.7 L1861.2,1485.5 L1863.6,1486.2 L1866.0,1486.9 L1868.4,1487.5 L1870.8,1488.1 L1873.3,1488.8 L1875.7,1489.3 L1878.2,1489.9 L1880.6,1490.5 L1883.1,1491.0 L1885.5,1491.5 L1888.0,1492.0 L1890.4,1492.4 L1892.9,1492.9 L1895.4,1493.3 L1897.8,1493.7 L1900.3,1494.1 L1902.8,1494.5 L1905.3,1494.9 L1907.7,1495.2 L1910.2,1495.5 L1912.7,1495.9 L1915.2,1496.2 L1917.7,1496.5 L1920.2,1496.7 L1922.6,1497.0 L1925.1,1497.2 L1927.6,1497.5 L1930.1,1497.7 L1932.6,1497.9 L1935.1,1498.1 L1937.6,1498.3 L1940.1,1498.4 L1942.6,1498.6 L1945.1,1498.8 L1947.6,1498.9 L1950.1,1499.0 L1952.6,1499.2 L1955.1,1499.3 L1957.7,1499.4 L1960.2,1499.5 L1962.7,1499.6 L1965.2,1499.7 L1967.7,1499.7 L1970.2,1499.8 L1972.7,1499.9 L1975.2,1500.0 L1977.7,1500.0 L1980.2,1500.1 L1982.7,1500.1 L1985.3,1500.2 L1987.8,1500.2 L1990.3,1500.3 L1992.8,1500.3 L1995.3,1500.3 L1997.8,1500.4 L2000.3,1500.4 L2002.8,1500.4 L2005.3,1500.5 L2007.8,1500.5 L2010.3,1500.5 L2012.9,1500.6 L2015.4,1500.6 L2017.9,1500.7 L2020.4,1500.7 L2022.9,1500.7 L2025.4,1500.8 L2027.9,1500.8 L2030.4,1500.9 L2032.9,1500.9 L2035.3,1501.0 L2037.8,1501.1 L2040.3,1501.1 L2042.8,1501.2 L2045.3,1501.3 L2047.8,1501.4 L2050.3,1501.5 L2052.8,1501.6 L2055.2,1501.7 L2057.7,1501.8 L2060.2,1501.8 L2062.7,1501.9 L2065.2,1502.0 L2067.7,1502.1 L2070.1,1502.2 L2072.6,1502.3 L2075.1,1502.4 L2077.6,1502.5 L2080.1,1502.5 L2082.6,1502.6 L2085.1,1502.7 L2087.6,1502.7 L2090.0,1502.8 L2092.5,1502.8 L2095.0,1502.8 L2097.5,1502.9 L2100.0,1502.9 L2102.5,1502.9 L2105.0,1503.0 L2107.5,1503.0 L2110.0,1503.0 L2112.5,1503.0 L2115.0,1503.1 L2117.5,1503.1 L2120.0,1503.1 L2122.5,1503.1 L2125.1,1503.1 L2127.6,1503.1 L2130.1,1503.1 L2132.6,1503.1 L2135.1,1503.1 L2137.6,1503.1 L2140.1,1503.1 L2142.6,1503.2 L2145.1,1503.2 L2147.6,1503.2 L2150.1,1503.2 L2152.6,1503.2 L2155.1,1503.2 L2157.6,1503.2 L2160.1,1503.2 L2162.6,1503.3 L2165.1,1503.3 L2167.6,1503.3 L2170.1,1503.3 L2172.6,1503.4 L2175.1,1503.4 L2177.6,1503.4 L2180.1,1503.4 L2182.6,1503.5 L2185.1,1503.5 L2187.6,1503.5 L2190.1,1503.6 L2192.6,1503.6 L2195.1,1503.7 L2197.6,1503.7 L2200.1,1503.7 L2202.6,1503.8 L2205.1,1503.8 L2207.6,1503.9 L2210.1,1503.9 L2212.6,1503.9 L2215.1,1504.0 L2217.6,1504.0 L2220.1,1504.1 L2222.6,1504.1 L2225.1,1504.2 L2227.5,1504.2 L2230.0,1504.2 L2232.5,1504.3 L2235.0,1504.3 L2237.5,1504.4 L2240.0,1504.4 L2242.5,1504.4 L2245.0,1504.5 L2247.5,1504.5 L2250.0,1504.6 L2252.5,1504.6 L2255.0,1504.6 L2257.5,1504.7 L2260.0,1504.7 L2262.5,1504.8 L2265.0,1504.8 L2267.5,1504.8 L2270.0,1504.9 L2272.5,1504.9 L2275.0,1504.9 L2277.5,1504.9 L2280.0,1505.0 L2282.5,1505.0 L2285.0,1505.0 L2287.5,1505.0 L2290.0,1505.1 L2292.5,1505.1 L2295.0,1505.1 L2297.5,1505.1 L2300.0,1505.1 L2302.5,1505.1 L2305.0,1505.2" fill="none" stroke="#22c4cc" stroke-width="2.5" stroke-linejoin="round"/>
<path d="M306.5,1402.5 L309.1,1402.6 L311.6,1402.7 L314.0,1402.8 L316.5,1402.9 L319.0,1403.1 L321.5,1403.2 L323.9,1403.3 L326.4,1403.5 L328.9,1403.6 L331.3,1403.8 L333.8,1403.9 L336.3,1404.1 L338.8,1404.3 L341.2,1404.5 L343.7,1404.7 L346.2,1404.8 L348.7,1405.0 L351.1,1405.2 L353.6,1405.4 L356.1,1405.7 L358.6,1405.9 L361.1,1406.1 L363.5,1406.3 L366.0,1406.5 L368.5,1406.8 L371.0,1407.0 L373.5,1407.3 L375.9,1407.5 L378.4,1407.8 L380.9,1408.0 L383.4,1408.3 L385.9,1408.5 L388.4,1408.8 L390.8,1409.1 L393.3,1409.3 L395.8,1409.6 L398.3,1409.9 L400.8,1410.2 L403.3,1410.4 L405.8,1410.7 L408.2,1411.0 L410.7,1411.3 L413.2,1411.6 L415.7,1411.9 L418.2,1412.2 L420.7,1412.5 L423.2,1412.8 L425.7,1413.1 L428.2,1413.4 L430.7,1413.7 L433.1,1414.0 L435.6,1414.3 L438.1,1414.6 L440.6,1414.9 L443.1,1415.2 L445.6,1415.5 L448.1,1415.8 L450.6,1416.1 L453.1,1416.5 L455.6,1416.8 L458.1,1417.1 L460.6,1417.4 L463.1,1417.7 L465.6,1418.0 L468.1,1418.3 L470.5,1418.6 L473.0,1418.9 L475.5,1419.2 L478.0,1419.5 L480.5,1419.9 L483.0,1420.2 L485.5,1420.5 L488.0,1420.8 L490.5,1421.1 L493.0,1421.4 L495.5,1421.7 L498.0,1422.0 L500.5,1422.2 L503.0,1422.5 L505.5,1422.8 L508.0,1423.1 L510.5,1423.4 L513.0,1423.7 L515.5,1424.0 L518.0,1424.2 L520.5,1424.5 L523.0,1424.8 L525.5,1425.0 L528.0,1425.3 L530.5,1425.6 L533.0,1425.8 L535.5,1426.1 L538.0,1426.3 L540.5,1426.6 L542.9,1426.8 L545.4,1427.1 L547.9,1427.3 L550.4,1427.5 L552.9,1427.7 L555.4,1428.0 L557.9,1428.2 L560.4,1428.4 L562.9,1428.6 L565.4,1428.8 L567.9,1429.0 L570.4,1429.2 L572.9,1429.4 L575.4,1429.5 L577.9,1429.7 L580.4,1429.9 L582.9,1430.0 L585.4,1430.2 L587.9,1430.3 L590.4,1430.5 L592.9,1430.6 L595.4,1430.8 L597.8,1430.9 L600.3,1431.0 L602.8,1431.1 L605.3,1431.2 L607.8,1431.3 L610.3,1431.4 L612.8,1431.5 L615.3,1431.5 L617.8,1431.6 L620.3,1431.7 L622.8,1431.7 L625.3,1431.8 L627.8,1431.8 L630.2,1431.8 L632.7,1431.8 L635.2,1431.9 L637.7,1431.9 L640.2,1431.8 L642.7,1431.8 L645.2,1431.8 L647.7,1431.8 L650.1,1431.7 L652.6,1431.7 L655.1,1431.6 L657.6,1431.5 L660.1,1431.5 L662.6,1431.4 L665.1,1431.3 L667.5,1431.2 L670.0,1431.1 L672.5,1430.9 L675.0,1430.8 L677.5,1430.6 L680.0,1430.5 L682.4,1430.3 L684.9,1430.1 L687.4,1429.9 L689.9,1429.7 L692.4,1429.5 L694.8,1429.3 L697.3,1429.0 L699.8,1428.8 L702.3,1428.5 L704.7,1428.3 L707.2,1428.0 L709.7,1427.7 L712.2,1427.4 L714.6,1427.1 L717.1,1426.7 L719.6,1426.4 L722.0,1426.1 L724.5,1425.7 L727.0,1425.3 L729.4,1425.0 L731.9,1424.6 L734.4,1424.2 L736.8,1423.8 L739.3,1423.3 L741.7,1422.9 L744.2,1422.5 L746.6,1422.0 L749.1,1421.5 L751.5,1421.1 L754.0,1420.6 L756.4,1420.1 L758.9,1419.6 L761.3,1419.0 L763.7,1418.5 L766.2,1418.0 L768.6,1417.4 L771.0,1416.9 L773.5,1416.3 L775.9,1415.7 L778.3,1415.1 L780.8,1414.5 L783.2,1413.9 L785.6,1413.2 L788.0,1412.6 L790.4,1412.0 L792.8,1411.3 L795.2,1410.6 L797.6,1409.9 L800.0,1409.3 L802.4,1408.5 L804.8,1407.8 L807.2,1407.1 L809.6,1406.4 L812.0,1405.6 L814.4,1404.9 L816.8,1404.1 L819.1,1403.3 L821.5,1402.5 L823.9,1401.7 L826.2,1400.9 L828.6,1400.1 L831.0,1399.3 L833.3,1398.4 L835.7,1397.6 L838.0,1396.7 L840.4,1395.8 L842.7,1394.9 L845.0,1394.0 L847.4,1393.1 L849.7,1392.2 L852.0,1391.3 L854.3,1390.3 L856.6,1389.4 L859.0,1388.4 L861.3,1387.4 L863.6,1386.4 L865.9,1385.4 L868.2,1384.4 L870.4,1383.4 L872.7,1382.4 L875.0,1381.4 L877.3,1380.3 L879.6,1379.2 L881.8,1378.2 L884.1,1377.1 L886.3,1376.0 L888.6,1374.9 L890.8,1373.8 L893.1,1372.7 L895.3,1371.5 L897.6,1370.4 L899.8,1369.2 L902.0,1368.1 L904.2,1366.9 L906.4,1365.7 L908.6,1364.5 L910.8,1363.3 L913.0,1362.1 L915.2,1360.8 L917.4,1359.6 L919.6,1358.4 L921.7,1357.1 L923.9,1355.8 L926.1,1354.5 L928.2,1353.3 L930.4,1352.0 L932.5,1350.6 L934.6,1349.3 L936.8,1348.0 L938.9,1346.7 L941.0,1345.3 L943.1,1343.9 L945.2,1342.6 L947.3,1341.2 L949.4,1339.8 L951.5,1338.4 L953.5,1337.0 L955.6,1335.6 L957.6,1334.1 L959.7,1332.7 L961.7,1331.2 L963.8,1329.8 L965.8,1328.3 L967.8,1326.8 L969.8,1325.3 L971.8,1323.8 L973.8,1322.3 L975.8,1320.8 L977.8,1319.3 L979.8,1317.8 L981.8,1316.2 L983.7,1314.7 L985.7,1313.1 L987.6,1311.5 L989.6,1309.9 L991.5,1308.3 L993.4,1306.7 L995.3,1305.1 L997.2,1303.5 L999.1,1301.9 L1001.0,1300.2 L1002.9,1298.6 L1004.7,1296.9 L1006.6,1295.3 L1008.4,1293.6 L1010.3,1291.9 L1012.1,1290.2 L1013.9,1288.5 L1015.7,1286.8 L1017.5,1285.1 L1019.3,1283.3 L1021.1,1281.6 L1022.9,1279.8 L1024.7,1278.1 L1026.4,1276.3 L1028.2,1274.5 L1029.9,1272.7 L1031.6,1270.9 L1033.4,1269.1 L1035.1,1267.3 L1036.8,1265.5 L1038.4,1263.7 L1040.1,1261.8 L1041.8,1260.0 L1043.4,1258.1 L1045.1,1256.3 L1046.7,1254.4 L1048.4,1252.5 L1050.0,1250.6 L1051.6,1248.7 L1053.2,1246.8 L1054.8,1244.9 L1056.4,1243.0 L1057.9,1241.1 L1059.5,1239.2 L1061.1,1237.2 L1062.6,1235.3 L1064.2,1233.3 L1065.7,1231.4 L1067.2,1229.4 L1068.8,1227.4 L1070.3,1225.5 L1071.8,1223.5 L1073.3,1221.5 L1074.8,1219.5 L1076.3,1217.5 L1077.7,1215.5 L1079.2,1213.5 L1080.7,1211.5 L1082.2,1209.4 L1083.6,1207.4 L1085.1,1205.4 L1086.5,1203.3 L1088.0,1201.3 L1089.4,1199.3 L1090.8,1197.2 L1092.2,1195.2 L1093.7,1193.1 L1095.1,1191.0 L1096.5,1189.0 L1097.9,1186.9 L1099.3,1184.8 L1100.7,1182.8 L1102.1,1180.7 L1103.5,1178.6 L1104.9,1176.5 L1106.3,1174.5 L1107.7,1172.4 L1109.1,1170.3 L1110.4,1168.2 L1111.8,1166.1 L1113.2,1164.0 L1114.6,1161.9 L1115.9,1159.8 L1117.3,1157.7 L1118.7,1155.6 L1120.0,1153.5 L1121.4,1151.4 L1122.7,1149.3 L1124.1,1147.2 L1125.5,1145.1 L1126.8,1143.0 L1128.2,1140.9 L1129.5,1138.8 L1130.9,1136.7 L1132.2,1134.6 L1133.6,1132.4 L1135.0,1130.3 L1136.3,1128.2 L1137.7,1126.1 L1139.0,1124.0 L1140.4,1121.9 L1141.7,1119.8 L1143.1,1117.7 L1144.5,1115.6 L1145.8,1113.5 L1147.2,1111.4 L1148.6,1109.3 L1149.9,1107.2 L1151.3,1105.1 L1152.7,1103.0 L1154.0,1101.0 L1155.4,1098.9 L1156.8,1096.8 L1158.2,1094.7 L1159.6,1092.6 L1161.0,1090.5 L1162.3,1088.5 L1163.7,1086.4 L1165.1,1084.3 L1166.5,1082.3 L1167.9,1080.2 L1169.3,1078.1 L1170.7,1076.1 L1172.2,1074.0 L1173.6,1072.0 L1175.0,1069.9 L1176.4,1067.9 L1177.8,1065.8 L1179.3,1063.8 L1180.7,1061.8 L1182.2,1059.7 L1183.6,1057.7 L1185.0,1055.7 L1186.5,1053.6 L1188.0,1051.6 L1189.4,1049.6 L1190.9,1047.6 L1192.4,1045.6 L1193.9,1043.6 L1195.3,1041.6 L1196.8,1039.6 L1198.3,1037.6 L1199.8,1035.6 L1201.3,1033.6 L1202.8,1031.6 L1204.4,1029.6 L1205.9,1027.6 L1207.4,1025.7 L1209.0,1023.7 L1210.5,1021.7 L1212.0,1019.8 L1213.6,1017.8 L1215.1,1015.8 L1216.7,1013.9 L1218.3,1011.9 L1219.8,1010.0 L1221.4,1008.0 L1223.0,1006.1 L1224.5,1004.1 L1226.1,1002.2 L1227.7,1000.3 L1229.3,998.3 L1230.9,996.4 L1232.4,994.4 L1234.0,992.5 L1235.6,990.6 L1237.2,988.6 L1238.8,986.7 L1240.4,984.8 L1242.0,982.8 L1243.6,980.9 L1245.2,979.0 L1246.7,977.0 L1248.3,975.1 L1249.9,973.1 L1251.5,971.2 L1253.1,969.3 L1254.7,967.3 L1256.3,965.4 L1257.8,963.5 L1259.4,961.5 L1261.0,959.6 L1262.6,957.6 L1264.1,955.7 L1265.7,953.7 L1267.2,951.8 L1268.8,949.8 L1270.4,947.8 L1271.9,945.9 L1273.5,943.9 L1275.0,941.9 L1276.5,940.0 L1278.1,938.0 L1279.6,936.0 L1281.1,934.0 L1282.6,932.0 L1284.1,930.1 L1285.6,928.1 L1287.1,926.1 L1288.6,924.1 L1290.1,922.0 L1291.6,920.0 L1293.0,918.0 L1294.5,916.0 L1296.0,914.0 L1297.4,911.9 L1298.8,909.9 L1300.3,907.8 L1301.7,905.8 L1303.1,903.7 L1304.5,901.7 L1305.9,899.6 L1307.3,897.5 L1308.7,895.5 L1310.0,893.4 L1311.4,891.3 L1312.7,889.2 L1314.1,887.1 L1315.4,885.0 L1316.7,882.9 L1318.1,880.8 L1319.4,878.6 L1320.7,876.5 L1321.9,874.4 L1323.2,872.2 L1324.5,870.1 L1325.7,867.9 L1327.0,865.8 L1328.2,863.6 L1329.4,861.5 L1330.7,859.3 L1331.9,857.1 L1333.1,854.9 L1334.2,852.7 L1335.4,850.5 L1336.6,848.3 L1337.7,846.1 L1338.9,843.9 L1340.0,841.7 L1341.1,839.4 L1342.2,837.2 L1343.3,835.0 L1344.4,832.7 L1345.5,830.5 L1346.5,828.2 L1347.6,825.9 L1348.6,823.7 L1349.6,821.4 L1350.7,819.1 L1351.7,816.8 L1352.6,814.5 L1353.6,812.2 L1354.6,809.9 L1355.5,807.6 L1356.5,805.3 L1357.4,802.9 L1358.3,800.6 L1359.2,798.2 L1360.1,795.9 L1360.9,793.5 L1361.8,791.2 L1362.6,788.8 L1363.5,786.4 L1364.3,784.0 L1365.1,781.6 L1365.9,779.2 L1366.7,776.9 L1367.5,774.5 L1368.3,772.1 L1369.1,769.7 L1369.9,767.3 L1370.7,764.9 L1371.5,762.5 L1372.2,760.1 L1373.0,757.7 L1373.9,755.3 L1374.7,752.9 L1375.5,750.6 L1376.3,748.2 L1377.2,745.8 L1378.0,743.5 L1378.9,741.1 L1379.8,738.8 L1380.7,736.5 L1381.6,734.2 L1382.6,731.9 L1383.6,729.6 L1384.5,727.3 L1385.6,725.1 L1386.6,722.8 L1387.7,720.6 L1388.8,718.4 L1389.9,716.2 L1391.0,714.0 L1392.1,711.8 L1393.3,709.6 L1394.5,707.5 L1395.7,705.3 L1396.9,703.2 L1398.1,701.0 L1399.3,698.9 L1400.6,696.7 L1401.8,694.6 L1403.1,692.5 L1404.3,690.3 L1405.6,688.2 L1406.8,686.1 L1408.1,683.9 L1409.4,681.8 L1410.6,679.7 L1411.9,677.5 L1413.1,675.4 L1414.4,673.2 L1415.6,671.1 L1416.8,668.9 L1418.1,666.7 L1419.3,664.5 L1420.5,662.3 L1421.7,660.1 L1422.8,657.9 L1424.0,655.7 L1425.1,653.4 L1426.2,651.2 L1427.3,648.9 L1428.4,646.6 L1429.5,644.3 L1430.5,642.0 L1431.5,639.7 L1432.6,637.3 L1433.6,635.0 L1434.6,632.6 L1435.6,630.3 L1436.5,627.9 L1437.5,625.5 L1438.5,623.2 L1439.5,620.8 L1440.5,618.4 L1441.5,616.1 L1442.5,613.7 L1443.5,611.4 L1444.5,609.0 L1445.5,606.7 L1446.5,604.3 L1447.6,602.0 L1448.6,599.7 L1449.7,597.4 L1450.8,595.1 L1451.9,592.8 L1453.1,590.6 L1454.3,588.3 L1455.5,586.1 L1456.7,583.9 L1457.9,581.7 L1459.2,579.6 L1460.6,577.4 L1461.9,575.3 L1463.3,573.2 L1464.8,571.2 L1466.2,569.2 L1467.8,567.2 L1469.3,565.2 L1470.9,563.3 L1472.6,561.4 L1474.3,559.5 L1476.1,557.7 L1477.9,555.9 L1479.8,554.2 L1481.7,552.5 L1483.7,550.9 L1485.7,549.3 L1487.7,547.8 L1489.8,546.4 L1491.9,545.1 L1494.0,543.9 L1496.1,542.8 L1498.3,541.8 L1500.5,541.0 L1502.7,540.3 L1504.8,539.7 L1507.0,539.3 L1509.2,539.0 L1511.4,538.9 L1513.5,539.0 L1515.6,539.2 L1517.7,539.6 L1519.8,540.2 L1521.8,540.9 L1523.8,541.7 L1525.7,542.7 L1527.6,543.8 L1529.4,545.1 L1531.1,546.4 L1532.8,547.9 L1534.5,549.5 L1536.1,551.2 L1537.7,553.0 L1539.2,554.9 L1540.7,556.9 L1542.1,559.0 L1543.5,561.1 L1544.9,563.3 L1546.2,565.6 L1547.5,567.9 L1548.8,570.3 L1550.0,572.7 L1551.2,575.2 L1552.3,577.6 L1553.4,580.2 L1554.5,582.7 L1555.6,585.3 L1556.6,587.8 L1557.6,590.4 L1558.6,592.9 L1559.5,595.5 L1560.5,598.0 L1561.4,600.5 L1562.3,603.1 L1563.1,605.6 L1564.0,608.0 L1564.8,610.5 L1565.6,613.0 L1566.4,615.4 L1567.1,617.9 L1567.9,620.3 L1568.6,622.8 L1569.3,625.2 L1570.0,627.6 L1570.7,630.0 L1571.4,632.4 L1572.1,634.8 L1572.7,637.2 L1573.4,639.6 L1574.0,642.0 L1574.6,644.4 L1575.2,646.8 L1575.8,649.1 L1576.4,651.5 L1577.0,653.9 L1577.6,656.3 L1578.2,658.7 L1578.8,661.0 L1579.4,663.4 L1580.0,665.8 L1580.5,668.2 L1581.1,670.6 L1581.7,673.0 L1582.3,675.3 L1582.8,677.7 L1583.4,680.1 L1583.9,682.5 L1584.5,684.9 L1585.1,687.3 L1585.6,689.7 L1586.2,692.1 L1586.7,694.5 L1587.3,696.9 L1587.8,699.3 L1588.4,701.7 L1588.9,704.1 L1589.5,706.5 L1590.0,708.9 L1590.5,711.3 L1591.1,713.7 L1591.6,716.1 L1592.1,718.5 L1592.7,721.0 L1593.2,723.4 L1593.7,725.8 L1594.2,728.2 L1594.8,730.6 L1595.3,733.0 L1595.8,735.4 L1596.3,737.9 L1596.8,740.3 L1597.3,742.7 L1597.9,745.1 L1598.4,747.5 L1598.9,750.0 L1599.4,752.4 L1599.9,754.8 L1600.4,757.2 L1600.9,759.7 L1601.4,762.1 L1601.9,764.5 L1602.4,767.0 L1602.9,769.4 L1603.4,771.8 L1603.9,774.3 L1604.4,776.7 L1604.9,779.1 L1605.4,781.6 L1605.8,784.0 L1606.3,786.4 L1606.8,788.9 L1607.3,791.3 L1607.8,793.8 L1608.3,796.2 L1608.8,798.6 L1609.2,801.1 L1609.7,803.5 L1610.2,806.0 L1610.7,808.4 L1611.2,810.8 L1611.6,813.3 L1612.1,815.7 L1612.6,818.2 L1613.1,820.6 L1613.5,823.1 L1614.0,825.5 L1614.5,828.0 L1615.0,830.4 L1615.4,832.9 L1615.9,835.3 L1616.4,837.8 L1616.8,840.2 L1617.3,842.7 L1617.8,845.1 L1618.3,847.6 L1618.7,850.0 L1619.2,852.5 L1619.7,854.9 L1620.1,857.4 L1620.6,859.9 L1621.0,862.3 L1621.5,864.8 L1622.0,867.2 L1622.4,869.7 L1622.9,872.1 L1623.4,874.6 L1623.8,877.1 L1624.3,879.5 L1624.8,882.0 L1625.2,884.4 L1625.7,886.9 L1626.2,889.4 L1626.6,891.8 L1627.1,894.3 L1627.5,896.7 L1628.0,899.2 L1628.5,901.7 L1628.9,904.1 L1629.4,906.6 L1629.9,909.0 L1630.3,911.5 L1630.8,914.0 L1631.2,916.4 L1631.7,918.9 L1632.2,921.4 L1632.6,923.8 L1633.1,926.3 L1633.6,928.8 L1634.0,931.2 L1634.5,933.7 L1635.0,936.1 L1635.4,938.6 L1635.9,941.1 L1636.4,943.5 L1636.8,946.0 L1637.3,948.5 L1637.8,950.9 L1638.2,953.4 L1638.7,955.9 L1639.2,958.3 L1639.7,960.8 L1640.1,963.2 L1640.6,965.7 L1641.1,968.2 L1641.6,970.6 L1642.0,973.1 L1642.5,975.6 L1643.0,978.0 L1643.5,980.5 L1643.9,983.0 L1644.4,985.4 L1644.9,987.9 L1645.4,990.3 L1645.9,992.8 L1646.4,995.3 L1646.8,997.7 L1647.3,1000.2 L1647.8,1002.7 L1648.3,1005.1 L1648.8,1007.6 L1649.3,1010.0 L1649.8,1012.5 L1650.3,1015.0 L1650.8,1017.4 L1651.3,1019.9 L1651.8,1022.3 L1652.3,1024.8 L1652.8,1027.3 L1653.3,1029.7 L1653.8,1032.2 L1654.3,1034.6 L1654.8,1037.1 L1655.3,1039.5 L1655.8,1042.0 L1656.3,1044.5 L1656.8,1046.9 L1657.3,1049.4 L1657.8,1051.8 L1658.4,1054.3 L1658.9,1056.7 L1659.4,1059.2 L1659.9,1061.6 L1660.4,1064.1 L1661.0,1066.5 L1661.5,1069.0 L1662.0,1071.4 L1662.6,1073.9 L1663.1,1076.3 L1663.6,1078.8 L1664.2,1081.2 L1664.7,1083.7 L1665.2,1086.1 L1665.8,1088.6 L1666.3,1091.0 L1666.9,1093.5 L1667.4,1095.9 L1668.0,1098.4 L1668.5,1100.8 L1669.1,1103.2 L1669.6,1105.7 L1670.2,1108.1 L1670.8,1110.6 L1671.3,1113.0 L1671.9,1115.4 L1672.5,1117.9 L1673.0,1120.3 L1673.6,1122.8 L1674.2,1125.2 L1674.8,1127.6 L1675.4,1130.1 L1675.9,1132.5 L1676.5,1134.9 L1677.1,1137.3 L1677.7,1139.8 L1678.3,1142.2 L1678.9,1144.6 L1679.5,1147.1 L1680.1,1149.5 L1680.7,1151.9 L1681.3,1154.3 L1681.9,1156.8 L1682.5,1159.2 L1683.1,1161.6 L1683.8,1164.0 L1684.4,1166.4 L1685.0,1168.9 L1685.6,1171.3 L1686.3,1173.7 L1686.9,1176.1 L1687.5,1178.5 L1688.2,1180.9 L1688.8,1183.4 L1689.5,1185.8 L1690.1,1188.2 L1690.8,1190.6 L1691.4,1193.0 L1692.1,1195.4 L1692.7,1197.8 L1693.4,1200.2 L1694.1,1202.6 L1694.8,1205.0 L1695.4,1207.4 L1696.1,1209.8 L1696.8,1212.2 L1697.5,1214.6 L1698.2,1217.0 L1698.9,1219.4 L1699.6,1221.8 L1700.3,1224.2 L1701.0,1226.5 L1701.7,1228.9 L1702.5,1231.3 L1703.2,1233.7 L1703.9,1236.1 L1704.7,1238.4 L1705.4,1240.8 L1706.2,1243.2 L1706.9,1245.6 L1707.7,1247.9 L1708.5,1250.3 L1709.2,1252.7 L1710.0,1255.0 L1710.8,1257.4 L1711.6,1259.7 L1712.4,1262.1 L1713.2,1264.5 L1714.0,1266.8 L1714.8,1269.2 L1715.6,1271.5 L1716.5,1273.9 L1717.3,1276.2 L1718.1,1278.5 L1719.0,1280.9 L1719.9,1283.2 L1720.7,1285.5 L1721.6,1287.9 L1722.5,1290.2 L1723.4,1292.5 L1724.3,1294.8 L1725.2,1297.2 L1726.1,1299.5 L1727.0,1301.8 L1727.9,1304.1 L1728.8,1306.4 L1729.8,1308.7 L1730.7,1311.0 L1731.7,1313.3 L1732.7,1315.6 L1733.6,1317.9 L1734.6,1320.2 L1735.6,1322.5 L1736.6,1324.8 L1737.6,1327.1 L1738.7,1329.3 L1739.7,1331.6 L1740.7,1333.9 L1741.8,1336.2 L1742.8,1338.4 L1743.9,1340.7 L1745.0,1342.9 L1746.1,1345.2 L1747.1,1347.4 L1748.3,1349.7 L1749.4,1351.9 L1750.5,1354.2 L1751.6,1356.4 L1752.8,1358.7 L1753.9,1360.9 L1755.1,1363.1 L1756.3,1365.3 L1757.5,1367.6 L1758.7,1369.8 L1759.9,1372.0 L1761.1,1374.2 L1762.3,1376.4 L1763.6,1378.6 L1764.8,1380.8 L1766.1,1383.0 L1767.3,1385.2 L1768.6,1387.4 L1769.9,1389.5 L1771.2,1391.7 L1772.6,1393.8 L1773.9,1396.0 L1775.3,1398.1 L1776.7,1400.2 L1778.1,1402.3 L1779.5,1404.4 L1781.0,1406.4 L1782.4,1408.5 L1783.9,1410.5 L1785.4,1412.5 L1787.0,1414.4 L1788.5,1416.4 L1790.1,1418.3 L1791.7,1420.2 L1793.4,1422.0 L1795.1,1423.8 L1796.8,1425.6 L1798.5,1427.3 L1800.3,1429.0 L1802.1,1430.7 L1803.9,1432.3 L1805.8,1433.9 L1807.7,1435.4 L1809.7,1436.9 L1811.7,1438.3 L1813.7,1439.7 L1815.7,1441.1 L1817.8,1442.3 L1820.0,1443.6 L1822.1,1444.8 L1824.3,1446.0 L1826.6,1447.1 L1828.8,1448.2 L1831.1,1449.2 L1833.4,1450.2 L1835.7,1451.2 L1838.1,1452.2 L1840.4,1453.1 L1842.8,1454.0 L1845.2,1454.8 L1847.6,1455.7 L1850.0,1456.5 L1852.4,1457.3 L1854.8,1458.1 L1857.2,1458.9 L1859.6,1459.6 L1862.0,1460.3 L1864.4,1461.1 L1866.9,1461.8 L1869.3,1462.5 L1871.7,1463.1 L1874.1,1463.8 L1876.6,1464.4 L1879.0,1465.1 L1881.4,1465.7 L1883.9,1466.3 L1886.3,1466.8 L1888.7,1467.4 L1891.2,1468.0 L1893.6,1468.5 L1896.1,1469.0 L1898.5,1469.5 L1901.0,1470.0 L1903.4,1470.5 L1905.9,1471.0 L1908.3,1471.5 L1910.8,1471.9 L1913.2,1472.3 L1915.7,1472.8 L1918.1,1473.2 L1920.6,1473.6 L1923.1,1474.0 L1925.5,1474.3 L1928.0,1474.7 L1930.5,1475.1 L1932.9,1475.4 L1935.4,1475.7 L1937.9,1476.1 L1940.3,1476.4 L1942.8,1476.7 L1945.3,1477.0 L1947.8,1477.2 L1950.2,1477.5 L1952.7,1477.8 L1955.2,1478.0 L1957.7,1478.3 L1960.2,1478.5 L1962.6,1478.7 L1965.1,1479.0 L1967.6,1479.2 L1970.1,1479.4 L1972.6,1479.6 L1975.1,1479.8 L1977.6,1479.9 L1980.1,1480.1 L1982.5,1480.3 L1985.0,1480.4 L1987.5,1480.6 L1990.0,1480.7 L1992.5,1480.9 L1995.0,1481.0 L1997.5,1481.1 L2000.0,1481.2 L2002.5,1481.3 L2005.0,1481.5 L2007.5,1481.6 L2010.0,1481.7 L2012.5,1481.7 L2015.0,1481.8 L2017.5,1481.9 L2020.0,1482.0 L2022.5,1482.1 L2025.0,1482.1 L2027.5,1482.2 L2030.0,1482.3 L2032.5,1482.3 L2035.0,1482.4 L2037.5,1482.4 L2040.0,1482.5 L2042.5,1482.5 L2045.0,1482.6 L2047.5,1482.6 L2050.0,1482.7 L2052.5,1482.7 L2055.0,1482.7 L2057.5,1482.8 L2060.0,1482.8 L2062.5,1482.8 L2065.0,1482.9 L2067.5,1482.9 L2070.0,1482.9 L2072.5,1483.0 L2075.0,1483.0 L2077.5,1483.0 L2080.0,1483.0 L2082.5,1483.0 L2085.0,1483.1 L2087.5,1483.1 L2090.0,1483.1 L2092.5,1483.1 L2095.0,1483.2 L2097.5,1483.2 L2100.0,1483.2 L2102.5,1483.2 L2105.0,1483.2 L2107.5,1483.3 L2110.1,1483.3 L2112.6,1483.3 L2115.1,1483.3 L2117.6,1483.3 L2120.1,1483.4 L2122.6,1483.4 L2125.1,1483.4 L2127.6,1483.5 L2130.1,1483.5 L2132.6,1483.5 L2135.1,1483.6 L2137.6,1483.6 L2140.1,1483.6 L2142.6,1483.6 L2145.1,1483.7 L2147.6,1483.7 L2150.1,1483.8 L2152.6,1483.8 L2155.1,1483.8 L2157.6,1483.9 L2160.0,1483.9 L2162.5,1483.9 L2165.0,1484.0 L2167.5,1484.0 L2170.0,1484.1 L2172.5,1484.1 L2175.0,1484.1 L2177.5,1484.2 L2180.0,1484.2 L2182.5,1484.3 L2185.0,1484.3 L2187.5,1484.3 L2190.0,1484.4 L2192.5,1484.4 L2195.0,1484.5 L2197.5,1484.5 L2200.0,1484.6 L2202.5,1484.6 L2205.0,1484.6 L2207.5,1484.7 L2210.0,1484.7 L2212.5,1484.8 L2215.0,1484.8 L2217.5,1484.9 L2220.0,1484.9 L2222.5,1484.9 L2225.0,1485.0 L2227.5,1485.0 L2230.0,1485.1 L2232.5,1485.1 L2235.0,1485.2 L2237.5,1485.2 L2240.0,1485.2 L2242.5,1485.3 L2245.0,1485.3 L2247.5,1485.4 L2250.0,1485.4 L2252.5,1485.4 L2255.0,1485.5 L2257.5,1485.5 L2260.0,1485.5 L2262.5,1485.6 L2265.0,1485.6 L2267.5,1485.6 L2270.0,1485.7 L2272.5,1485.7 L2275.0,1485.7 L2277.5,1485.8 L2280.0,1485.8 L2282.5,1485.8 L2285.0,1485.9 L2287.5,1485.9 L2290.0,1485.9 L2292.5,1485.9 L2295.0,1486.0 L2297.5,1486.0 L2300.0,1486.0 L2302.5,1486.0 L2305.0,1486.1" fill="none" stroke="#1a9090" stroke-width="2.5" stroke-linejoin="round"/>
<path d="M306.5,1458.5 L309.0,1458.5 L311.5,1458.4 L314.0,1458.4 L316.5,1458.4 L319.0,1458.3 L321.5,1458.3 L324.0,1458.3 L326.5,1458.3 L329.0,1458.4 L331.5,1458.4 L334.0,1458.4 L336.5,1458.4 L339.0,1458.5 L341.5,1458.5 L343.9,1458.6 L346.4,1458.7 L348.9,1458.7 L351.4,1458.8 L353.9,1458.9 L356.4,1459.0 L358.9,1459.1 L361.4,1459.2 L363.9,1459.3 L366.4,1459.5 L368.9,1459.6 L371.4,1459.7 L373.9,1459.8 L376.4,1460.0 L378.9,1460.1 L381.4,1460.3 L383.9,1460.4 L386.4,1460.6 L388.9,1460.8 L391.4,1461.0 L393.9,1461.1 L396.3,1461.3 L398.8,1461.5 L401.3,1461.7 L403.8,1461.9 L406.3,1462.1 L408.8,1462.3 L411.3,1462.5 L413.8,1462.7 L416.3,1462.9 L418.8,1463.1 L421.3,1463.3 L423.8,1463.6 L426.3,1463.8 L428.8,1464.0 L431.3,1464.2 L433.8,1464.5 L436.3,1464.7 L438.7,1464.9 L441.2,1465.2 L443.7,1465.4 L446.2,1465.7 L448.7,1465.9 L451.2,1466.1 L453.7,1466.4 L456.2,1466.6 L458.7,1466.9 L461.2,1467.1 L463.7,1467.4 L466.2,1467.6 L468.7,1467.9 L471.2,1468.1 L473.7,1468.4 L476.1,1468.6 L478.6,1468.9 L481.1,1469.1 L483.6,1469.4 L486.1,1469.6 L488.6,1469.9 L491.1,1470.1 L493.6,1470.4 L496.1,1470.6 L498.6,1470.9 L501.1,1471.1 L503.6,1471.4 L506.1,1471.6 L508.5,1471.9 L511.0,1472.1 L513.5,1472.3 L516.0,1472.6 L518.5,1472.8 L521.0,1473.0 L523.5,1473.3 L526.0,1473.5 L528.5,1473.7 L531.0,1473.9 L533.5,1474.2 L536.0,1474.4 L538.4,1474.6 L540.9,1474.8 L543.4,1475.0 L545.9,1475.2 L548.4,1475.4 L550.9,1475.6 L553.4,1475.8 L555.9,1476.0 L558.4,1476.1 L560.9,1476.3 L563.4,1476.5 L565.8,1476.6 L568.3,1476.8 L570.8,1477.0 L573.3,1477.1 L575.8,1477.3 L578.3,1477.4 L580.8,1477.5 L583.3,1477.7 L585.8,1477.8 L588.3,1477.9 L590.8,1478.0 L593.2,1478.1 L595.7,1478.2 L598.2,1478.3 L600.7,1478.4 L603.2,1478.5 L605.7,1478.6 L608.2,1478.6 L610.7,1478.7 L613.2,1478.7 L615.7,1478.8 L618.1,1478.8 L620.6,1478.8 L623.1,1478.9 L625.6,1478.9 L628.1,1478.9 L630.6,1478.9 L633.1,1478.9 L635.6,1478.8 L638.1,1478.8 L640.6,1478.8 L643.0,1478.7 L645.5,1478.7 L648.0,1478.6 L650.5,1478.5 L653.0,1478.4 L655.5,1478.3 L658.0,1478.2 L660.5,1478.1 L663.0,1478.0 L665.5,1477.9 L667.9,1477.7 L670.4,1477.6 L672.9,1477.4 L675.4,1477.2 L677.9,1477.0 L680.4,1476.8 L682.9,1476.6 L685.4,1476.4 L687.9,1476.2 L690.4,1476.0 L692.8,1475.7 L695.3,1475.4 L697.8,1475.2 L700.3,1474.9 L702.8,1474.6 L705.3,1474.3 L707.8,1473.9 L710.3,1473.6 L712.7,1473.3 L715.2,1472.9 L717.7,1472.5 L720.2,1472.2 L722.7,1471.8 L725.1,1471.4 L727.6,1471.0 L730.1,1470.5 L732.6,1470.1 L735.0,1469.7 L737.5,1469.2 L740.0,1468.7 L742.4,1468.3 L744.9,1467.8 L747.3,1467.3 L749.8,1466.8 L752.3,1466.2 L754.7,1465.7 L757.2,1465.1 L759.6,1464.6 L762.0,1464.0 L764.5,1463.4 L766.9,1462.9 L769.3,1462.2 L771.8,1461.6 L774.2,1461.0 L776.6,1460.4 L779.0,1459.7 L781.4,1459.1 L783.9,1458.4 L786.3,1457.7 L788.7,1457.0 L791.1,1456.3 L793.5,1455.6 L795.8,1454.9 L798.2,1454.1 L800.6,1453.4 L803.0,1452.6 L805.3,1451.9 L807.7,1451.1 L810.1,1450.3 L812.4,1449.5 L814.8,1448.7 L817.1,1447.8 L819.4,1447.0 L821.8,1446.1 L824.1,1445.3 L826.4,1444.4 L828.7,1443.5 L831.1,1442.7 L833.4,1441.8 L835.7,1440.9 L838.0,1440.0 L840.3,1439.0 L842.6,1438.1 L844.9,1437.2 L847.2,1436.2 L849.5,1435.3 L851.8,1434.4 L854.1,1433.4 L856.4,1432.5 L858.6,1431.5 L860.9,1430.5 L863.2,1429.6 L865.5,1428.6 L867.8,1427.6 L870.1,1426.6 L872.4,1425.7 L874.7,1424.7 L876.9,1423.7 L879.2,1422.7 L881.5,1421.8 L883.8,1420.8 L886.1,1419.8 L888.4,1418.8 L890.7,1417.8 L893.0,1416.9 L895.3,1415.9 L897.7,1414.9 L900.0,1414.0 L902.3,1413.0 L904.6,1412.0 L906.9,1411.1 L909.3,1410.1 L911.6,1409.2 L913.9,1408.2 L916.3,1407.2 L918.6,1406.3 L920.9,1405.3 L923.2,1404.3 L925.6,1403.4 L927.9,1402.4 L930.2,1401.4 L932.5,1400.4 L934.8,1399.4 L937.1,1398.4 L939.4,1397.3 L941.7,1396.3 L943.9,1395.2 L946.2,1394.1 L948.4,1393.0 L950.7,1391.9 L952.9,1390.8 L955.1,1389.7 L957.3,1388.5 L959.5,1387.3 L961.7,1386.1 L963.8,1384.9 L966.0,1383.6 L968.1,1382.4 L970.2,1381.1 L972.3,1379.8 L974.4,1378.5 L976.5,1377.1 L978.6,1375.8 L980.6,1374.4 L982.6,1373.0 L984.7,1371.6 L986.7,1370.1 L988.7,1368.7 L990.7,1367.2 L992.6,1365.7 L994.6,1364.2 L996.5,1362.7 L998.5,1361.2 L1000.4,1359.6 L1002.3,1358.0 L1004.2,1356.4 L1006.1,1354.8 L1007.9,1353.2 L1009.8,1351.6 L1011.6,1349.9 L1013.5,1348.3 L1015.3,1346.6 L1017.1,1344.9 L1018.9,1343.2 L1020.7,1341.5 L1022.5,1339.7 L1024.2,1338.0 L1026.0,1336.2 L1027.7,1334.5 L1029.5,1332.7 L1031.2,1330.9 L1032.9,1329.1 L1034.6,1327.2 L1036.3,1325.4 L1038.0,1323.6 L1039.6,1321.7 L1041.3,1319.8 L1043.0,1318.0 L1044.6,1316.1 L1046.2,1314.2 L1047.8,1312.2 L1049.5,1310.3 L1051.1,1308.4 L1052.6,1306.5 L1054.2,1304.5 L1055.8,1302.5 L1057.4,1300.6 L1058.9,1298.6 L1060.5,1296.6 L1062.0,1294.6 L1063.5,1292.6 L1065.0,1290.6 L1066.6,1288.6 L1068.1,1286.6 L1069.6,1284.5 L1071.0,1282.5 L1072.5,1280.4 L1074.0,1278.4 L1075.4,1276.3 L1076.9,1274.3 L1078.3,1272.2 L1079.8,1270.1 L1081.2,1268.0 L1082.6,1265.9 L1084.0,1263.9 L1085.4,1261.8 L1086.8,1259.7 L1088.2,1257.6 L1089.6,1255.4 L1091.0,1253.3 L1092.4,1251.2 L1093.7,1249.1 L1095.1,1247.0 L1096.4,1244.9 L1097.8,1242.7 L1099.1,1240.6 L1100.5,1238.5 L1101.8,1236.3 L1103.1,1234.2 L1104.4,1232.1 L1105.7,1229.9 L1107.0,1227.8 L1108.3,1225.6 L1109.6,1223.5 L1110.9,1221.4 L1112.2,1219.2 L1113.5,1217.1 L1114.7,1214.9 L1116.0,1212.8 L1117.2,1210.7 L1118.5,1208.5 L1119.7,1206.4 L1121.0,1204.3 L1122.2,1202.1 L1123.5,1200.0 L1124.7,1197.9 L1125.9,1195.7 L1127.1,1193.6 L1128.4,1191.5 L1129.6,1189.3 L1130.8,1187.2 L1132.0,1185.1 L1133.2,1182.9 L1134.4,1180.8 L1135.5,1178.7 L1136.7,1176.5 L1137.9,1174.4 L1139.0,1172.2 L1140.2,1170.1 L1141.4,1167.9 L1142.5,1165.7 L1143.6,1163.5 L1144.8,1161.4 L1145.9,1159.2 L1147.0,1157.0 L1148.1,1154.7 L1149.2,1152.5 L1150.3,1150.3 L1151.4,1148.0 L1152.4,1145.8 L1153.5,1143.5 L1154.5,1141.2 L1155.6,1138.9 L1156.6,1136.6 L1157.7,1134.3 L1158.7,1132.0 L1159.8,1129.7 L1160.8,1127.4 L1161.8,1125.1 L1162.9,1122.8 L1163.9,1120.5 L1165.0,1118.2 L1166.1,1115.9 L1167.2,1113.6 L1168.3,1111.3 L1169.4,1109.1 L1170.5,1106.8 L1171.7,1104.6 L1172.8,1102.4 L1174.0,1100.2 L1175.2,1098.0 L1176.4,1095.8 L1177.6,1093.6 L1178.8,1091.4 L1180.0,1089.3 L1181.3,1087.1 L1182.5,1085.0 L1183.8,1082.9 L1185.1,1080.7 L1186.4,1078.6 L1187.7,1076.5 L1189.0,1074.4 L1190.3,1072.3 L1191.6,1070.2 L1193.0,1068.1 L1194.3,1066.0 L1195.7,1063.9 L1197.0,1061.8 L1198.4,1059.8 L1199.8,1057.7 L1201.2,1055.6 L1202.6,1053.6 L1204.0,1051.5 L1205.4,1049.5 L1206.8,1047.4 L1208.3,1045.4 L1209.7,1043.4 L1211.2,1041.3 L1212.6,1039.3 L1214.1,1037.3 L1215.5,1035.3 L1217.0,1033.2 L1218.5,1031.2 L1219.9,1029.2 L1221.4,1027.2 L1222.9,1025.2 L1224.4,1023.2 L1225.9,1021.2 L1227.4,1019.2 L1228.9,1017.2 L1230.4,1015.2 L1231.9,1013.2 L1233.5,1011.2 L1235.0,1009.2 L1236.5,1007.2 L1238.0,1005.2 L1239.5,1003.3 L1241.1,1001.3 L1242.6,999.3 L1244.1,997.3 L1245.7,995.3 L1247.2,993.4 L1248.8,991.4 L1250.3,989.4 L1251.8,987.4 L1253.4,985.4 L1254.9,983.5 L1256.4,981.5 L1258.0,979.5 L1259.5,977.5 L1261.1,975.5 L1262.6,973.6 L1264.1,971.6 L1265.7,969.6 L1267.2,967.6 L1268.7,965.6 L1270.2,963.7 L1271.8,961.7 L1273.3,959.7 L1274.8,957.7 L1276.3,955.7 L1277.8,953.7 L1279.4,951.7 L1280.9,949.7 L1282.4,947.7 L1283.9,945.7 L1285.4,943.7 L1286.9,941.7 L1288.3,939.7 L1289.8,937.7 L1291.3,935.7 L1292.8,933.7 L1294.2,931.6 L1295.7,929.6 L1297.1,927.6 L1298.6,925.6 L1300.0,923.5 L1301.4,921.5 L1302.9,919.4 L1304.3,917.4 L1305.7,915.3 L1307.1,913.3 L1308.5,911.2 L1309.9,909.2 L1311.3,907.1 L1312.6,905.0 L1314.0,902.9 L1315.3,900.9 L1316.7,898.8 L1318.0,896.7 L1319.3,894.6 L1320.6,892.5 L1322.0,890.4 L1323.2,888.2 L1324.5,886.1 L1325.8,884.0 L1327.1,881.8 L1328.3,879.7 L1329.5,877.6 L1330.8,875.4 L1332.0,873.2 L1333.2,871.1 L1334.4,868.9 L1335.5,866.7 L1336.7,864.5 L1337.9,862.3 L1339.0,860.1 L1340.1,857.9 L1341.2,855.7 L1342.3,853.5 L1343.4,851.2 L1344.5,849.0 L1345.6,846.8 L1346.7,844.5 L1347.7,842.3 L1348.8,840.0 L1349.8,837.7 L1350.8,835.5 L1351.8,833.2 L1352.8,830.9 L1353.8,828.6 L1354.8,826.3 L1355.8,824.0 L1356.8,821.7 L1357.7,819.4 L1358.7,817.1 L1359.6,814.8 L1360.6,812.5 L1361.5,810.2 L1362.4,807.9 L1363.3,805.5 L1364.2,803.2 L1365.1,800.9 L1366.0,798.5 L1366.9,796.2 L1367.8,793.8 L1368.7,791.5 L1369.5,789.1 L1370.4,786.8 L1371.3,784.4 L1372.1,782.1 L1373.0,779.7 L1373.8,777.3 L1374.6,775.0 L1375.5,772.6 L1376.3,770.2 L1377.1,767.8 L1378.0,765.5 L1378.8,763.1 L1379.6,760.7 L1380.4,758.3 L1381.2,755.9 L1382.0,753.6 L1382.8,751.2 L1383.6,748.8 L1384.4,746.4 L1385.2,744.0 L1386.0,741.6 L1386.8,739.2 L1387.6,736.8 L1388.4,734.5 L1389.1,732.1 L1389.9,729.7 L1390.7,727.3 L1391.5,724.9 L1392.3,722.5 L1393.1,720.1 L1393.9,717.7 L1394.6,715.3 L1395.4,713.0 L1396.2,710.6 L1397.0,708.2 L1397.8,705.8 L1398.6,703.4 L1399.3,701.0 L1400.1,698.6 L1400.9,696.3 L1401.7,693.9 L1402.5,691.5 L1403.3,689.1 L1404.1,686.8 L1404.9,684.4 L1405.7,682.0 L1406.5,679.7 L1407.3,677.3 L1408.1,674.9 L1409.0,672.6 L1409.8,670.2 L1410.6,667.9 L1411.4,665.5 L1412.3,663.2 L1413.1,660.9 L1414.0,658.5 L1414.8,656.2 L1415.7,653.8 L1416.5,651.5 L1417.4,649.2 L1418.2,646.9 L1419.1,644.6 L1420.0,642.2 L1420.9,639.9 L1421.7,637.6 L1422.6,635.3 L1423.5,633.0 L1424.4,630.7 L1425.3,628.4 L1426.2,626.1 L1427.1,623.8 L1428.0,621.5 L1428.9,619.2 L1429.9,616.9 L1430.8,614.6 L1431.7,612.3 L1432.6,610.0 L1433.6,607.7 L1434.5,605.4 L1435.4,603.2 L1436.4,600.9 L1437.3,598.6 L1438.3,596.3 L1439.2,594.0 L1440.2,591.7 L1441.1,589.4 L1442.1,587.1 L1443.0,584.8 L1444.0,582.5 L1444.9,580.3 L1445.9,578.0 L1446.9,575.7 L1447.8,573.4 L1448.8,571.1 L1449.8,568.8 L1450.7,566.5 L1451.7,564.2 L1452.7,561.9 L1453.7,559.6 L1454.6,557.3 L1455.6,554.9 L1456.6,552.6 L1457.6,550.3 L1458.5,548.0 L1459.5,545.7 L1460.5,543.4 L1461.5,541.0 L1462.5,538.7 L1463.5,536.4 L1464.4,534.0 L1465.4,531.7 L1466.4,529.4 L1467.4,527.0 L1468.4,524.7 L1469.4,522.3 L1470.4,519.9 L1471.3,517.6 L1472.3,515.2 L1473.3,512.8 L1474.3,510.5 L1475.3,508.1 L1476.3,505.7 L1477.2,503.3 L1478.2,500.9 L1479.3,498.6 L1480.3,496.2 L1481.4,493.9 L1482.5,491.6 L1483.6,489.4 L1484.8,487.2 L1486.1,485.0 L1487.3,482.9 L1488.7,480.8 L1490.1,478.8 L1491.6,476.9 L1493.2,475.0 L1494.8,473.2 L1496.5,471.5 L1498.3,469.9 L1500.3,468.4 L1502.3,467.0 L1504.4,465.7 L1506.6,464.5 L1508.8,463.5 L1511.1,462.7 L1513.4,462.2 L1515.7,461.9 L1517.9,462.0 L1520.2,462.3 L1522.3,462.9 L1524.5,463.7 L1526.6,464.7 L1528.6,465.9 L1530.6,467.4 L1532.5,468.9 L1534.4,470.7 L1536.1,472.5 L1537.9,474.5 L1539.5,476.5 L1541.0,478.6 L1542.5,480.8 L1543.8,483.0 L1545.1,485.2 L1546.3,487.4 L1547.5,489.7 L1548.6,492.0 L1549.6,494.3 L1550.6,496.6 L1551.6,499.0 L1552.5,501.3 L1553.5,503.7 L1554.4,506.0 L1555.3,508.4 L1556.2,510.7 L1557.0,513.1 L1557.9,515.5 L1558.8,517.8 L1559.6,520.2 L1560.5,522.6 L1561.3,524.9 L1562.1,527.3 L1562.9,529.7 L1563.7,532.1 L1564.5,534.4 L1565.3,536.8 L1566.0,539.2 L1566.8,541.6 L1567.5,544.0 L1568.3,546.4 L1569.0,548.8 L1569.7,551.2 L1570.4,553.6 L1571.1,556.0 L1571.8,558.4 L1572.5,560.8 L1573.2,563.2 L1573.9,565.6 L1574.5,568.0 L1575.2,570.4 L1575.8,572.8 L1576.5,575.2 L1577.1,577.6 L1577.8,580.0 L1578.4,582.4 L1579.0,584.9 L1579.6,587.3 L1580.2,589.7 L1580.8,592.1 L1581.4,594.5 L1582.0,597.0 L1582.6,599.4 L1583.2,601.8 L1583.8,604.2 L1584.3,606.7 L1584.9,609.1 L1585.5,611.5 L1586.0,613.9 L1586.6,616.4 L1587.1,618.8 L1587.7,621.2 L1588.2,623.7 L1588.8,626.1 L1589.3,628.5 L1589.8,631.0 L1590.4,633.4 L1590.9,635.9 L1591.4,638.3 L1592.0,640.7 L1592.5,643.2 L1593.0,645.6 L1593.5,648.0 L1594.0,650.5 L1594.6,652.9 L1595.1,655.4 L1595.6,657.8 L1596.1,660.3 L1596.6,662.7 L1597.1,665.1 L1597.6,667.6 L1598.1,670.0 L1598.6,672.5 L1599.1,674.9 L1599.6,677.4 L1600.1,679.8 L1600.6,682.3 L1601.1,684.7 L1601.5,687.2 L1602.0,689.6 L1602.5,692.1 L1603.0,694.5 L1603.5,697.0 L1604.0,699.4 L1604.4,701.9 L1604.9,704.3 L1605.4,706.8 L1605.8,709.2 L1606.3,711.7 L1606.8,714.1 L1607.2,716.6 L1607.7,719.0 L1608.2,721.5 L1608.6,723.9 L1609.1,726.4 L1609.6,728.8 L1610.0,731.3 L1610.5,733.8 L1610.9,736.2 L1611.4,738.7 L1611.8,741.1 L1612.3,743.6 L1612.7,746.0 L1613.2,748.5 L1613.6,751.0 L1614.1,753.4 L1614.5,755.9 L1614.9,758.3 L1615.4,760.8 L1615.8,763.3 L1616.3,765.7 L1616.7,768.2 L1617.1,770.6 L1617.6,773.1 L1618.0,775.6 L1618.4,778.0 L1618.9,780.5 L1619.3,783.0 L1619.7,785.4 L1620.2,787.9 L1620.6,790.3 L1621.0,792.8 L1621.4,795.3 L1621.9,797.7 L1622.3,800.2 L1622.7,802.7 L1623.1,805.1 L1623.6,807.6 L1624.0,810.1 L1624.4,812.5 L1624.8,815.0 L1625.3,817.5 L1625.7,819.9 L1626.1,822.4 L1626.5,824.9 L1626.9,827.3 L1627.3,829.8 L1627.8,832.3 L1628.2,834.7 L1628.6,837.2 L1629.0,839.7 L1629.4,842.1 L1629.8,844.6 L1630.2,847.1 L1630.7,849.5 L1631.1,852.0 L1631.5,854.5 L1631.9,856.9 L1632.3,859.4 L1632.7,861.9 L1633.1,864.3 L1633.5,866.8 L1634.0,869.3 L1634.4,871.7 L1634.8,874.2 L1635.2,876.7 L1635.6,879.1 L1636.0,881.6 L1636.4,884.1 L1636.8,886.5 L1637.2,889.0 L1637.7,891.5 L1638.1,893.9 L1638.5,896.4 L1638.9,898.9 L1639.3,901.3 L1639.7,903.8 L1640.1,906.3 L1640.5,908.7 L1640.9,911.2 L1641.4,913.7 L1641.8,916.1 L1642.2,918.6 L1642.6,921.1 L1643.0,923.5 L1643.4,926.0 L1643.8,928.5 L1644.3,930.9 L1644.7,933.4 L1645.1,935.9 L1645.5,938.3 L1645.9,940.8 L1646.3,943.3 L1646.8,945.7 L1647.2,948.2 L1647.6,950.7 L1648.0,953.1 L1648.4,955.6 L1648.9,958.1 L1649.3,960.5 L1649.7,963.0 L1650.1,965.5 L1650.5,967.9 L1651.0,970.4 L1651.4,972.9 L1651.8,975.3 L1652.2,977.8 L1652.7,980.2 L1653.1,982.7 L1653.5,985.2 L1654.0,987.6 L1654.4,990.1 L1654.8,992.6 L1655.3,995.0 L1655.7,997.5 L1656.1,999.9 L1656.6,1002.4 L1657.0,1004.9 L1657.4,1007.3 L1657.9,1009.8 L1658.3,1012.2 L1658.8,1014.7 L1659.2,1017.2 L1659.7,1019.6 L1660.1,1022.1 L1660.6,1024.5 L1661.0,1027.0 L1661.5,1029.5 L1661.9,1031.9 L1662.4,1034.4 L1662.8,1036.8 L1663.3,1039.3 L1663.7,1041.7 L1664.2,1044.2 L1664.6,1046.6 L1665.1,1049.1 L1665.6,1051.5 L1666.0,1054.0 L1666.5,1056.5 L1667.0,1058.9 L1667.4,1061.4 L1667.9,1063.8 L1668.4,1066.3 L1668.9,1068.7 L1669.3,1071.2 L1669.8,1073.6 L1670.3,1076.1 L1670.8,1078.5 L1671.3,1081.0 L1671.7,1083.4 L1672.2,1085.9 L1672.7,1088.3 L1673.2,1090.7 L1673.7,1093.2 L1674.2,1095.6 L1674.7,1098.1 L1675.2,1100.5 L1675.7,1103.0 L1676.2,1105.4 L1676.7,1107.9 L1677.2,1110.3 L1677.7,1112.7 L1678.2,1115.2 L1678.8,1117.6 L1679.3,1120.1 L1679.8,1122.5 L1680.3,1124.9 L1680.8,1127.4 L1681.4,1129.8 L1681.9,1132.3 L1682.4,1134.7 L1682.9,1137.1 L1683.5,1139.6 L1684.0,1142.0 L1684.6,1144.4 L1685.1,1146.9 L1685.6,1149.3 L1686.2,1151.7 L1686.7,1154.2 L1687.3,1156.6 L1687.8,1159.0 L1688.4,1161.4 L1689.0,1163.9 L1689.5,1166.3 L1690.1,1168.7 L1690.7,1171.2 L1691.2,1173.6 L1691.8,1176.0 L1692.4,1178.4 L1693.0,1180.9 L1693.6,1183.3 L1694.1,1185.7 L1694.7,1188.1 L1695.3,1190.5 L1695.9,1193.0 L1696.5,1195.4 L1697.1,1197.8 L1697.7,1200.2 L1698.4,1202.6 L1699.0,1205.0 L1699.6,1207.5 L1700.2,1209.9 L1700.8,1212.3 L1701.5,1214.7 L1702.1,1217.1 L1702.8,1219.5 L1703.4,1221.9 L1704.0,1224.3 L1704.7,1226.7 L1705.3,1229.2 L1706.0,1231.6 L1706.7,1234.0 L1707.3,1236.4 L1708.0,1238.8 L1708.7,1241.2 L1709.4,1243.6 L1710.1,1246.0 L1710.7,1248.4 L1711.4,1250.8 L1712.1,1253.2 L1712.8,1255.6 L1713.5,1258.0 L1714.3,1260.4 L1715.0,1262.8 L1715.7,1265.2 L1716.4,1267.5 L1717.2,1269.9 L1717.9,1272.3 L1718.6,1274.7 L1719.4,1277.1 L1720.1,1279.5 L1720.9,1281.9 L1721.7,1284.3 L1722.4,1286.7 L1723.2,1289.0 L1724.0,1291.4 L1724.8,1293.8 L1725.5,1296.2 L1726.3,1298.6 L1727.1,1300.9 L1727.9,1303.3 L1728.8,1305.7 L1729.6,1308.1 L1730.4,1310.4 L1731.2,1312.8 L1732.1,1315.2 L1732.9,1317.6 L1733.7,1319.9 L1734.6,1322.3 L1735.4,1324.7 L1736.3,1327.0 L1737.2,1329.4 L1738.1,1331.8 L1738.9,1334.1 L1739.8,1336.5 L1740.7,1338.8 L1741.6,1341.2 L1742.5,1343.6 L1743.4,1345.9 L1744.4,1348.3 L1745.3,1350.6 L1746.2,1353.0 L1747.2,1355.3 L1748.1,1357.6 L1749.1,1360.0 L1750.1,1362.3 L1751.1,1364.6 L1752.1,1366.9 L1753.1,1369.2 L1754.1,1371.5 L1755.2,1373.8 L1756.2,1376.1 L1757.3,1378.4 L1758.3,1380.7 L1759.4,1382.9 L1760.5,1385.2 L1761.6,1387.4 L1762.8,1389.7 L1763.9,1391.9 L1765.1,1394.1 L1766.2,1396.3 L1767.4,1398.5 L1768.6,1400.7 L1769.8,1402.9 L1771.1,1405.0 L1772.3,1407.2 L1773.6,1409.3 L1774.9,1411.4 L1776.2,1413.6 L1777.5,1415.7 L1778.9,1417.7 L1780.2,1419.8 L1781.6,1421.9 L1783.0,1423.9 L1784.4,1425.9 L1785.9,1427.9 L1787.3,1429.9 L1788.8,1431.9 L1790.3,1433.9 L1791.9,1435.8 L1793.4,1437.7 L1795.0,1439.6 L1796.6,1441.5 L1798.2,1443.4 L1799.8,1445.3 L1801.5,1447.1 L1803.2,1448.9 L1804.9,1450.7 L1806.7,1452.5 L1808.4,1454.2 L1810.2,1455.9 L1812.0,1457.6 L1813.9,1459.3 L1815.7,1461.0 L1817.6,1462.6 L1819.5,1464.2 L1821.4,1465.7 L1823.3,1467.3 L1825.3,1468.8 L1827.3,1470.3 L1829.3,1471.7 L1831.3,1473.1 L1833.4,1474.5 L1835.5,1475.8 L1837.6,1477.1 L1839.7,1478.4 L1841.8,1479.6 L1843.9,1480.8 L1846.1,1482.0 L1848.3,1483.1 L1850.5,1484.2 L1852.7,1485.2 L1855.0,1486.3 L1857.3,1487.2 L1859.5,1488.2 L1861.8,1489.1 L1864.1,1490.0 L1866.5,1490.9 L1868.8,1491.7 L1871.1,1492.5 L1873.5,1493.3 L1875.9,1494.0 L1878.3,1494.7 L1880.7,1495.4 L1883.1,1496.1 L1885.5,1496.7 L1888.0,1497.4 L1890.4,1498.0 L1892.9,1498.5 L1895.3,1499.1 L1897.8,1499.6 L1900.3,1500.1 L1902.8,1500.6 L1905.3,1501.1 L1907.8,1501.5 L1910.3,1501.9 L1912.8,1502.4 L1915.3,1502.8 L1917.8,1503.1 L1920.3,1503.5 L1922.9,1503.9 L1925.4,1504.2 L1927.9,1504.5 L1930.4,1504.8 L1933.0,1505.1 L1935.5,1505.4 L1938.1,1505.7 L1940.6,1506.0 L1943.1,1506.3 L1945.7,1506.5 L1948.2,1506.8 L1950.7,1507.0 L1953.3,1507.2 L1955.8,1507.5 L1958.3,1507.7 L1960.8,1507.9 L1963.3,1508.1 L1965.9,1508.3 L1968.4,1508.5 L1970.9,1508.7 L1973.4,1508.9 L1975.9,1509.1 L1978.4,1509.2 L1980.9,1509.4 L1983.4,1509.6 L1985.9,1509.7 L1988.4,1509.9 L1990.9,1510.0 L1993.4,1510.2 L1995.9,1510.3 L1998.4,1510.5 L2000.9,1510.6 L2003.3,1510.7 L2005.8,1510.8 L2008.3,1511.0 L2010.8,1511.1 L2013.3,1511.2 L2015.8,1511.3 L2018.2,1511.4 L2020.7,1511.5 L2023.2,1511.6 L2025.7,1511.7 L2028.2,1511.7 L2030.6,1511.8 L2033.1,1511.9 L2035.6,1512.0 L2038.1,1512.1 L2040.5,1512.1 L2043.0,1512.2 L2045.5,1512.3 L2048.0,1512.3 L2050.4,1512.4 L2052.9,1512.4 L2055.4,1512.5 L2057.8,1512.5 L2060.3,1512.6 L2062.8,1512.6 L2065.3,1512.7 L2067.7,1512.7 L2070.2,1512.7 L2072.7,1512.8 L2075.2,1512.8 L2077.6,1512.8 L2080.1,1512.9 L2082.6,1512.9 L2085.1,1512.9 L2087.5,1512.9 L2090.0,1513.0 L2092.5,1513.0 L2095.0,1513.0 L2097.4,1513.0 L2099.9,1513.0 L2102.4,1513.1 L2104.9,1513.1 L2107.4,1513.1 L2109.9,1513.1 L2112.4,1513.1 L2114.8,1513.1 L2117.3,1513.1 L2119.8,1513.2 L2122.3,1513.2 L2124.8,1513.2 L2127.3,1513.2 L2129.8,1513.2 L2132.3,1513.2 L2134.8,1513.2 L2137.3,1513.2 L2139.8,1513.2 L2142.3,1513.2 L2144.8,1513.2 L2147.3,1513.3 L2149.8,1513.3 L2152.3,1513.3 L2154.8,1513.3 L2157.3,1513.3 L2159.8,1513.3 L2162.4,1513.3 L2164.9,1513.3 L2167.4,1513.3 L2169.9,1513.3 L2172.4,1513.3 L2174.9,1513.3 L2177.4,1513.3 L2179.9,1513.3 L2182.4,1513.3 L2185.0,1513.3 L2187.5,1513.4 L2190.0,1513.4 L2192.5,1513.4 L2195.0,1513.4 L2197.5,1513.4 L2200.0,1513.4 L2202.5,1513.4 L2205.1,1513.4 L2207.6,1513.4 L2210.1,1513.4 L2212.6,1513.4 L2215.1,1513.4 L2217.6,1513.4 L2220.1,1513.4 L2222.6,1513.5 L2225.2,1513.5 L2227.7,1513.5 L2230.2,1513.5 L2232.7,1513.5 L2235.2,1513.5 L2237.7,1513.5 L2240.2,1513.5 L2242.7,1513.5 L2245.2,1513.5 L2247.7,1513.6 L2250.2,1513.6 L2252.7,1513.6 L2255.2,1513.6 L2257.7,1513.6 L2260.2,1513.6 L2262.7,1513.7 L2265.2,1513.7 L2267.7,1513.7 L2270.2,1513.7 L2272.7,1513.7 L2275.2,1513.8 L2277.6,1513.8 L2280.1,1513.8 L2282.6,1513.8 L2285.1,1513.8 L2287.6,1513.9 L2290.1,1513.9 L2292.5,1513.9 L2295.0,1513.9 L2297.5,1514.0 L2300.0,1514.0 L2302.4,1514.0 L2305.0,1514.1" fill="none" stroke="#a0601a" stroke-width="2.5" stroke-linejoin="round"/>
<path d="M306.5,1436.3 L309.1,1436.3 L311.6,1436.4 L314.1,1436.5 L316.6,1436.5 L319.0,1436.6 L321.5,1436.7 L324.0,1436.8 L326.4,1436.9 L328.9,1437.0 L331.4,1437.1 L333.9,1437.2 L336.3,1437.3 L338.8,1437.5 L341.3,1437.6 L343.8,1437.8 L346.3,1437.9 L348.7,1438.1 L351.2,1438.2 L353.7,1438.4 L356.2,1438.6 L358.6,1438.8 L361.1,1439.0 L363.6,1439.2 L366.1,1439.4 L368.6,1439.6 L371.0,1439.8 L373.5,1440.0 L376.0,1440.2 L378.5,1440.4 L381.0,1440.6 L383.5,1440.9 L385.9,1441.1 L388.4,1441.4 L390.9,1441.6 L393.4,1441.9 L395.9,1442.1 L398.4,1442.4 L400.8,1442.6 L403.3,1442.9 L405.8,1443.2 L408.3,1443.4 L410.8,1443.7 L413.3,1444.0 L415.8,1444.2 L418.3,1444.5 L420.7,1444.8 L423.2,1445.1 L425.7,1445.4 L428.2,1445.7 L430.7,1446.0 L433.2,1446.3 L435.7,1446.6 L438.2,1446.9 L440.6,1447.2 L443.1,1447.5 L445.6,1447.8 L448.1,1448.1 L450.6,1448.4 L453.1,1448.7 L455.6,1449.0 L458.1,1449.3 L460.6,1449.6 L463.1,1449.9 L465.6,1450.3 L468.0,1450.6 L470.5,1450.9 L473.0,1451.2 L475.5,1451.5 L478.0,1451.8 L480.5,1452.1 L483.0,1452.4 L485.5,1452.8 L488.0,1453.1 L490.5,1453.4 L493.0,1453.7 L495.5,1454.0 L498.0,1454.3 L500.4,1454.6 L502.9,1454.9 L505.4,1455.2 L507.9,1455.5 L510.4,1455.8 L512.9,1456.1 L515.4,1456.4 L517.9,1456.7 L520.4,1457.0 L522.9,1457.3 L525.4,1457.6 L527.9,1457.9 L530.4,1458.2 L532.9,1458.4 L535.4,1458.7 L537.8,1459.0 L540.3,1459.3 L542.8,1459.5 L545.3,1459.8 L547.8,1460.1 L550.3,1460.3 L552.8,1460.6 L555.3,1460.8 L557.8,1461.1 L560.3,1461.3 L562.8,1461.6 L565.3,1461.8 L567.8,1462.0 L570.3,1462.3 L572.7,1462.5 L575.2,1462.7 L577.7,1462.9 L580.2,1463.1 L582.7,1463.3 L585.2,1463.5 L587.7,1463.7 L590.2,1463.9 L592.7,1464.1 L595.2,1464.3 L597.7,1464.4 L600.2,1464.6 L602.6,1464.7 L605.1,1464.9 L607.6,1465.0 L610.1,1465.2 L612.6,1465.3 L615.1,1465.4 L617.6,1465.6 L620.1,1465.7 L622.6,1465.8 L625.0,1465.9 L627.5,1466.0 L630.0,1466.0 L632.5,1466.1 L635.0,1466.2 L637.5,1466.3 L640.0,1466.3 L642.5,1466.3 L644.9,1466.4 L647.4,1466.4 L649.9,1466.4 L652.4,1466.4 L654.9,1466.4 L657.4,1466.4 L659.9,1466.4 L662.3,1466.4 L664.8,1466.4 L667.3,1466.3 L669.8,1466.3 L672.3,1466.2 L674.7,1466.2 L677.2,1466.1 L679.7,1466.0 L682.2,1465.9 L684.7,1465.8 L687.2,1465.7 L689.6,1465.5 L692.1,1465.4 L694.6,1465.2 L697.1,1465.1 L699.5,1464.9 L702.0,1464.7 L704.5,1464.5 L707.0,1464.3 L709.5,1464.1 L711.9,1463.9 L714.4,1463.7 L716.9,1463.4 L719.4,1463.2 L721.8,1462.9 L724.3,1462.6 L726.8,1462.3 L729.2,1462.0 L731.7,1461.7 L734.2,1461.3 L736.7,1461.0 L739.1,1460.6 L741.6,1460.3 L744.1,1459.9 L746.5,1459.5 L749.0,1459.1 L751.5,1458.7 L753.9,1458.2 L756.4,1457.8 L758.8,1457.3 L761.3,1456.9 L763.8,1456.4 L766.2,1455.9 L768.7,1455.4 L771.1,1454.9 L773.6,1454.4 L776.0,1453.8 L778.5,1453.3 L780.9,1452.7 L783.3,1452.1 L785.8,1451.6 L788.2,1451.0 L790.7,1450.4 L793.1,1449.7 L795.5,1449.1 L797.9,1448.5 L800.4,1447.8 L802.8,1447.1 L805.2,1446.4 L807.6,1445.8 L810.0,1445.0 L812.4,1444.3 L814.8,1443.6 L817.2,1442.9 L819.6,1442.1 L822.0,1441.3 L824.4,1440.6 L826.8,1439.8 L829.2,1439.0 L831.5,1438.2 L833.9,1437.3 L836.3,1436.5 L838.6,1435.7 L841.0,1434.8 L843.3,1433.9 L845.7,1433.0 L848.0,1432.1 L850.4,1431.2 L852.7,1430.3 L855.0,1429.4 L857.4,1428.4 L859.7,1427.5 L862.0,1426.5 L864.3,1425.5 L866.6,1424.6 L868.9,1423.6 L871.2,1422.5 L873.5,1421.5 L875.8,1420.5 L878.0,1419.4 L880.3,1418.4 L882.6,1417.3 L884.8,1416.2 L887.1,1415.1 L889.3,1414.0 L891.6,1412.9 L893.8,1411.8 L896.0,1410.6 L898.2,1409.5 L900.5,1408.3 L902.7,1407.1 L904.9,1406.0 L907.1,1404.8 L909.2,1403.5 L911.4,1402.3 L913.6,1401.1 L915.8,1399.8 L917.9,1398.6 L920.1,1397.3 L922.2,1396.0 L924.3,1394.7 L926.5,1393.4 L928.6,1392.1 L930.7,1390.8 L932.8,1389.5 L934.9,1388.1 L937.0,1386.8 L939.1,1385.4 L941.1,1384.0 L943.2,1382.6 L945.3,1381.2 L947.3,1379.8 L949.3,1378.3 L951.4,1376.9 L953.4,1375.5 L955.4,1374.0 L957.4,1372.5 L959.4,1371.0 L961.4,1369.5 L963.3,1368.0 L965.3,1366.5 L967.3,1365.0 L969.2,1363.4 L971.2,1361.9 L973.1,1360.3 L975.0,1358.8 L976.9,1357.2 L978.8,1355.6 L980.7,1354.0 L982.6,1352.4 L984.5,1350.7 L986.4,1349.1 L988.3,1347.5 L990.1,1345.8 L992.0,1344.2 L993.8,1342.5 L995.6,1340.8 L997.5,1339.1 L999.3,1337.4 L1001.1,1335.7 L1002.9,1334.0 L1004.7,1332.3 L1006.5,1330.5 L1008.2,1328.8 L1010.0,1327.0 L1011.8,1325.3 L1013.5,1323.5 L1015.3,1321.7 L1017.0,1319.9 L1018.7,1318.1 L1020.4,1316.3 L1022.2,1314.5 L1023.9,1312.7 L1025.6,1310.9 L1027.3,1309.0 L1028.9,1307.2 L1030.6,1305.3 L1032.3,1303.5 L1033.9,1301.6 L1035.6,1299.8 L1037.2,1297.9 L1038.9,1296.0 L1040.5,1294.1 L1042.1,1292.2 L1043.8,1290.3 L1045.4,1288.4 L1047.0,1286.4 L1048.6,1284.5 L1050.1,1282.6 L1051.7,1280.6 L1053.3,1278.7 L1054.9,1276.7 L1056.4,1274.8 L1058.0,1272.8 L1059.5,1270.8 L1061.1,1268.8 L1062.6,1266.9 L1064.1,1264.9 L1065.6,1262.9 L1067.1,1260.9 L1068.6,1258.9 L1070.1,1256.9 L1071.6,1254.8 L1073.1,1252.8 L1074.6,1250.8 L1076.0,1248.8 L1077.5,1246.7 L1079.0,1244.7 L1080.4,1242.6 L1081.8,1240.6 L1083.3,1238.5 L1084.7,1236.4 L1086.1,1234.4 L1087.5,1232.3 L1089.0,1230.2 L1090.4,1228.2 L1091.8,1226.1 L1093.1,1224.0 L1094.5,1221.9 L1095.9,1219.8 L1097.3,1217.7 L1098.6,1215.6 L1100.0,1213.5 L1101.3,1211.4 L1102.7,1209.3 L1104.0,1207.1 L1105.4,1205.0 L1106.7,1202.9 L1108.0,1200.8 L1109.3,1198.7 L1110.6,1196.5 L1111.9,1194.4 L1113.2,1192.3 L1114.5,1190.1 L1115.8,1188.0 L1117.1,1185.8 L1118.4,1183.7 L1119.6,1181.5 L1120.9,1179.4 L1122.2,1177.2 L1123.4,1175.1 L1124.7,1172.9 L1125.9,1170.8 L1127.2,1168.6 L1128.4,1166.4 L1129.7,1164.3 L1130.9,1162.1 L1132.1,1159.9 L1133.4,1157.8 L1134.6,1155.6 L1135.8,1153.4 L1137.1,1151.3 L1138.3,1149.1 L1139.5,1146.9 L1140.7,1144.8 L1142.0,1142.6 L1143.2,1140.4 L1144.4,1138.2 L1145.6,1136.1 L1146.8,1133.9 L1148.0,1131.7 L1149.3,1129.6 L1150.5,1127.4 L1151.7,1125.2 L1152.9,1123.0 L1154.1,1120.9 L1155.3,1118.7 L1156.5,1116.5 L1157.8,1114.4 L1159.0,1112.2 L1160.2,1110.0 L1161.4,1107.9 L1162.7,1105.7 L1163.9,1103.5 L1165.1,1101.4 L1166.3,1099.2 L1167.6,1097.0 L1168.8,1094.9 L1170.1,1092.7 L1171.3,1090.6 L1172.5,1088.4 L1173.8,1086.3 L1175.0,1084.1 L1176.3,1082.0 L1177.6,1079.8 L1178.8,1077.7 L1180.1,1075.5 L1181.4,1073.4 L1182.6,1071.2 L1183.9,1069.1 L1185.2,1067.0 L1186.5,1064.8 L1187.8,1062.7 L1189.1,1060.6 L1190.4,1058.5 L1191.7,1056.3 L1193.0,1054.2 L1194.3,1052.1 L1195.6,1050.0 L1197.0,1047.9 L1198.3,1045.8 L1199.6,1043.7 L1201.0,1041.6 L1202.3,1039.5 L1203.6,1037.4 L1205.0,1035.3 L1206.3,1033.2 L1207.7,1031.1 L1209.1,1029.0 L1210.4,1026.9 L1211.8,1024.8 L1213.2,1022.8 L1214.5,1020.7 L1215.9,1018.6 L1217.3,1016.6 L1218.7,1014.5 L1220.1,1012.4 L1221.5,1010.4 L1222.9,1008.3 L1224.3,1006.2 L1225.8,1004.2 L1227.2,1002.2 L1228.6,1000.1 L1230.0,998.1 L1231.5,996.0 L1232.9,994.0 L1234.4,992.0 L1235.8,989.9 L1237.3,987.9 L1238.7,985.9 L1240.2,983.9 L1241.7,981.8 L1243.1,979.8 L1244.6,977.8 L1246.1,975.8 L1247.6,973.8 L1249.1,971.8 L1250.6,969.8 L1252.1,967.8 L1253.6,965.8 L1255.1,963.9 L1256.7,961.9 L1258.2,959.9 L1259.7,957.9 L1261.3,956.0 L1262.8,954.0 L1264.3,952.0 L1265.9,950.1 L1267.5,948.1 L1269.0,946.2 L1270.6,944.2 L1272.2,942.3 L1273.8,940.3 L1275.3,938.4 L1276.9,936.5 L1278.5,934.6 L1280.1,932.6 L1281.7,930.7 L1283.3,928.8 L1284.9,926.9 L1286.5,924.9 L1288.1,923.0 L1289.7,921.1 L1291.3,919.1 L1292.9,917.2 L1294.5,915.3 L1296.0,913.3 L1297.6,911.4 L1299.1,909.4 L1300.7,907.4 L1302.2,905.4 L1303.7,903.5 L1305.2,901.5 L1306.7,899.5 L1308.1,897.4 L1309.6,895.4 L1311.0,893.4 L1312.4,891.3 L1313.8,889.2 L1315.2,887.1 L1316.5,885.0 L1317.8,882.9 L1319.2,880.8 L1320.5,878.7 L1321.7,876.6 L1323.0,874.4 L1324.3,872.2 L1325.5,870.1 L1326.7,867.9 L1327.9,865.7 L1329.1,863.5 L1330.3,861.3 L1331.4,859.1 L1332.6,856.8 L1333.7,854.6 L1334.8,852.4 L1335.9,850.1 L1337.0,847.9 L1338.1,845.6 L1339.2,843.4 L1340.2,841.1 L1341.3,838.8 L1342.3,836.5 L1343.3,834.2 L1344.3,831.9 L1345.3,829.6 L1346.3,827.3 L1347.3,825.0 L1348.3,822.7 L1349.2,820.4 L1350.2,818.1 L1351.1,815.8 L1352.0,813.4 L1353.0,811.1 L1353.9,808.8 L1354.8,806.5 L1355.7,804.1 L1356.6,801.8 L1357.4,799.5 L1358.3,797.1 L1359.2,794.8 L1360.0,792.4 L1360.9,790.1 L1361.7,787.7 L1362.6,785.4 L1363.4,783.0 L1364.2,780.7 L1365.0,778.3 L1365.8,776.0 L1366.6,773.6 L1367.4,771.3 L1368.2,768.9 L1369.0,766.5 L1369.8,764.2 L1370.5,761.8 L1371.3,759.4 L1372.1,757.0 L1372.8,754.7 L1373.6,752.3 L1374.3,749.9 L1375.0,747.5 L1375.8,745.2 L1376.5,742.8 L1377.2,740.4 L1377.9,738.0 L1378.6,735.6 L1379.3,733.2 L1380.0,730.8 L1380.7,728.4 L1381.4,726.1 L1382.1,723.7 L1382.8,721.3 L1383.5,718.9 L1384.2,716.5 L1384.8,714.1 L1385.5,711.7 L1386.2,709.3 L1386.8,706.9 L1387.5,704.5 L1388.1,702.1 L1388.8,699.7 L1389.5,697.3 L1390.1,694.8 L1390.7,692.4 L1391.4,690.0 L1392.0,687.6 L1392.7,685.2 L1393.3,682.8 L1393.9,680.4 L1394.6,678.0 L1395.2,675.6 L1395.8,673.1 L1396.5,670.7 L1397.1,668.3 L1397.7,665.9 L1398.4,663.5 L1399.0,661.1 L1399.6,658.7 L1400.2,656.2 L1400.9,653.8 L1401.5,651.4 L1402.1,649.0 L1402.7,646.6 L1403.4,644.1 L1404.0,641.7 L1404.6,639.3 L1405.2,636.9 L1405.9,634.5 L1406.5,632.1 L1407.1,629.6 L1407.7,627.2 L1408.4,624.8 L1409.0,622.4 L1409.6,620.0 L1410.2,617.5 L1410.9,615.1 L1411.5,612.7 L1412.2,610.3 L1412.8,607.9 L1413.4,605.5 L1414.1,603.0 L1414.7,600.6 L1415.4,598.2 L1416.0,595.8 L1416.7,593.4 L1417.3,591.0 L1418.0,588.5 L1418.6,586.1 L1419.3,583.7 L1420.0,581.3 L1420.6,578.9 L1421.3,576.5 L1422.0,574.1 L1422.7,571.7 L1423.4,569.3 L1424.0,566.9 L1424.7,564.4 L1425.4,562.0 L1426.1,559.6 L1426.8,557.2 L1427.6,554.8 L1428.3,552.4 L1429.0,550.0 L1429.7,547.6 L1430.4,545.2 L1431.2,542.8 L1431.9,540.4 L1432.7,538.0 L1433.4,535.6 L1434.1,533.2 L1434.9,530.9 L1435.6,528.5 L1436.4,526.1 L1437.1,523.7 L1437.9,521.3 L1438.7,518.9 L1439.4,516.5 L1440.2,514.1 L1441.0,511.8 L1441.7,509.4 L1442.5,507.0 L1443.3,504.6 L1444.1,502.2 L1444.8,499.9 L1445.6,497.5 L1446.4,495.1 L1447.2,492.7 L1447.9,490.4 L1448.7,488.0 L1449.5,485.6 L1450.3,483.3 L1451.0,480.9 L1451.8,478.5 L1452.6,476.2 L1453.4,473.8 L1454.1,471.4 L1454.9,469.1 L1455.7,466.7 L1456.5,464.4 L1457.2,462.0 L1458.0,459.6 L1458.8,457.3 L1459.5,454.9 L1460.3,452.6 L1461.0,450.2 L1461.8,447.9 L1462.6,445.5 L1463.3,443.2 L1464.1,440.8 L1464.8,438.5 L1465.5,436.2 L1466.3,433.8 L1467.0,431.5 L1467.8,429.1 L1468.5,426.8 L1469.3,424.5 L1470.0,422.1 L1470.8,419.8 L1471.5,417.5 L1472.3,415.1 L1473.0,412.8 L1473.8,410.4 L1474.6,408.1 L1475.4,405.8 L1476.2,403.4 L1477.0,401.1 L1477.8,398.7 L1478.6,396.4 L1479.4,394.0 L1480.3,391.7 L1481.1,389.3 L1482.0,387.0 L1482.9,384.6 L1483.8,382.2 L1484.7,379.9 L1485.6,377.5 L1486.6,375.1 L1487.6,372.8 L1488.6,370.4 L1489.6,368.0 L1490.6,365.6 L1491.6,363.2 L1492.7,360.8 L1493.8,358.4 L1494.9,356.0 L1496.1,353.6 L1497.3,351.2 L1498.5,348.8 L1499.7,346.3 L1500.9,343.9 L1502.2,341.5 L1503.5,339.1 L1504.9,336.8 L1506.3,334.5 L1507.8,332.4 L1509.4,330.5 L1511.0,328.7 L1512.7,327.1 L1514.5,325.7 L1516.4,324.6 L1518.3,323.7 L1520.3,323.0 L1522.3,322.5 L1524.3,322.3 L1526.3,322.3 L1528.4,322.5 L1530.3,323.0 L1532.3,323.7 L1534.2,324.6 L1536.0,325.7 L1537.8,327.1 L1539.5,328.7 L1541.1,330.5 L1542.6,332.5 L1544.0,334.6 L1545.4,336.8 L1546.8,339.0 L1548.1,341.2 L1549.3,343.5 L1550.6,345.7 L1551.7,348.0 L1552.9,350.3 L1554.0,352.6 L1555.0,354.9 L1556.1,357.2 L1557.1,359.5 L1558.0,361.9 L1559.0,364.2 L1559.9,366.6 L1560.7,368.9 L1561.6,371.3 L1562.4,373.7 L1563.2,376.1 L1564.0,378.4 L1564.7,380.8 L1565.4,383.2 L1566.1,385.6 L1566.8,388.1 L1567.5,390.5 L1568.1,392.9 L1568.7,395.3 L1569.4,397.8 L1570.0,400.2 L1570.6,402.6 L1571.1,405.1 L1571.7,407.5 L1572.3,409.9 L1572.8,412.4 L1573.3,414.8 L1573.9,417.3 L1574.4,419.7 L1574.9,422.2 L1575.5,424.6 L1576.0,427.1 L1576.5,429.5 L1577.0,432.0 L1577.5,434.4 L1578.1,436.9 L1578.6,439.3 L1579.1,441.8 L1579.6,444.3 L1580.1,446.7 L1580.6,449.2 L1581.1,451.6 L1581.6,454.1 L1582.1,456.5 L1582.6,459.0 L1583.1,461.4 L1583.6,463.9 L1584.1,466.3 L1584.6,468.8 L1585.1,471.2 L1585.6,473.7 L1586.1,476.2 L1586.6,478.6 L1587.0,481.1 L1587.5,483.5 L1588.0,486.0 L1588.5,488.4 L1589.0,490.9 L1589.4,493.3 L1589.9,495.8 L1590.4,498.3 L1590.8,500.7 L1591.3,503.2 L1591.8,505.6 L1592.2,508.1 L1592.7,510.5 L1593.2,513.0 L1593.6,515.5 L1594.1,517.9 L1594.6,520.4 L1595.0,522.8 L1595.5,525.3 L1595.9,527.7 L1596.4,530.2 L1596.8,532.7 L1597.3,535.1 L1597.7,537.6 L1598.2,540.0 L1598.6,542.5 L1599.1,545.0 L1599.5,547.4 L1600.0,549.9 L1600.4,552.3 L1600.8,554.8 L1601.3,557.3 L1601.7,559.7 L1602.1,562.2 L1602.6,564.6 L1603.0,567.1 L1603.4,569.6 L1603.9,572.0 L1604.3,574.5 L1604.7,576.9 L1605.2,579.4 L1605.6,581.9 L1606.0,584.3 L1606.4,586.8 L1606.9,589.2 L1607.3,591.7 L1607.7,594.2 L1608.1,596.6 L1608.5,599.1 L1609.0,601.5 L1609.4,604.0 L1609.8,606.5 L1610.2,608.9 L1610.6,611.4 L1611.0,613.9 L1611.4,616.3 L1611.9,618.8 L1612.3,621.2 L1612.7,623.7 L1613.1,626.2 L1613.5,628.6 L1613.9,631.1 L1614.3,633.6 L1614.7,636.0 L1615.1,638.5 L1615.5,641.0 L1615.9,643.4 L1616.3,645.9 L1616.7,648.3 L1617.1,650.8 L1617.5,653.3 L1617.9,655.7 L1618.3,658.2 L1618.7,660.7 L1619.1,663.1 L1619.5,665.6 L1619.9,668.1 L1620.3,670.5 L1620.7,673.0 L1621.1,675.5 L1621.5,677.9 L1621.9,680.4 L1622.2,682.8 L1622.6,685.3 L1623.0,687.8 L1623.4,690.2 L1623.8,692.7 L1624.2,695.2 L1624.6,697.6 L1625.0,700.1 L1625.3,702.6 L1625.7,705.0 L1626.1,707.5 L1626.5,710.0 L1626.9,712.4 L1627.3,714.9 L1627.7,717.4 L1628.0,719.8 L1628.4,722.3 L1628.8,724.8 L1629.2,727.2 L1629.6,729.7 L1629.9,732.2 L1630.3,734.6 L1630.7,737.1 L1631.1,739.6 L1631.5,742.0 L1631.8,744.5 L1632.2,747.0 L1632.6,749.4 L1633.0,751.9 L1633.4,754.4 L1633.7,756.8 L1634.1,759.3 L1634.5,761.7 L1634.9,764.2 L1635.2,766.7 L1635.6,769.1 L1636.0,771.6 L1636.4,774.1 L1636.8,776.5 L1637.1,779.0 L1637.5,781.5 L1637.9,783.9 L1638.3,786.4 L1638.6,788.9 L1639.0,791.3 L1639.4,793.8 L1639.8,796.3 L1640.1,798.7 L1640.5,801.2 L1640.9,803.7 L1641.3,806.1 L1641.6,808.6 L1642.0,811.1 L1642.4,813.5 L1642.8,816.0 L1643.2,818.5 L1643.5,821.0 L1643.9,823.4 L1644.3,825.9 L1644.7,828.4 L1645.0,830.8 L1645.4,833.3 L1645.8,835.8 L1646.2,838.2 L1646.6,840.7 L1646.9,843.2 L1647.3,845.6 L1647.7,848.1 L1648.1,850.6 L1648.4,853.0 L1648.8,855.5 L1649.2,858.0 L1649.6,860.4 L1650.0,862.9 L1650.3,865.4 L1650.7,867.8 L1651.1,870.3 L1651.5,872.8 L1651.9,875.2 L1652.3,877.7 L1652.6,880.2 L1653.0,882.6 L1653.4,885.1 L1653.8,887.6 L1654.2,890.0 L1654.6,892.5 L1654.9,895.0 L1655.3,897.4 L1655.7,899.9 L1656.1,902.3 L1656.5,904.8 L1656.9,907.3 L1657.3,909.7 L1657.7,912.2 L1658.1,914.7 L1658.4,917.1 L1658.8,919.6 L1659.2,922.1 L1659.6,924.5 L1660.0,927.0 L1660.4,929.5 L1660.8,931.9 L1661.2,934.4 L1661.6,936.9 L1662.0,939.3 L1662.4,941.8 L1662.8,944.3 L1663.2,946.7 L1663.6,949.2 L1664.0,951.7 L1664.4,954.1 L1664.8,956.6 L1665.2,959.1 L1665.6,961.5 L1666.0,964.0 L1666.4,966.5 L1666.8,968.9 L1667.2,971.4 L1667.6,973.8 L1668.0,976.3 L1668.4,978.8 L1668.9,981.2 L1669.3,983.7 L1669.7,986.2 L1670.1,988.6 L1670.5,991.1 L1670.9,993.6 L1671.3,996.0 L1671.8,998.5 L1672.2,1001.0 L1672.6,1003.4 L1673.0,1005.9 L1673.4,1008.3 L1673.9,1010.8 L1674.3,1013.3 L1674.7,1015.7 L1675.2,1018.2 L1675.6,1020.7 L1676.0,1023.1 L1676.4,1025.6 L1676.9,1028.0 L1677.3,1030.5 L1677.7,1033.0 L1678.2,1035.4 L1678.6,1037.9 L1679.0,1040.4 L1679.5,1042.8 L1679.9,1045.3 L1680.4,1047.7 L1680.8,1050.2 L1681.3,1052.7 L1681.7,1055.1 L1682.1,1057.6 L1682.6,1060.1 L1683.0,1062.5 L1683.5,1065.0 L1683.9,1067.4 L1684.4,1069.9 L1684.9,1072.4 L1685.3,1074.8 L1685.8,1077.3 L1686.2,1079.7 L1686.7,1082.2 L1687.2,1084.7 L1687.6,1087.1 L1688.1,1089.6 L1688.5,1092.0 L1689.0,1094.5 L1689.5,1097.0 L1690.0,1099.4 L1690.4,1101.9 L1690.9,1104.3 L1691.4,1106.8 L1691.9,1109.3 L1692.3,1111.7 L1692.8,1114.2 L1693.3,1116.6 L1693.8,1119.1 L1694.3,1121.5 L1694.8,1124.0 L1695.3,1126.5 L1695.7,1128.9 L1696.2,1131.4 L1696.7,1133.8 L1697.2,1136.3 L1697.7,1138.7 L1698.2,1141.2 L1698.7,1143.6 L1699.3,1146.1 L1699.8,1148.6 L1700.3,1151.0 L1700.8,1153.5 L1701.3,1155.9 L1701.8,1158.4 L1702.4,1160.8 L1702.9,1163.3 L1703.4,1165.7 L1703.9,1168.1 L1704.5,1170.6 L1705.0,1173.0 L1705.6,1175.5 L1706.1,1177.9 L1706.6,1180.4 L1707.2,1182.8 L1707.7,1185.2 L1708.3,1187.7 L1708.9,1190.1 L1709.4,1192.6 L1710.0,1195.0 L1710.5,1197.4 L1711.1,1199.9 L1711.7,1202.3 L1712.3,1204.7 L1712.9,1207.2 L1713.4,1209.6 L1714.0,1212.0 L1714.6,1214.4 L1715.2,1216.9 L1715.8,1219.3 L1716.4,1221.7 L1717.0,1224.1 L1717.6,1226.6 L1718.3,1229.0 L1718.9,1231.4 L1719.5,1233.8 L1720.1,1236.2 L1720.8,1238.6 L1721.4,1241.0 L1722.0,1243.5 L1722.7,1245.9 L1723.3,1248.3 L1724.0,1250.7 L1724.6,1253.1 L1725.3,1255.5 L1726.0,1257.9 L1726.6,1260.3 L1727.3,1262.7 L1728.0,1265.1 L1728.7,1267.4 L1729.4,1269.8 L1730.1,1272.2 L1730.8,1274.6 L1731.5,1277.0 L1732.2,1279.4 L1732.9,1281.7 L1733.6,1284.1 L1734.3,1286.5 L1735.1,1288.9 L1735.8,1291.2 L1736.5,1293.6 L1737.3,1296.0 L1738.0,1298.3 L1738.8,1300.7 L1739.6,1303.1 L1740.3,1305.4 L1741.1,1307.8 L1741.9,1310.1 L1742.7,1312.5 L1743.4,1314.8 L1744.2,1317.2 L1745.0,1319.5 L1745.8,1321.8 L1746.7,1324.2 L1747.5,1326.5 L1748.3,1328.8 L1749.1,1331.2 L1750.0,1333.5 L1750.8,1335.8 L1751.7,1338.1 L1752.5,1340.5 L1753.4,1342.8 L1754.3,1345.1 L1755.2,1347.4 L1756.1,1349.7 L1757.0,1352.0 L1757.9,1354.3 L1758.9,1356.6 L1759.8,1358.9 L1760.8,1361.2 L1761.7,1363.5 L1762.7,1365.8 L1763.7,1368.1 L1764.7,1370.3 L1765.8,1372.6 L1766.8,1374.9 L1767.8,1377.2 L1768.9,1379.4 L1770.0,1381.7 L1771.1,1384.0 L1772.2,1386.2 L1773.3,1388.5 L1774.5,1390.7 L1775.6,1393.0 L1776.8,1395.2 L1778.0,1397.5 L1779.2,1399.7 L1780.4,1401.9 L1781.7,1404.2 L1782.9,1406.4 L1784.2,1408.6 L1785.5,1410.8 L1786.8,1413.0 L1788.2,1415.2 L1789.6,1417.4 L1790.9,1419.6 L1792.3,1421.7 L1793.8,1423.8 L1795.2,1425.9 L1796.7,1428.0 L1798.2,1430.1 L1799.7,1432.2 L1801.3,1434.2 L1802.8,1436.2 L1804.4,1438.2 L1806.0,1440.1 L1807.7,1442.0 L1809.3,1443.9 L1811.0,1445.8 L1812.7,1447.6 L1814.5,1449.4 L1816.2,1451.1 L1818.0,1452.8 L1819.9,1454.5 L1821.7,1456.1 L1823.6,1457.7 L1825.5,1459.3 L1827.4,1460.8 L1829.4,1462.3 L1831.4,1463.7 L1833.4,1465.0 L1835.5,1466.4 L1837.6,1467.6 L1839.7,1468.9 L1841.8,1470.1 L1844.0,1471.2 L1846.1,1472.3 L1848.3,1473.4 L1850.6,1474.4 L1852.8,1475.4 L1855.1,1476.4 L1857.4,1477.3 L1859.7,1478.2 L1862.0,1479.1 L1864.3,1479.9 L1866.7,1480.7 L1869.0,1481.5 L1871.4,1482.2 L1873.8,1482.9 L1876.2,1483.6 L1878.6,1484.3 L1881.0,1484.9 L1883.5,1485.5 L1885.9,1486.1 L1888.4,1486.7 L1890.8,1487.2 L1893.3,1487.8 L1895.7,1488.3 L1898.2,1488.8 L1900.6,1489.3 L1903.1,1489.7 L1905.6,1490.2 L1908.0,1490.6 L1910.5,1491.0 L1913.0,1491.4 L1915.5,1491.8 L1917.9,1492.2 L1920.4,1492.6 L1922.9,1492.9 L1925.4,1493.3 L1927.8,1493.6 L1930.3,1493.9 L1932.8,1494.2 L1935.3,1494.5 L1937.8,1494.8 L1940.2,1495.0 L1942.7,1495.3 L1945.2,1495.5 L1947.7,1495.8 L1950.2,1496.0 L1952.7,1496.2 L1955.2,1496.4 L1957.7,1496.6 L1960.1,1496.8 L1962.6,1496.9 L1965.1,1497.1 L1967.6,1497.3 L1970.1,1497.4 L1972.6,1497.5 L1975.1,1497.7 L1977.6,1497.8 L1980.1,1497.9 L1982.6,1498.0 L1985.1,1498.1 L1987.6,1498.2 L1990.1,1498.3 L1992.6,1498.4 L1995.1,1498.4 L1997.6,1498.5 L2000.1,1498.6 L2002.6,1498.6 L2005.1,1498.7 L2007.6,1498.7 L2010.1,1498.8 L2012.6,1498.8 L2015.1,1498.8 L2017.6,1498.9 L2020.1,1498.9 L2022.6,1498.9 L2025.1,1498.9 L2027.6,1498.9 L2030.1,1499.0 L2032.6,1499.0 L2035.1,1499.0 L2037.6,1499.0 L2040.1,1499.0 L2042.6,1499.0 L2045.1,1499.0 L2047.7,1499.0 L2050.2,1499.0 L2052.7,1499.0 L2055.2,1499.0 L2057.7,1499.0 L2060.2,1498.9 L2062.7,1498.9 L2065.2,1498.9 L2067.7,1498.9 L2070.2,1498.9 L2072.7,1498.9 L2075.2,1498.9 L2077.7,1498.9 L2080.2,1498.9 L2082.7,1498.9 L2085.2,1499.0 L2087.7,1499.0 L2090.2,1499.0 L2092.7,1499.0 L2095.2,1499.0 L2097.7,1499.0 L2100.2,1499.0 L2102.7,1499.1 L2105.2,1499.1 L2107.7,1499.1 L2110.2,1499.1 L2112.7,1499.1 L2115.2,1499.2 L2117.7,1499.2 L2120.2,1499.2 L2122.7,1499.3 L2125.2,1499.3 L2127.7,1499.3 L2130.2,1499.4 L2132.7,1499.4 L2135.2,1499.4 L2137.7,1499.5 L2140.2,1499.5 L2142.7,1499.5 L2145.2,1499.6 L2147.7,1499.6 L2150.1,1499.6 L2152.6,1499.7 L2155.1,1499.7 L2157.6,1499.8 L2160.1,1499.8 L2162.6,1499.8 L2165.1,1499.9 L2167.6,1499.9 L2170.1,1500.0 L2172.6,1500.0 L2175.1,1500.1 L2177.6,1500.1 L2180.1,1500.1 L2182.6,1500.2 L2185.1,1500.2 L2187.6,1500.3 L2190.1,1500.3 L2192.6,1500.4 L2195.1,1500.4 L2197.6,1500.4 L2200.1,1500.5 L2202.6,1500.5 L2205.1,1500.6 L2207.5,1500.6 L2210.0,1500.6 L2212.5,1500.7 L2215.0,1500.7 L2217.5,1500.7 L2220.0,1500.8 L2222.5,1500.8 L2225.0,1500.8 L2227.5,1500.9 L2230.0,1500.9 L2232.5,1500.9 L2235.0,1501.0 L2237.5,1501.0 L2240.0,1501.0 L2242.5,1501.1 L2245.0,1501.1 L2247.5,1501.1 L2250.0,1501.1 L2252.5,1501.2 L2255.0,1501.2 L2257.5,1501.2 L2260.0,1501.2 L2262.5,1501.2 L2265.0,1501.2 L2267.5,1501.3 L2270.0,1501.3 L2272.5,1501.3 L2275.0,1501.3 L2277.5,1501.3 L2280.0,1501.3 L2282.5,1501.3 L2285.0,1501.3 L2287.5,1501.3 L2290.0,1501.3 L2292.5,1501.3 L2295.0,1501.3 L2297.5,1501.3 L2300.0,1501.2 L2302.5,1501.2 L2305.0,1501.2" fill="none" stroke="#12c43c" stroke-width="2.5" stroke-linejoin="round"/>
<path d="M306.5,1447.5 L309.1,1447.4 L311.6,1447.4 L314.1,1447.4 L316.6,1447.4 L319.0,1447.4 L321.5,1447.4 L324.0,1447.4 L326.5,1447.5 L329.0,1447.5 L331.4,1447.5 L333.9,1447.6 L336.4,1447.7 L338.9,1447.7 L341.4,1447.8 L343.8,1447.9 L346.3,1448.0 L348.8,1448.1 L351.3,1448.2 L353.8,1448.3 L356.3,1448.4 L358.7,1448.6 L361.2,1448.7 L363.7,1448.8 L366.2,1449.0 L368.7,1449.1 L371.2,1449.3 L373.6,1449.5 L376.1,1449.6 L378.6,1449.8 L381.1,1450.0 L383.6,1450.2 L386.1,1450.4 L388.6,1450.6 L391.1,1450.8 L393.5,1451.0 L396.0,1451.2 L398.5,1451.4 L401.0,1451.6 L403.5,1451.9 L406.0,1452.1 L408.5,1452.3 L411.0,1452.6 L413.5,1452.8 L415.9,1453.1 L418.4,1453.3 L420.9,1453.6 L423.4,1453.9 L425.9,1454.1 L428.4,1454.4 L430.9,1454.7 L433.4,1454.9 L435.9,1455.2 L438.4,1455.5 L440.9,1455.8 L443.3,1456.0 L445.8,1456.3 L448.3,1456.6 L450.8,1456.9 L453.3,1457.2 L455.8,1457.5 L458.3,1457.8 L460.8,1458.1 L463.3,1458.4 L465.8,1458.7 L468.3,1459.0 L470.8,1459.3 L473.3,1459.6 L475.8,1459.9 L478.2,1460.2 L480.7,1460.5 L483.2,1460.8 L485.7,1461.1 L488.2,1461.4 L490.7,1461.7 L493.2,1462.0 L495.7,1462.3 L498.2,1462.6 L500.7,1462.9 L503.2,1463.2 L505.7,1463.5 L508.2,1463.8 L510.7,1464.1 L513.2,1464.4 L515.7,1464.7 L518.2,1465.0 L520.6,1465.3 L523.1,1465.6 L525.6,1465.9 L528.1,1466.2 L530.6,1466.5 L533.1,1466.8 L535.6,1467.1 L538.1,1467.3 L540.6,1467.6 L543.1,1467.9 L545.6,1468.2 L548.1,1468.4 L550.6,1468.7 L553.1,1469.0 L555.6,1469.2 L558.0,1469.5 L560.5,1469.7 L563.0,1470.0 L565.5,1470.2 L568.0,1470.5 L570.5,1470.7 L573.0,1470.9 L575.5,1471.2 L578.0,1471.4 L580.5,1471.6 L583.0,1471.8 L585.5,1472.0 L587.9,1472.2 L590.4,1472.4 L592.9,1472.6 L595.4,1472.8 L597.9,1473.0 L600.4,1473.2 L602.9,1473.4 L605.4,1473.5 L607.9,1473.7 L610.4,1473.8 L612.8,1474.0 L615.3,1474.1 L617.8,1474.3 L620.3,1474.4 L622.8,1474.5 L625.3,1474.6 L627.8,1474.7 L630.3,1474.8 L632.7,1474.9 L635.2,1475.0 L637.7,1475.1 L640.2,1475.2 L642.7,1475.2 L645.2,1475.3 L647.7,1475.3 L650.1,1475.4 L652.6,1475.4 L655.1,1475.4 L657.6,1475.4 L660.1,1475.4 L662.6,1475.4 L665.0,1475.4 L667.5,1475.4 L670.0,1475.4 L672.5,1475.3 L675.0,1475.3 L677.4,1475.2 L679.9,1475.1 L682.4,1475.1 L684.9,1475.0 L687.4,1474.9 L689.8,1474.8 L692.3,1474.6 L694.8,1474.5 L697.3,1474.4 L699.7,1474.2 L702.2,1474.0 L704.7,1473.9 L707.2,1473.7 L709.6,1473.5 L712.1,1473.3 L714.6,1473.1 L717.1,1472.8 L719.5,1472.6 L722.0,1472.3 L724.5,1472.1 L726.9,1471.8 L729.4,1471.5 L731.9,1471.2 L734.3,1470.9 L736.8,1470.5 L739.3,1470.2 L741.7,1469.8 L744.2,1469.5 L746.7,1469.1 L749.1,1468.7 L751.6,1468.3 L754.1,1467.9 L756.5,1467.5 L759.0,1467.0 L761.4,1466.6 L763.9,1466.1 L766.3,1465.6 L768.8,1465.1 L771.2,1464.6 L773.7,1464.1 L776.1,1463.6 L778.6,1463.1 L781.0,1462.5 L783.5,1462.0 L785.9,1461.4 L788.3,1460.8 L790.8,1460.2 L793.2,1459.6 L795.6,1459.0 L798.1,1458.3 L800.5,1457.7 L802.9,1457.0 L805.3,1456.4 L807.7,1455.7 L810.1,1455.0 L812.5,1454.3 L815.0,1453.6 L817.4,1452.9 L819.8,1452.1 L822.1,1451.4 L824.5,1450.6 L826.9,1449.8 L829.3,1449.0 L831.7,1448.2 L834.1,1447.4 L836.4,1446.6 L838.8,1445.8 L841.2,1444.9 L843.5,1444.1 L845.9,1443.2 L848.2,1442.3 L850.6,1441.5 L852.9,1440.6 L855.3,1439.6 L857.6,1438.7 L859.9,1437.8 L862.3,1436.8 L864.6,1435.9 L866.9,1434.9 L869.2,1433.9 L871.5,1432.9 L873.8,1431.9 L876.1,1430.9 L878.4,1429.9 L880.7,1428.8 L883.0,1427.8 L885.2,1426.7 L887.5,1425.7 L889.8,1424.6 L892.0,1423.5 L894.3,1422.4 L896.5,1421.3 L898.8,1420.1 L901.0,1419.0 L903.2,1417.8 L905.5,1416.7 L907.7,1415.5 L909.9,1414.3 L912.1,1413.1 L914.3,1411.9 L916.5,1410.7 L918.7,1409.5 L920.8,1408.2 L923.0,1407.0 L925.2,1405.7 L927.3,1404.4 L929.5,1403.2 L931.6,1401.9 L933.8,1400.6 L935.9,1399.2 L938.0,1397.9 L940.1,1396.6 L942.2,1395.2 L944.3,1393.9 L946.4,1392.5 L948.5,1391.1 L950.6,1389.7 L952.7,1388.3 L954.7,1386.9 L956.8,1385.5 L958.8,1384.1 L960.9,1382.6 L962.9,1381.2 L964.9,1379.7 L966.9,1378.2 L968.9,1376.7 L970.9,1375.2 L972.9,1373.7 L974.9,1372.2 L976.8,1370.7 L978.8,1369.1 L980.8,1367.6 L982.7,1366.0 L984.6,1364.4 L986.6,1362.9 L988.5,1361.3 L990.4,1359.7 L992.3,1358.1 L994.2,1356.4 L996.0,1354.8 L997.9,1353.2 L999.8,1351.5 L1001.6,1349.8 L1003.5,1348.2 L1005.3,1346.5 L1007.2,1344.8 L1009.0,1343.1 L1010.8,1341.4 L1012.6,1339.7 L1014.4,1338.0 L1016.2,1336.2 L1017.9,1334.5 L1019.7,1332.7 L1021.5,1331.0 L1023.2,1329.2 L1025.0,1327.4 L1026.7,1325.6 L1028.4,1323.8 L1030.2,1322.0 L1031.9,1320.2 L1033.6,1318.4 L1035.3,1316.6 L1036.9,1314.7 L1038.6,1312.9 L1040.3,1311.0 L1042.0,1309.2 L1043.6,1307.3 L1045.2,1305.4 L1046.9,1303.6 L1048.5,1301.7 L1050.1,1299.8 L1051.7,1297.9 L1053.3,1296.0 L1054.9,1294.0 L1056.5,1292.1 L1058.1,1290.2 L1059.7,1288.3 L1061.2,1286.3 L1062.8,1284.4 L1064.4,1282.4 L1065.9,1280.5 L1067.4,1278.5 L1068.9,1276.5 L1070.5,1274.5 L1072.0,1272.5 L1073.5,1270.5 L1075.0,1268.5 L1076.4,1266.5 L1077.9,1264.5 L1079.4,1262.5 L1080.8,1260.5 L1082.3,1258.5 L1083.7,1256.4 L1085.2,1254.4 L1086.6,1252.3 L1088.0,1250.3 L1089.4,1248.2 L1090.8,1246.1 L1092.2,1244.1 L1093.5,1242.0 L1094.9,1239.9 L1096.3,1237.8 L1097.6,1235.7 L1098.9,1233.6 L1100.3,1231.5 L1101.6,1229.4 L1102.9,1227.3 L1104.2,1225.1 L1105.5,1223.0 L1106.8,1220.9 L1108.0,1218.7 L1109.3,1216.5 L1110.5,1214.4 L1111.7,1212.2 L1113.0,1210.1 L1114.2,1207.9 L1115.4,1205.7 L1116.6,1203.5 L1117.8,1201.3 L1118.9,1199.1 L1120.1,1196.9 L1121.2,1194.7 L1122.4,1192.5 L1123.5,1190.2 L1124.6,1188.0 L1125.7,1185.8 L1126.9,1183.5 L1128.0,1181.3 L1129.1,1179.1 L1130.2,1176.8 L1131.3,1174.6 L1132.3,1172.3 L1133.4,1170.1 L1134.5,1167.8 L1135.6,1165.6 L1136.7,1163.3 L1137.7,1161.0 L1138.8,1158.8 L1139.9,1156.5 L1140.9,1154.2 L1142.0,1152.0 L1143.1,1149.7 L1144.1,1147.4 L1145.2,1145.2 L1146.2,1142.9 L1147.3,1140.6 L1148.3,1138.4 L1149.4,1136.1 L1150.5,1133.8 L1151.5,1131.5 L1152.6,1129.3 L1153.6,1127.0 L1154.7,1124.7 L1155.8,1122.5 L1156.8,1120.2 L1157.9,1117.9 L1159.0,1115.7 L1160.0,1113.4 L1161.1,1111.2 L1162.2,1108.9 L1163.3,1106.6 L1164.4,1104.4 L1165.4,1102.1 L1166.5,1099.9 L1167.6,1097.6 L1168.7,1095.4 L1169.8,1093.1 L1170.9,1090.9 L1172.0,1088.7 L1173.2,1086.4 L1174.3,1084.2 L1175.4,1082.0 L1176.5,1079.7 L1177.7,1077.5 L1178.8,1075.3 L1180.0,1073.1 L1181.1,1070.9 L1182.3,1068.7 L1183.5,1066.5 L1184.7,1064.3 L1185.9,1062.1 L1187.0,1059.9 L1188.3,1057.8 L1189.5,1055.6 L1190.7,1053.4 L1191.9,1051.3 L1193.1,1049.1 L1194.4,1046.9 L1195.6,1044.8 L1196.9,1042.7 L1198.2,1040.5 L1199.4,1038.4 L1200.7,1036.3 L1202.0,1034.1 L1203.3,1032.0 L1204.6,1029.9 L1205.9,1027.8 L1207.3,1025.7 L1208.6,1023.6 L1209.9,1021.5 L1211.3,1019.4 L1212.6,1017.3 L1214.0,1015.2 L1215.3,1013.2 L1216.7,1011.1 L1218.1,1009.0 L1219.5,1006.9 L1220.9,1004.9 L1222.3,1002.8 L1223.7,1000.8 L1225.1,998.7 L1226.5,996.7 L1228.0,994.6 L1229.4,992.6 L1230.9,990.6 L1232.3,988.6 L1233.8,986.5 L1235.2,984.5 L1236.7,982.5 L1238.2,980.5 L1239.7,978.5 L1241.2,976.5 L1242.7,974.5 L1244.2,972.5 L1245.7,970.5 L1247.2,968.5 L1248.8,966.5 L1250.3,964.5 L1251.8,962.5 L1253.4,960.5 L1254.9,958.6 L1256.5,956.6 L1258.0,954.6 L1259.6,952.6 L1261.2,950.7 L1262.7,948.7 L1264.3,946.7 L1265.8,944.8 L1267.4,942.8 L1269.0,940.8 L1270.5,938.8 L1272.1,936.9 L1273.6,934.9 L1275.2,932.9 L1276.8,931.0 L1278.3,929.0 L1279.9,927.0 L1281.4,925.0 L1282.9,923.0 L1284.5,921.0 L1286.0,919.1 L1287.5,917.1 L1289.1,915.1 L1290.6,913.1 L1292.1,911.1 L1293.6,909.1 L1295.1,907.1 L1296.6,905.0 L1298.0,903.0 L1299.5,901.0 L1301.0,899.0 L1302.4,896.9 L1303.9,894.9 L1305.3,892.8 L1306.7,890.8 L1308.1,888.7 L1309.5,886.7 L1310.9,884.6 L1312.2,882.5 L1313.6,880.4 L1314.9,878.3 L1316.3,876.2 L1317.6,874.1 L1318.9,872.0 L1320.2,869.9 L1321.4,867.7 L1322.7,865.6 L1323.9,863.5 L1325.1,861.3 L1326.3,859.1 L1327.5,856.9 L1328.7,854.8 L1329.9,852.6 L1331.0,850.4 L1332.2,848.2 L1333.3,846.0 L1334.4,843.7 L1335.5,841.5 L1336.6,839.3 L1337.6,837.0 L1338.7,834.8 L1339.7,832.5 L1340.8,830.3 L1341.8,828.0 L1342.8,825.7 L1343.8,823.5 L1344.8,821.2 L1345.8,818.9 L1346.7,816.6 L1347.7,814.3 L1348.6,812.0 L1349.6,809.7 L1350.5,807.4 L1351.4,805.0 L1352.3,802.7 L1353.2,800.4 L1354.1,798.0 L1355.0,795.7 L1355.8,793.4 L1356.7,791.0 L1357.5,788.7 L1358.4,786.3 L1359.2,784.0 L1360.0,781.6 L1360.8,779.2 L1361.6,776.9 L1362.5,774.5 L1363.2,772.1 L1364.0,769.7 L1364.8,767.3 L1365.6,765.0 L1366.4,762.6 L1367.1,760.2 L1367.9,757.8 L1368.6,755.4 L1369.4,753.0 L1370.1,750.6 L1370.8,748.2 L1371.6,745.8 L1372.3,743.4 L1373.0,741.0 L1373.7,738.6 L1374.4,736.2 L1375.2,733.8 L1375.9,731.4 L1376.6,729.0 L1377.3,726.6 L1377.9,724.1 L1378.6,721.7 L1379.3,719.3 L1380.0,716.9 L1380.7,714.5 L1381.4,712.1 L1382.0,709.7 L1382.7,707.3 L1383.4,704.8 L1384.0,702.4 L1384.7,700.0 L1385.4,697.6 L1386.0,695.2 L1386.7,692.8 L1387.3,690.3 L1388.0,687.9 L1388.6,685.5 L1389.3,683.1 L1389.9,680.7 L1390.6,678.2 L1391.2,675.8 L1391.8,673.4 L1392.5,671.0 L1393.1,668.6 L1393.7,666.1 L1394.3,663.7 L1395.0,661.3 L1395.6,658.9 L1396.2,656.4 L1396.8,654.0 L1397.4,651.6 L1398.0,649.2 L1398.6,646.8 L1399.2,644.3 L1399.8,641.9 L1400.4,639.5 L1401.0,637.1 L1401.6,634.6 L1402.2,632.2 L1402.8,629.8 L1403.4,627.3 L1404.0,624.9 L1404.6,622.5 L1405.2,620.1 L1405.8,617.6 L1406.4,615.2 L1406.9,612.8 L1407.5,610.4 L1408.1,607.9 L1408.7,605.5 L1409.3,603.1 L1409.8,600.6 L1410.4,598.2 L1411.0,595.8 L1411.6,593.3 L1412.1,590.9 L1412.7,588.5 L1413.3,586.1 L1413.8,583.6 L1414.4,581.2 L1414.9,578.8 L1415.5,576.3 L1416.1,573.9 L1416.6,571.5 L1417.2,569.0 L1417.7,566.6 L1418.3,564.2 L1418.9,561.7 L1419.4,559.3 L1420.0,556.9 L1420.5,554.4 L1421.1,552.0 L1421.6,549.6 L1422.2,547.1 L1422.7,544.7 L1423.3,542.3 L1423.8,539.8 L1424.4,537.4 L1424.9,535.0 L1425.5,532.5 L1426.0,530.1 L1426.5,527.7 L1427.1,525.2 L1427.6,522.8 L1428.2,520.4 L1428.7,517.9 L1429.3,515.5 L1429.8,513.1 L1430.4,510.6 L1430.9,508.2 L1431.4,505.8 L1432.0,503.3 L1432.5,500.9 L1433.1,498.5 L1433.6,496.1 L1434.1,493.6 L1434.7,491.2 L1435.2,488.8 L1435.8,486.3 L1436.3,483.9 L1436.9,481.5 L1437.4,479.0 L1437.9,476.6 L1438.5,474.2 L1439.0,471.7 L1439.6,469.3 L1440.1,466.9 L1440.7,464.4 L1441.2,462.0 L1441.8,459.6 L1442.3,457.1 L1442.9,454.7 L1443.4,452.3 L1443.9,449.8 L1444.5,447.4 L1445.0,445.0 L1445.6,442.6 L1446.1,440.1 L1446.7,437.7 L1447.2,435.3 L1447.8,432.8 L1448.4,430.4 L1448.9,428.0 L1449.5,425.6 L1450.0,423.1 L1450.6,420.7 L1451.1,418.3 L1451.7,415.8 L1452.3,413.4 L1452.8,411.0 L1453.4,408.6 L1453.9,406.1 L1454.5,403.7 L1455.1,401.3 L1455.6,398.9 L1456.2,396.4 L1456.8,394.0 L1457.4,391.6 L1457.9,389.2 L1458.5,386.7 L1459.1,384.3 L1459.7,381.9 L1460.2,379.5 L1460.8,377.0 L1461.4,374.6 L1462.0,372.2 L1462.6,369.8 L1463.2,367.4 L1463.8,364.9 L1464.3,362.5 L1464.9,360.1 L1465.5,357.7 L1466.1,355.3 L1466.8,352.8 L1467.4,350.4 L1468.0,348.0 L1468.6,345.6 L1469.2,343.2 L1469.8,340.8 L1470.5,338.3 L1471.1,335.9 L1471.7,333.5 L1472.4,331.1 L1473.0,328.7 L1473.7,326.3 L1474.3,323.9 L1475.0,321.5 L1475.7,319.0 L1476.3,316.6 L1477.0,314.2 L1477.7,311.8 L1478.4,309.4 L1479.1,307.0 L1479.8,304.6 L1480.5,302.2 L1481.2,299.8 L1481.9,297.4 L1482.7,295.0 L1483.4,292.6 L1484.1,290.2 L1484.9,287.8 L1485.6,285.4 L1486.4,283.0 L1487.2,280.6 L1488.0,278.2 L1488.7,275.8 L1489.5,273.4 L1490.4,271.0 L1491.2,268.6 L1492.0,266.2 L1492.8,263.8 L1493.7,261.4 L1494.5,259.0 L1495.4,256.6 L1496.2,254.2 L1497.1,251.8 L1498.0,249.5 L1498.9,247.1 L1499.8,244.7 L1500.7,242.3 L1501.7,239.9 L1502.7,237.6 L1503.6,235.2 L1504.7,232.8 L1505.7,230.5 L1506.8,228.2 L1508.0,225.9 L1509.2,223.6 L1510.4,221.3 L1511.8,219.1 L1513.2,216.9 L1514.6,214.7 L1516.2,212.5 L1517.8,210.5 L1519.4,208.5 L1521.2,206.7 L1522.9,205.0 L1524.7,203.6 L1526.5,202.4 L1528.4,201.5 L1530.2,200.9 L1532.0,200.7 L1533.8,200.9 L1535.6,201.4 L1537.4,202.2 L1539.2,203.3 L1540.9,204.7 L1542.5,206.3 L1544.1,208.0 L1545.7,210.0 L1547.2,212.0 L1548.6,214.2 L1549.9,216.4 L1551.1,218.7 L1552.3,221.0 L1553.4,223.3 L1554.4,225.7 L1555.3,228.0 L1556.2,230.4 L1557.1,232.8 L1557.9,235.3 L1558.8,237.7 L1559.6,240.1 L1560.4,242.5 L1561.1,245.0 L1561.9,247.4 L1562.7,249.8 L1563.4,252.3 L1564.2,254.7 L1564.9,257.1 L1565.6,259.5 L1566.4,262.0 L1567.1,264.4 L1567.8,266.8 L1568.4,269.3 L1569.1,271.7 L1569.8,274.1 L1570.5,276.6 L1571.1,279.0 L1571.8,281.4 L1572.4,283.9 L1573.0,286.3 L1573.6,288.8 L1574.3,291.2 L1574.9,293.6 L1575.5,296.1 L1576.1,298.5 L1576.6,300.9 L1577.2,303.4 L1577.8,305.8 L1578.4,308.3 L1578.9,310.7 L1579.5,313.2 L1580.0,315.6 L1580.5,318.0 L1581.1,320.5 L1581.6,322.9 L1582.1,325.4 L1582.6,327.8 L1583.1,330.3 L1583.6,332.7 L1584.1,335.2 L1584.6,337.6 L1585.1,340.1 L1585.5,342.5 L1586.0,345.0 L1586.5,347.4 L1586.9,349.9 L1587.4,352.3 L1587.8,354.8 L1588.3,357.2 L1588.7,359.7 L1589.2,362.1 L1589.6,364.6 L1590.0,367.0 L1590.5,369.5 L1590.9,371.9 L1591.3,374.4 L1591.7,376.9 L1592.1,379.3 L1592.5,381.8 L1592.9,384.2 L1593.3,386.7 L1593.7,389.1 L1594.1,391.6 L1594.5,394.1 L1594.9,396.5 L1595.3,399.0 L1595.6,401.4 L1596.0,403.9 L1596.4,406.3 L1596.8,408.8 L1597.1,411.3 L1597.5,413.7 L1597.9,416.2 L1598.2,418.7 L1598.6,421.1 L1599.0,423.6 L1599.3,426.0 L1599.7,428.5 L1600.0,431.0 L1600.4,433.4 L1600.7,435.9 L1601.1,438.4 L1601.5,440.8 L1601.8,443.3 L1602.2,445.7 L1602.5,448.2 L1602.9,450.7 L1603.2,453.1 L1603.6,455.6 L1603.9,458.1 L1604.3,460.5 L1604.6,463.0 L1605.0,465.5 L1605.3,467.9 L1605.7,470.4 L1606.0,472.9 L1606.4,475.3 L1606.7,477.8 L1607.1,480.3 L1607.4,482.8 L1607.8,485.2 L1608.1,487.7 L1608.4,490.2 L1608.8,492.6 L1609.1,495.1 L1609.5,497.6 L1609.8,500.0 L1610.2,502.5 L1610.5,505.0 L1610.9,507.5 L1611.2,509.9 L1611.6,512.4 L1611.9,514.9 L1612.3,517.3 L1612.6,519.8 L1613.0,522.3 L1613.3,524.8 L1613.6,527.2 L1614.0,529.7 L1614.3,532.2 L1614.7,534.6 L1615.0,537.1 L1615.4,539.6 L1615.7,542.1 L1616.1,544.5 L1616.4,547.0 L1616.7,549.5 L1617.1,552.0 L1617.4,554.4 L1617.8,556.9 L1618.1,559.4 L1618.5,561.9 L1618.8,564.3 L1619.2,566.8 L1619.5,569.3 L1619.8,571.8 L1620.2,574.2 L1620.5,576.7 L1620.9,579.2 L1621.2,581.7 L1621.6,584.1 L1621.9,586.6 L1622.2,589.1 L1622.6,591.6 L1622.9,594.1 L1623.3,596.5 L1623.6,599.0 L1624.0,601.5 L1624.3,604.0 L1624.6,606.4 L1625.0,608.9 L1625.3,611.4 L1625.7,613.9 L1626.0,616.3 L1626.4,618.8 L1626.7,621.3 L1627.1,623.8 L1627.4,626.3 L1627.7,628.7 L1628.1,631.2 L1628.4,633.7 L1628.8,636.2 L1629.1,638.7 L1629.5,641.1 L1629.8,643.6 L1630.2,646.1 L1630.5,648.6 L1630.8,651.0 L1631.2,653.5 L1631.5,656.0 L1631.9,658.5 L1632.2,661.0 L1632.6,663.4 L1632.9,665.9 L1633.3,668.4 L1633.6,670.9 L1633.9,673.4 L1634.3,675.8 L1634.6,678.3 L1635.0,680.8 L1635.3,683.3 L1635.7,685.8 L1636.0,688.2 L1636.4,690.7 L1636.7,693.2 L1637.1,695.7 L1637.4,698.2 L1637.8,700.6 L1638.1,703.1 L1638.5,705.6 L1638.8,708.1 L1639.2,710.5 L1639.5,713.0 L1639.8,715.5 L1640.2,718.0 L1640.5,720.5 L1640.9,722.9 L1641.2,725.4 L1641.6,727.9 L1641.9,730.4 L1642.3,732.9 L1642.6,735.3 L1643.0,737.8 L1643.4,740.3 L1643.7,742.8 L1644.1,745.3 L1644.4,747.7 L1644.8,750.2 L1645.1,752.7 L1645.5,755.2 L1645.8,757.7 L1646.2,760.1 L1646.5,762.6 L1646.9,765.1 L1647.2,767.6 L1647.6,770.0 L1647.9,772.5 L1648.3,775.0 L1648.7,777.5 L1649.0,780.0 L1649.4,782.4 L1649.7,784.9 L1650.1,787.4 L1650.4,789.9 L1650.8,792.4 L1651.2,794.8 L1651.5,797.3 L1651.9,799.8 L1652.2,802.3 L1652.6,804.7 L1652.9,807.2 L1653.3,809.7 L1653.7,812.2 L1654.0,814.7 L1654.4,817.1 L1654.8,819.6 L1655.1,822.1 L1655.5,824.6 L1655.8,827.0 L1656.2,829.5 L1656.6,832.0 L1656.9,834.5 L1657.3,836.9 L1657.7,839.4 L1658.0,841.9 L1658.4,844.4 L1658.8,846.8 L1659.1,849.3 L1659.5,851.8 L1659.9,854.3 L1660.2,856.7 L1660.6,859.2 L1661.0,861.7 L1661.3,864.2 L1661.7,866.6 L1662.1,869.1 L1662.5,871.6 L1662.8,874.1 L1663.2,876.5 L1663.6,879.0 L1663.9,881.5 L1664.3,884.0 L1664.7,886.4 L1665.1,888.9 L1665.4,891.4 L1665.8,893.8 L1666.2,896.3 L1666.6,898.8 L1666.9,901.3 L1667.3,903.7 L1667.7,906.2 L1668.1,908.7 L1668.5,911.1 L1668.8,913.6 L1669.2,916.1 L1669.6,918.6 L1670.0,921.0 L1670.4,923.5 L1670.8,926.0 L1671.1,928.4 L1671.5,930.9 L1671.9,933.4 L1672.3,935.8 L1672.7,938.3 L1673.1,940.8 L1673.5,943.2 L1673.8,945.7 L1674.2,948.2 L1674.6,950.6 L1675.0,953.1 L1675.4,955.6 L1675.8,958.0 L1676.2,960.5 L1676.6,963.0 L1677.0,965.4 L1677.4,967.9 L1677.8,970.4 L1678.2,972.8 L1678.6,975.3 L1679.0,977.8 L1679.4,980.2 L1679.8,982.7 L1680.2,985.1 L1680.6,987.6 L1681.0,990.1 L1681.4,992.5 L1681.8,995.0 L1682.2,997.5 L1682.6,999.9 L1683.0,1002.4 L1683.4,1004.8 L1683.8,1007.3 L1684.2,1009.8 L1684.6,1012.2 L1685.0,1014.7 L1685.4,1017.1 L1685.8,1019.6 L1686.2,1022.1 L1686.6,1024.5 L1687.1,1027.0 L1687.5,1029.4 L1687.9,1031.9 L1688.3,1034.3 L1688.7,1036.8 L1689.1,1039.3 L1689.5,1041.7 L1690.0,1044.2 L1690.4,1046.6 L1690.8,1049.1 L1691.2,1051.5 L1691.6,1054.0 L1692.1,1056.4 L1692.5,1058.9 L1692.9,1061.3 L1693.3,1063.8 L1693.8,1066.3 L1694.2,1068.7 L1694.6,1071.2 L1695.0,1073.6 L1695.5,1076.1 L1695.9,1078.5 L1696.3,1081.0 L1696.8,1083.4 L1697.2,1085.9 L1697.6,1088.3 L1698.1,1090.7 L1698.5,1093.2 L1698.9,1095.6 L1699.4,1098.1 L1699.8,1100.5 L1700.2,1103.0 L1700.7,1105.4 L1701.1,1107.9 L1701.6,1110.3 L1702.0,1112.8 L1702.4,1115.2 L1702.9,1117.7 L1703.3,1120.1 L1703.8,1122.5 L1704.2,1125.0 L1704.7,1127.4 L1705.1,1129.9 L1705.6,1132.3 L1706.1,1134.7 L1706.5,1137.2 L1707.0,1139.6 L1707.4,1142.1 L1707.9,1144.5 L1708.4,1146.9 L1708.8,1149.4 L1709.3,1151.8 L1709.8,1154.3 L1710.2,1156.7 L1710.7,1159.1 L1711.2,1161.6 L1711.7,1164.0 L1712.2,1166.4 L1712.7,1168.9 L1713.1,1171.3 L1713.6,1173.7 L1714.1,1176.2 L1714.6,1178.6 L1715.1,1181.0 L1715.6,1183.5 L1716.2,1185.9 L1716.7,1188.3 L1717.2,1190.8 L1717.7,1193.2 L1718.2,1195.6 L1718.7,1198.1 L1719.3,1200.5 L1719.8,1202.9 L1720.3,1205.4 L1720.9,1207.8 L1721.4,1210.2 L1722.0,1212.6 L1722.5,1215.1 L1723.1,1217.5 L1723.6,1219.9 L1724.2,1222.3 L1724.8,1224.8 L1725.3,1227.2 L1725.9,1229.6 L1726.5,1232.0 L1727.1,1234.5 L1727.7,1236.9 L1728.3,1239.3 L1728.9,1241.7 L1729.5,1244.2 L1730.1,1246.6 L1730.7,1249.0 L1731.3,1251.4 L1731.9,1253.9 L1732.6,1256.3 L1733.2,1258.7 L1733.8,1261.1 L1734.5,1263.5 L1735.1,1266.0 L1735.8,1268.4 L1736.4,1270.8 L1737.1,1273.2 L1737.8,1275.6 L1738.5,1278.1 L1739.1,1280.5 L1739.8,1282.9 L1740.5,1285.3 L1741.2,1287.7 L1741.9,1290.1 L1742.6,1292.6 L1743.4,1295.0 L1744.1,1297.4 L1744.8,1299.8 L1745.6,1302.2 L1746.3,1304.6 L1747.1,1307.0 L1747.8,1309.5 L1748.6,1311.9 L1749.3,1314.3 L1750.1,1316.7 L1750.9,1319.1 L1751.7,1321.5 L1752.5,1323.9 L1753.3,1326.3 L1754.1,1328.7 L1754.9,1331.2 L1755.8,1333.6 L1756.6,1336.0 L1757.4,1338.4 L1758.3,1340.8 L1759.1,1343.2 L1760.0,1345.6 L1760.9,1348.0 L1761.8,1350.4 L1762.7,1352.8 L1763.6,1355.2 L1764.5,1357.6 L1765.4,1360.0 L1766.3,1362.3 L1767.3,1364.7 L1768.2,1367.1 L1769.2,1369.4 L1770.2,1371.8 L1771.2,1374.1 L1772.2,1376.4 L1773.2,1378.8 L1774.2,1381.1 L1775.3,1383.4 L1776.3,1385.7 L1777.4,1388.0 L1778.5,1390.3 L1779.6,1392.5 L1780.7,1394.8 L1781.8,1397.0 L1783.0,1399.2 L1784.2,1401.5 L1785.3,1403.7 L1786.5,1405.8 L1787.8,1408.0 L1789.0,1410.2 L1790.2,1412.3 L1791.5,1414.4 L1792.8,1416.6 L1794.1,1418.7 L1795.4,1420.7 L1796.8,1422.8 L1798.2,1424.8 L1799.5,1426.8 L1800.9,1428.8 L1802.4,1430.8 L1803.8,1432.8 L1805.3,1434.7 L1806.8,1436.7 L1808.3,1438.6 L1809.8,1440.4 L1811.4,1442.3 L1813.0,1444.1 L1814.6,1445.9 L1816.2,1447.7 L1817.8,1449.5 L1819.5,1451.2 L1821.2,1452.9 L1822.9,1454.6 L1824.7,1456.3 L1826.5,1457.9 L1828.3,1459.5 L1830.1,1461.1 L1831.9,1462.6 L1833.8,1464.2 L1835.7,1465.7 L1837.7,1467.1 L1839.6,1468.6 L1841.6,1470.0 L1843.6,1471.3 L1845.7,1472.7 L1847.7,1474.0 L1849.8,1475.3 L1852.0,1476.5 L1854.1,1477.8 L1856.3,1479.0 L1858.5,1480.1 L1860.7,1481.3 L1862.9,1482.4 L1865.1,1483.5 L1867.4,1484.5 L1869.7,1485.6 L1872.0,1486.6 L1874.3,1487.6 L1876.6,1488.5 L1879.0,1489.4 L1881.4,1490.3 L1883.7,1491.2 L1886.1,1492.0 L1888.5,1492.9 L1890.9,1493.7 L1893.4,1494.4 L1895.8,1495.2 L1898.2,1495.9 L1900.7,1496.6 L1903.1,1497.3 L1905.6,1497.9 L1908.1,1498.6 L1910.5,1499.2 L1913.0,1499.7 L1915.5,1500.3 L1918.0,1500.8 L1920.5,1501.3 L1922.9,1501.8 L1925.4,1502.3 L1927.9,1502.7 L1930.4,1503.2 L1932.9,1503.6 L1935.4,1503.9 L1937.9,1504.3 L1940.3,1504.6 L1942.8,1505.0 L1945.3,1505.3 L1947.8,1505.6 L1950.3,1505.8 L1952.8,1506.1 L1955.3,1506.3 L1957.8,1506.5 L1960.3,1506.7 L1962.8,1506.9 L1965.2,1507.1 L1967.7,1507.3 L1970.2,1507.4 L1972.7,1507.5 L1975.2,1507.7 L1977.7,1507.8 L1980.2,1507.8 L1982.7,1507.9 L1985.2,1508.0 L1987.7,1508.1 L1990.2,1508.1 L1992.7,1508.1 L1995.2,1508.2 L1997.7,1508.2 L2000.2,1508.2 L2002.7,1508.2 L2005.2,1508.2 L2007.7,1508.2 L2010.1,1508.1 L2012.6,1508.1 L2015.1,1508.1 L2017.6,1508.0 L2020.1,1508.0 L2022.6,1507.9 L2025.1,1507.9 L2027.6,1507.8 L2030.1,1507.7 L2032.6,1507.7 L2035.1,1507.6 L2037.6,1507.5 L2040.1,1507.5 L2042.6,1507.4 L2045.1,1507.3 L2047.6,1507.2 L2050.1,1507.1 L2052.6,1507.1 L2055.1,1507.0 L2057.6,1506.9 L2060.1,1506.8 L2062.6,1506.8 L2065.1,1506.7 L2067.6,1506.6 L2070.1,1506.6 L2072.6,1506.5 L2075.1,1506.4 L2077.6,1506.4 L2080.1,1506.3 L2082.6,1506.3 L2085.1,1506.3 L2087.6,1506.2 L2090.1,1506.2 L2092.6,1506.2 L2095.1,1506.2 L2097.6,1506.2 L2100.1,1506.1 L2102.6,1506.1 L2105.1,1506.1 L2107.6,1506.1 L2110.1,1506.1 L2112.6,1506.2 L2115.1,1506.2 L2117.6,1506.2 L2120.1,1506.2 L2122.6,1506.2 L2125.1,1506.2 L2127.6,1506.3 L2130.1,1506.3 L2132.6,1506.3 L2135.1,1506.4 L2137.6,1506.4 L2140.1,1506.5 L2142.6,1506.5 L2145.1,1506.5 L2147.6,1506.6 L2150.1,1506.6 L2152.6,1506.7 L2155.1,1506.7 L2157.6,1506.8 L2160.1,1506.8 L2162.6,1506.9 L2165.1,1506.9 L2167.6,1507.0 L2170.1,1507.1 L2172.6,1507.1 L2175.1,1507.2 L2177.6,1507.2 L2180.1,1507.3 L2182.6,1507.4 L2185.1,1507.4 L2187.6,1507.5 L2190.1,1507.5 L2192.6,1507.6 L2195.1,1507.6 L2197.6,1507.7 L2200.1,1507.8 L2202.6,1507.8 L2205.1,1507.9 L2207.6,1507.9 L2210.1,1508.0 L2212.6,1508.0 L2215.1,1508.1 L2217.5,1508.1 L2220.0,1508.2 L2222.5,1508.2 L2225.0,1508.3 L2227.5,1508.3 L2230.0,1508.3 L2232.5,1508.4 L2235.0,1508.4 L2237.5,1508.4 L2240.0,1508.5 L2242.5,1508.5 L2245.0,1508.5 L2247.5,1508.5 L2250.0,1508.5 L2252.5,1508.6 L2255.0,1508.6 L2257.5,1508.6 L2260.0,1508.6 L2262.5,1508.6 L2265.0,1508.6 L2267.5,1508.6 L2270.0,1508.5 L2272.5,1508.5 L2275.0,1508.5 L2277.5,1508.5 L2280.0,1508.5 L2282.5,1508.4 L2285.0,1508.4 L2287.5,1508.3 L2290.0,1508.3 L2292.5,1508.2 L2295.0,1508.2 L2297.5,1508.1 L2300.0,1508.0 L2302.5,1507.9 L2305.0,1507.9" fill="none" stroke="#c4187c" stroke-width="2.5" stroke-linejoin="round"/>
<path d="M306.5,1438.5 L309.3,1438.5 L311.7,1438.5 L314.2,1438.6 L316.6,1438.6 L319.1,1438.7 L321.6,1438.7 L324.0,1438.8 L326.5,1438.9 L328.9,1439.0 L331.4,1439.0 L333.9,1439.2 L336.3,1439.3 L338.8,1439.4 L341.3,1439.5 L343.7,1439.6 L346.2,1439.8 L348.7,1439.9 L351.1,1440.1 L353.6,1440.2 L356.1,1440.4 L358.5,1440.6 L361.0,1440.8 L363.5,1441.0 L366.0,1441.2 L368.4,1441.4 L370.9,1441.6 L373.4,1441.8 L375.9,1442.0 L378.4,1442.2 L380.8,1442.4 L383.3,1442.7 L385.8,1442.9 L388.3,1443.2 L390.8,1443.4 L393.2,1443.7 L395.7,1443.9 L398.2,1444.2 L400.7,1444.5 L403.2,1444.7 L405.7,1445.0 L408.1,1445.3 L410.6,1445.6 L413.1,1445.9 L415.6,1446.1 L418.1,1446.4 L420.6,1446.7 L423.1,1447.0 L425.5,1447.4 L428.0,1447.7 L430.5,1448.0 L433.0,1448.3 L435.5,1448.6 L438.0,1448.9 L440.5,1449.2 L443.0,1449.6 L445.5,1449.9 L448.0,1450.2 L450.5,1450.5 L453.0,1450.9 L455.4,1451.2 L457.9,1451.5 L460.4,1451.9 L462.9,1452.2 L465.4,1452.6 L467.9,1452.9 L470.4,1453.2 L472.9,1453.6 L475.4,1453.9 L477.9,1454.3 L480.4,1454.6 L482.9,1454.9 L485.4,1455.3 L487.9,1455.6 L490.4,1456.0 L492.9,1456.3 L495.4,1456.6 L497.9,1457.0 L500.4,1457.3 L502.9,1457.7 L505.4,1458.0 L507.9,1458.3 L510.4,1458.7 L512.9,1459.0 L515.4,1459.3 L517.9,1459.7 L520.4,1460.0 L522.9,1460.3 L525.4,1460.6 L527.9,1461.0 L530.3,1461.3 L532.8,1461.6 L535.3,1461.9 L537.8,1462.2 L540.3,1462.5 L542.8,1462.8 L545.3,1463.1 L547.8,1463.4 L550.3,1463.7 L552.8,1464.0 L555.3,1464.3 L557.8,1464.6 L560.3,1464.9 L562.8,1465.1 L565.3,1465.4 L567.8,1465.7 L570.3,1465.9 L572.8,1466.2 L575.3,1466.5 L577.8,1466.7 L580.3,1467.0 L582.8,1467.2 L585.3,1467.4 L587.8,1467.7 L590.3,1467.9 L592.8,1468.1 L595.3,1468.3 L597.7,1468.5 L600.2,1468.7 L602.7,1468.9 L605.2,1469.1 L607.7,1469.3 L610.2,1469.4 L612.7,1469.6 L615.2,1469.8 L617.7,1469.9 L620.2,1470.1 L622.7,1470.2 L625.1,1470.4 L627.6,1470.5 L630.1,1470.6 L632.6,1470.7 L635.1,1470.8 L637.6,1470.9 L640.1,1471.0 L642.6,1471.1 L645.0,1471.1 L647.5,1471.2 L650.0,1471.2 L652.5,1471.3 L655.0,1471.3 L657.5,1471.3 L659.9,1471.4 L662.4,1471.4 L664.9,1471.4 L667.4,1471.4 L669.9,1471.3 L672.3,1471.3 L674.8,1471.3 L677.3,1471.2 L679.8,1471.2 L682.2,1471.1 L684.7,1471.0 L687.2,1470.9 L689.7,1470.8 L692.1,1470.7 L694.6,1470.6 L697.1,1470.4 L699.5,1470.3 L702.0,1470.1 L704.5,1470.0 L706.9,1469.8 L709.4,1469.6 L711.9,1469.4 L714.3,1469.2 L716.8,1468.9 L719.3,1468.7 L721.7,1468.4 L724.2,1468.2 L726.6,1467.9 L729.1,1467.6 L731.6,1467.3 L734.0,1467.0 L736.5,1466.6 L738.9,1466.3 L741.4,1465.9 L743.8,1465.6 L746.3,1465.2 L748.7,1464.8 L751.2,1464.4 L753.6,1464.0 L756.1,1463.5 L758.5,1463.1 L761.0,1462.7 L763.4,1462.2 L765.9,1461.7 L768.3,1461.2 L770.7,1460.7 L773.2,1460.2 L775.6,1459.7 L778.1,1459.2 L780.5,1458.6 L782.9,1458.1 L785.4,1457.5 L787.8,1456.9 L790.2,1456.3 L792.6,1455.7 L795.1,1455.1 L797.5,1454.5 L799.9,1453.9 L802.3,1453.3 L804.8,1452.6 L807.2,1452.0 L809.6,1451.3 L812.0,1450.6 L814.4,1449.9 L816.8,1449.2 L819.2,1448.5 L821.7,1447.8 L824.1,1447.1 L826.5,1446.3 L828.9,1445.6 L831.3,1444.8 L833.7,1444.1 L836.1,1443.3 L838.5,1442.5 L840.9,1441.7 L843.3,1440.9 L845.7,1440.1 L848.0,1439.3 L850.4,1438.5 L852.8,1437.7 L855.2,1436.8 L857.6,1436.0 L860.0,1435.1 L862.3,1434.3 L864.7,1433.4 L867.1,1432.5 L869.5,1431.6 L871.8,1430.7 L874.2,1429.8 L876.6,1428.9 L878.9,1428.0 L881.3,1427.1 L883.6,1426.1 L886.0,1425.2 L888.3,1424.2 L890.6,1423.2 L893.0,1422.3 L895.3,1421.3 L897.6,1420.3 L900.0,1419.3 L902.3,1418.3 L904.6,1417.2 L906.9,1416.2 L909.2,1415.1 L911.5,1414.1 L913.8,1413.0 L916.0,1411.9 L918.3,1410.9 L920.6,1409.8 L922.8,1408.6 L925.1,1407.5 L927.3,1406.4 L929.6,1405.2 L931.8,1404.1 L934.0,1402.9 L936.3,1401.8 L938.5,1400.6 L940.7,1399.4 L942.9,1398.2 L945.1,1396.9 L947.2,1395.7 L949.4,1394.4 L951.6,1393.2 L953.7,1391.9 L955.8,1390.6 L958.0,1389.3 L960.1,1388.0 L962.2,1386.7 L964.3,1385.4 L966.4,1384.0 L968.5,1382.7 L970.6,1381.3 L972.6,1379.9 L974.7,1378.5 L976.7,1377.1 L978.7,1375.7 L980.8,1374.2 L982.8,1372.8 L984.8,1371.3 L986.7,1369.8 L988.7,1368.3 L990.7,1366.8 L992.6,1365.3 L994.5,1363.8 L996.5,1362.2 L998.4,1360.7 L1000.3,1359.1 L1002.2,1357.5 L1004.0,1355.9 L1005.9,1354.3 L1007.8,1352.7 L1009.6,1351.0 L1011.4,1349.4 L1013.2,1347.7 L1015.1,1346.0 L1016.9,1344.4 L1018.6,1342.7 L1020.4,1341.0 L1022.2,1339.2 L1023.9,1337.5 L1025.7,1335.7 L1027.4,1334.0 L1029.1,1332.2 L1030.8,1330.4 L1032.5,1328.7 L1034.2,1326.9 L1035.9,1325.0 L1037.6,1323.2 L1039.3,1321.4 L1040.9,1319.5 L1042.5,1317.7 L1044.2,1315.8 L1045.8,1314.0 L1047.4,1312.1 L1049.0,1310.2 L1050.6,1308.3 L1052.2,1306.4 L1053.8,1304.5 L1055.3,1302.5 L1056.9,1300.6 L1058.4,1298.6 L1060.0,1296.7 L1061.5,1294.7 L1063.0,1292.8 L1064.5,1290.8 L1066.0,1288.8 L1067.5,1286.8 L1069.0,1284.8 L1070.5,1282.8 L1071.9,1280.8 L1073.4,1278.7 L1074.8,1276.7 L1076.3,1274.6 L1077.7,1272.6 L1079.1,1270.5 L1080.5,1268.5 L1082.0,1266.4 L1083.3,1264.3 L1084.7,1262.2 L1086.1,1260.2 L1087.5,1258.1 L1088.9,1256.0 L1090.2,1253.9 L1091.6,1251.7 L1092.9,1249.6 L1094.3,1247.5 L1095.6,1245.4 L1096.9,1243.2 L1098.2,1241.1 L1099.5,1238.9 L1100.8,1236.8 L1102.1,1234.6 L1103.4,1232.5 L1104.7,1230.3 L1106.0,1228.1 L1107.2,1226.0 L1108.5,1223.8 L1109.8,1221.6 L1111.0,1219.4 L1112.3,1217.2 L1113.5,1215.0 L1114.7,1212.8 L1115.9,1210.6 L1117.2,1208.4 L1118.4,1206.2 L1119.6,1204.0 L1120.8,1201.8 L1122.0,1199.6 L1123.1,1197.3 L1124.3,1195.1 L1125.5,1192.9 L1126.7,1190.7 L1127.8,1188.4 L1129.0,1186.2 L1130.1,1184.0 L1131.3,1181.7 L1132.4,1179.5 L1133.6,1177.3 L1134.7,1175.0 L1135.8,1172.8 L1136.9,1170.5 L1138.1,1168.3 L1139.2,1166.0 L1140.3,1163.8 L1141.4,1161.5 L1142.5,1159.3 L1143.6,1157.1 L1144.7,1154.8 L1145.8,1152.6 L1146.8,1150.3 L1147.9,1148.1 L1149.0,1145.8 L1150.1,1143.6 L1151.2,1141.3 L1152.3,1139.1 L1153.3,1136.8 L1154.4,1134.6 L1155.5,1132.3 L1156.6,1130.1 L1157.7,1127.8 L1158.7,1125.6 L1159.8,1123.4 L1160.9,1121.1 L1162.0,1118.9 L1163.1,1116.6 L1164.2,1114.4 L1165.2,1112.2 L1166.3,1109.9 L1167.4,1107.7 L1168.5,1105.5 L1169.6,1103.2 L1170.7,1101.0 L1171.9,1098.8 L1173.0,1096.6 L1174.1,1094.4 L1175.2,1092.1 L1176.4,1089.9 L1177.5,1087.7 L1178.6,1085.5 L1179.8,1083.3 L1180.9,1081.1 L1182.1,1078.9 L1183.3,1076.7 L1184.5,1074.5 L1185.7,1072.3 L1186.8,1070.2 L1188.1,1068.0 L1189.3,1065.8 L1190.5,1063.6 L1191.7,1061.5 L1193.0,1059.3 L1194.2,1057.1 L1195.5,1055.0 L1196.7,1052.8 L1198.0,1050.7 L1199.3,1048.6 L1200.6,1046.4 L1201.9,1044.3 L1203.2,1042.2 L1204.6,1040.0 L1205.9,1037.9 L1207.2,1035.8 L1208.6,1033.7 L1209.9,1031.6 L1211.3,1029.5 L1212.7,1027.4 L1214.1,1025.3 L1215.5,1023.2 L1216.9,1021.2 L1218.3,1019.1 L1219.7,1017.0 L1221.1,1015.0 L1222.5,1012.9 L1224.0,1010.9 L1225.4,1008.8 L1226.9,1006.8 L1228.4,1004.7 L1229.8,1002.7 L1231.3,1000.7 L1232.8,998.7 L1234.3,996.7 L1235.8,994.7 L1237.3,992.7 L1238.9,990.7 L1240.4,988.7 L1241.9,986.7 L1243.5,984.7 L1245.0,982.8 L1246.6,980.8 L1248.2,978.9 L1249.7,976.9 L1251.3,975.0 L1252.9,973.0 L1254.5,971.1 L1256.1,969.2 L1257.7,967.3 L1259.3,965.4 L1261.0,963.5 L1262.6,961.6 L1264.2,959.7 L1265.9,957.8 L1267.5,955.9 L1269.2,954.1 L1270.9,952.2 L1272.5,950.4 L1274.2,948.5 L1275.9,946.7 L1277.6,944.8 L1279.2,943.0 L1280.9,941.1 L1282.6,939.3 L1284.2,937.4 L1285.9,935.6 L1287.6,933.8 L1289.2,931.9 L1290.9,930.1 L1292.5,928.2 L1294.2,926.3 L1295.8,924.5 L1297.4,922.6 L1299.1,920.7 L1300.7,918.8 L1302.2,916.9 L1303.8,915.0 L1305.4,913.1 L1307.0,911.2 L1308.5,909.3 L1310.0,907.3 L1311.5,905.4 L1313.0,903.4 L1314.5,901.4 L1315.9,899.4 L1317.4,897.4 L1318.8,895.4 L1320.2,893.4 L1321.6,891.3 L1322.9,889.2 L1324.2,887.2 L1325.5,885.1 L1326.8,882.9 L1328.1,880.8 L1329.4,878.7 L1330.6,876.5 L1331.8,874.3 L1333.0,872.2 L1334.2,870.0 L1335.4,867.8 L1336.5,865.5 L1337.7,863.3 L1338.8,861.1 L1339.9,858.8 L1341.0,856.6 L1342.0,854.3 L1343.1,852.1 L1344.1,849.8 L1345.2,847.5 L1346.2,845.2 L1347.2,842.9 L1348.2,840.6 L1349.2,838.3 L1350.2,835.9 L1351.1,833.6 L1352.1,831.3 L1353.0,829.0 L1353.9,826.6 L1354.9,824.3 L1355.8,821.9 L1356.7,819.6 L1357.6,817.2 L1358.4,814.9 L1359.3,812.5 L1360.2,810.2 L1361.0,807.8 L1361.9,805.5 L1362.7,803.1 L1363.6,800.8 L1364.4,798.4 L1365.2,796.0 L1366.1,793.7 L1366.9,791.3 L1367.7,788.9 L1368.4,786.5 L1369.2,784.2 L1370.0,781.8 L1370.8,779.4 L1371.5,777.0 L1372.3,774.6 L1373.1,772.3 L1373.8,769.9 L1374.5,767.5 L1375.3,765.1 L1376.0,762.7 L1376.7,760.3 L1377.4,757.9 L1378.1,755.5 L1378.8,753.1 L1379.5,750.7 L1380.2,748.3 L1380.9,745.9 L1381.6,743.5 L1382.3,741.1 L1382.9,738.7 L1383.6,736.3 L1384.2,733.9 L1384.9,731.5 L1385.5,729.1 L1386.2,726.7 L1386.8,724.3 L1387.4,721.9 L1388.1,719.4 L1388.7,717.0 L1389.3,714.6 L1389.9,712.2 L1390.5,709.8 L1391.1,707.3 L1391.7,704.9 L1392.3,702.5 L1392.9,700.1 L1393.5,697.6 L1394.1,695.2 L1394.7,692.8 L1395.2,690.4 L1395.8,687.9 L1396.4,685.5 L1396.9,683.1 L1397.5,680.6 L1398.1,678.2 L1398.6,675.8 L1399.2,673.3 L1399.7,670.9 L1400.3,668.5 L1400.8,666.0 L1401.3,663.6 L1401.9,661.2 L1402.4,658.7 L1402.9,656.3 L1403.5,653.8 L1404.0,651.4 L1404.5,649.0 L1405.1,646.5 L1405.6,644.1 L1406.1,641.6 L1406.6,639.2 L1407.1,636.7 L1407.6,634.3 L1408.2,631.8 L1408.7,629.4 L1409.2,627.0 L1409.7,624.5 L1410.2,622.1 L1410.7,619.6 L1411.2,617.2 L1411.7,614.7 L1412.2,612.3 L1412.7,609.8 L1413.2,607.4 L1413.7,604.9 L1414.2,602.5 L1414.7,600.0 L1415.2,597.6 L1415.7,595.1 L1416.2,592.7 L1416.7,590.2 L1417.2,587.8 L1417.7,585.3 L1418.2,582.9 L1418.7,580.4 L1419.2,578.0 L1419.7,575.5 L1420.2,573.1 L1420.7,570.6 L1421.2,568.2 L1421.7,565.8 L1422.2,563.3 L1422.7,560.9 L1423.2,558.4 L1423.7,556.0 L1424.2,553.5 L1424.7,551.1 L1425.3,548.6 L1425.8,546.2 L1426.3,543.7 L1426.8,541.3 L1427.3,538.8 L1427.8,536.4 L1428.3,533.9 L1428.8,531.5 L1429.4,529.0 L1429.9,526.6 L1430.4,524.2 L1430.9,521.7 L1431.4,519.3 L1432.0,516.8 L1432.5,514.4 L1433.0,511.9 L1433.5,509.5 L1434.0,507.0 L1434.6,504.6 L1435.1,502.2 L1435.6,499.7 L1436.1,497.3 L1436.7,494.8 L1437.2,492.4 L1437.7,489.9 L1438.2,487.5 L1438.8,485.1 L1439.3,482.6 L1439.8,480.2 L1440.3,477.7 L1440.9,475.3 L1441.4,472.8 L1441.9,470.4 L1442.5,468.0 L1443.0,465.5 L1443.5,463.1 L1444.0,460.6 L1444.6,458.2 L1445.1,455.7 L1445.6,453.3 L1446.2,450.9 L1446.7,448.4 L1447.2,446.0 L1447.8,443.5 L1448.3,441.1 L1448.8,438.6 L1449.3,436.2 L1449.9,433.8 L1450.4,431.3 L1450.9,428.9 L1451.5,426.4 L1452.0,424.0 L1452.5,421.5 L1453.0,419.1 L1453.6,416.7 L1454.1,414.2 L1454.6,411.8 L1455.2,409.3 L1455.7,406.9 L1456.2,404.4 L1456.7,402.0 L1457.3,399.6 L1457.8,397.1 L1458.3,394.7 L1458.8,392.2 L1459.4,389.8 L1459.9,387.3 L1460.4,384.9 L1460.9,382.5 L1461.5,380.0 L1462.0,377.6 L1462.5,375.1 L1463.0,372.7 L1463.6,370.2 L1464.1,367.8 L1464.6,365.4 L1465.1,362.9 L1465.6,360.5 L1466.2,358.0 L1466.7,355.6 L1467.2,353.1 L1467.7,350.7 L1468.2,348.2 L1468.8,345.8 L1469.3,343.4 L1469.8,340.9 L1470.3,338.5 L1470.9,336.0 L1471.4,333.6 L1471.9,331.1 L1472.4,328.7 L1473.0,326.3 L1473.5,323.8 L1474.0,321.4 L1474.6,318.9 L1475.1,316.5 L1475.7,314.1 L1476.2,311.6 L1476.8,309.2 L1477.3,306.8 L1477.9,304.3 L1478.5,301.9 L1479.0,299.5 L1479.6,297.0 L1480.2,294.6 L1480.8,292.2 L1481.4,289.7 L1481.9,287.3 L1482.5,284.9 L1483.2,282.4 L1483.8,280.0 L1484.4,277.6 L1485.0,275.2 L1485.6,272.7 L1486.3,270.3 L1486.9,267.9 L1487.5,265.5 L1488.2,263.1 L1488.8,260.6 L1489.5,258.2 L1490.2,255.8 L1490.9,253.4 L1491.6,251.0 L1492.3,248.6 L1493.0,246.2 L1493.7,243.8 L1494.5,241.4 L1495.2,239.0 L1496.0,236.6 L1496.7,234.3 L1497.5,231.9 L1498.4,229.6 L1499.2,227.2 L1500.0,224.9 L1500.9,222.6 L1501.8,220.2 L1502.6,217.9 L1503.6,215.6 L1504.5,213.3 L1505.4,211.0 L1506.3,208.7 L1507.3,206.4 L1508.2,204.1 L1509.2,201.8 L1510.1,199.5 L1511.1,197.2 L1512.0,194.9 L1513.0,192.5 L1513.9,190.2 L1514.9,187.8 L1515.8,185.5 L1516.8,183.1 L1517.9,180.8 L1519.1,178.6 L1520.4,176.4 L1521.9,174.3 L1523.6,172.3 L1525.5,170.4 L1527.7,168.7 L1530.2,167.1 L1532.7,165.9 L1535.2,165.1 L1537.6,164.9 L1539.7,165.4 L1541.6,166.6 L1543.3,168.1 L1544.8,170.0 L1546.3,171.9 L1547.7,173.9 L1549.1,175.9 L1550.4,178.0 L1551.7,180.1 L1552.9,182.2 L1554.1,184.4 L1555.2,186.5 L1556.3,188.7 L1557.4,191.0 L1558.4,193.2 L1559.4,195.5 L1560.4,197.8 L1561.3,200.1 L1562.2,202.4 L1563.0,204.7 L1563.9,207.1 L1564.7,209.5 L1565.5,211.9 L1566.3,214.3 L1567.0,216.7 L1567.8,219.1 L1568.5,221.5 L1569.2,223.9 L1569.9,226.4 L1570.6,228.8 L1571.3,231.2 L1571.9,233.7 L1572.6,236.1 L1573.2,238.6 L1573.9,241.0 L1574.5,243.4 L1575.2,245.9 L1575.8,248.3 L1576.4,250.8 L1577.0,253.2 L1577.6,255.6 L1578.2,258.1 L1578.8,260.5 L1579.4,263.0 L1580.0,265.4 L1580.5,267.9 L1581.1,270.3 L1581.7,272.7 L1582.2,275.2 L1582.8,277.6 L1583.3,280.1 L1583.8,282.5 L1584.4,285.0 L1584.9,287.4 L1585.4,289.9 L1585.9,292.3 L1586.4,294.8 L1586.9,297.2 L1587.4,299.7 L1587.9,302.1 L1588.4,304.6 L1588.9,307.0 L1589.3,309.5 L1589.8,311.9 L1590.3,314.4 L1590.7,316.9 L1591.2,319.3 L1591.6,321.8 L1592.1,324.2 L1592.5,326.7 L1592.9,329.1 L1593.4,331.6 L1593.8,334.0 L1594.2,336.5 L1594.6,339.0 L1595.0,341.4 L1595.5,343.9 L1595.9,346.3 L1596.3,348.8 L1596.7,351.3 L1597.1,353.7 L1597.5,356.2 L1597.8,358.6 L1598.2,361.1 L1598.6,363.6 L1599.0,366.0 L1599.4,368.5 L1599.7,370.9 L1600.1,373.4 L1600.5,375.9 L1600.8,378.3 L1601.2,380.8 L1601.5,383.3 L1601.9,385.7 L1602.3,388.2 L1602.6,390.7 L1603.0,393.1 L1603.3,395.6 L1603.6,398.1 L1604.0,400.5 L1604.3,403.0 L1604.7,405.5 L1605.0,407.9 L1605.3,410.4 L1605.7,412.9 L1606.0,415.3 L1606.3,417.8 L1606.7,420.3 L1607.0,422.7 L1607.3,425.2 L1607.6,427.7 L1608.0,430.2 L1608.3,432.6 L1608.6,435.1 L1608.9,437.6 L1609.3,440.0 L1609.6,442.5 L1609.9,445.0 L1610.2,447.5 L1610.5,449.9 L1610.9,452.4 L1611.2,454.9 L1611.5,457.3 L1611.8,459.8 L1612.1,462.3 L1612.4,464.8 L1612.8,467.2 L1613.1,469.7 L1613.4,472.2 L1613.7,474.7 L1614.0,477.1 L1614.3,479.6 L1614.7,482.1 L1615.0,484.6 L1615.3,487.0 L1615.6,489.5 L1615.9,492.0 L1616.2,494.5 L1616.6,497.0 L1616.9,499.4 L1617.2,501.9 L1617.5,504.4 L1617.8,506.9 L1618.1,509.3 L1618.4,511.8 L1618.8,514.3 L1619.1,516.8 L1619.4,519.2 L1619.7,521.7 L1620.0,524.2 L1620.3,526.7 L1620.6,529.2 L1621.0,531.6 L1621.3,534.1 L1621.6,536.6 L1621.9,539.1 L1622.2,541.6 L1622.5,544.0 L1622.8,546.5 L1623.2,549.0 L1623.5,551.5 L1623.8,554.0 L1624.1,556.4 L1624.4,558.9 L1624.7,561.4 L1625.0,563.9 L1625.4,566.4 L1625.7,568.8 L1626.0,571.3 L1626.3,573.8 L1626.6,576.3 L1626.9,578.8 L1627.2,581.3 L1627.6,583.7 L1627.9,586.2 L1628.2,588.7 L1628.5,591.2 L1628.8,593.7 L1629.1,596.1 L1629.4,598.6 L1629.8,601.1 L1630.1,603.6 L1630.4,606.1 L1630.7,608.6 L1631.0,611.0 L1631.3,613.5 L1631.6,616.0 L1632.0,618.5 L1632.3,621.0 L1632.6,623.5 L1632.9,625.9 L1633.2,628.4 L1633.5,630.9 L1633.9,633.4 L1634.2,635.9 L1634.5,638.4 L1634.8,640.8 L1635.1,643.3 L1635.4,645.8 L1635.8,648.3 L1636.1,650.8 L1636.4,653.3 L1636.7,655.7 L1637.0,658.2 L1637.4,660.7 L1637.7,663.2 L1638.0,665.7 L1638.3,668.2 L1638.6,670.6 L1639.0,673.1 L1639.3,675.6 L1639.6,678.1 L1639.9,680.6 L1640.2,683.1 L1640.6,685.6 L1640.9,688.0 L1641.2,690.5 L1641.5,693.0 L1641.8,695.5 L1642.2,698.0 L1642.5,700.5 L1642.8,702.9 L1643.1,705.4 L1643.5,707.9 L1643.8,710.4 L1644.1,712.9 L1644.4,715.4 L1644.8,717.8 L1645.1,720.3 L1645.4,722.8 L1645.7,725.3 L1646.1,727.8 L1646.4,730.3 L1646.7,732.7 L1647.0,735.2 L1647.4,737.7 L1647.7,740.2 L1648.0,742.7 L1648.4,745.2 L1648.7,747.6 L1649.0,750.1 L1649.3,752.6 L1649.7,755.1 L1650.0,757.6 L1650.3,760.0 L1650.7,762.5 L1651.0,765.0 L1651.3,767.5 L1651.7,770.0 L1652.0,772.5 L1652.3,774.9 L1652.7,777.4 L1653.0,779.9 L1653.4,782.4 L1653.7,784.9 L1654.0,787.4 L1654.4,789.8 L1654.7,792.3 L1655.0,794.8 L1655.4,797.3 L1655.7,799.8 L1656.1,802.2 L1656.4,804.7 L1656.7,807.2 L1657.1,809.7 L1657.4,812.2 L1657.8,814.6 L1658.1,817.1 L1658.5,819.6 L1658.8,822.1 L1659.1,824.6 L1659.5,827.0 L1659.8,829.5 L1660.2,832.0 L1660.5,834.5 L1660.9,837.0 L1661.2,839.4 L1661.6,841.9 L1661.9,844.4 L1662.3,846.9 L1662.6,849.3 L1663.0,851.8 L1663.3,854.3 L1663.7,856.8 L1664.0,859.2 L1664.4,861.7 L1664.7,864.2 L1665.1,866.7 L1665.5,869.2 L1665.8,871.6 L1666.2,874.1 L1666.5,876.6 L1666.9,879.1 L1667.3,881.5 L1667.6,884.0 L1668.0,886.5 L1668.3,889.0 L1668.7,891.4 L1669.1,893.9 L1669.4,896.4 L1669.8,898.9 L1670.2,901.3 L1670.5,903.8 L1670.9,906.3 L1671.3,908.7 L1671.6,911.2 L1672.0,913.7 L1672.4,916.2 L1672.7,918.6 L1673.1,921.1 L1673.5,923.6 L1673.9,926.0 L1674.2,928.5 L1674.6,931.0 L1675.0,933.5 L1675.4,935.9 L1675.7,938.4 L1676.1,940.9 L1676.5,943.3 L1676.9,945.8 L1677.3,948.3 L1677.6,950.7 L1678.0,953.2 L1678.4,955.7 L1678.8,958.1 L1679.2,960.6 L1679.6,963.1 L1679.9,965.5 L1680.3,968.0 L1680.7,970.5 L1681.1,972.9 L1681.5,975.4 L1681.9,977.9 L1682.3,980.3 L1682.7,982.8 L1683.1,985.3 L1683.5,987.7 L1683.9,990.2 L1684.3,992.7 L1684.7,995.1 L1685.1,997.6 L1685.5,1000.0 L1685.9,1002.5 L1686.3,1005.0 L1686.7,1007.4 L1687.1,1009.9 L1687.5,1012.3 L1687.9,1014.8 L1688.3,1017.3 L1688.7,1019.7 L1689.1,1022.2 L1689.5,1024.6 L1689.9,1027.1 L1690.3,1029.6 L1690.7,1032.0 L1691.2,1034.5 L1691.6,1036.9 L1692.0,1039.4 L1692.4,1041.8 L1692.8,1044.3 L1693.2,1046.7 L1693.7,1049.2 L1694.1,1051.7 L1694.5,1054.1 L1694.9,1056.6 L1695.4,1059.0 L1695.8,1061.5 L1696.2,1063.9 L1696.6,1066.4 L1697.1,1068.8 L1697.5,1071.3 L1697.9,1073.7 L1698.4,1076.2 L1698.8,1078.6 L1699.2,1081.1 L1699.7,1083.5 L1700.1,1086.0 L1700.5,1088.4 L1701.0,1090.9 L1701.4,1093.3 L1701.9,1095.8 L1702.3,1098.2 L1702.7,1100.7 L1703.2,1103.1 L1703.6,1105.5 L1704.1,1108.0 L1704.5,1110.4 L1705.0,1112.9 L1705.4,1115.3 L1705.9,1117.8 L1706.3,1120.2 L1706.8,1122.6 L1707.2,1125.1 L1707.7,1127.5 L1708.2,1130.0 L1708.6,1132.4 L1709.1,1134.8 L1709.6,1137.3 L1710.0,1139.7 L1710.5,1142.2 L1711.0,1144.6 L1711.4,1147.0 L1711.9,1149.5 L1712.4,1151.9 L1712.9,1154.3 L1713.4,1156.8 L1713.8,1159.2 L1714.3,1161.7 L1714.8,1164.1 L1715.3,1166.5 L1715.8,1169.0 L1716.3,1171.4 L1716.8,1173.8 L1717.3,1176.3 L1717.8,1178.7 L1718.3,1181.1 L1718.9,1183.6 L1719.4,1186.0 L1719.9,1188.4 L1720.4,1190.9 L1720.9,1193.3 L1721.5,1195.7 L1722.0,1198.1 L1722.5,1200.6 L1723.1,1203.0 L1723.6,1205.4 L1724.2,1207.9 L1724.7,1210.3 L1725.3,1212.7 L1725.8,1215.1 L1726.4,1217.6 L1727.0,1220.0 L1727.5,1222.4 L1728.1,1224.9 L1728.7,1227.3 L1729.3,1229.7 L1729.8,1232.1 L1730.4,1234.6 L1731.0,1237.0 L1731.6,1239.4 L1732.2,1241.8 L1732.8,1244.3 L1733.5,1246.7 L1734.1,1249.1 L1734.7,1251.5 L1735.3,1254.0 L1736.0,1256.4 L1736.6,1258.8 L1737.2,1261.2 L1737.9,1263.7 L1738.5,1266.1 L1739.2,1268.5 L1739.8,1270.9 L1740.5,1273.4 L1741.2,1275.8 L1741.9,1278.2 L1742.5,1280.6 L1743.2,1283.0 L1743.9,1285.5 L1744.6,1287.9 L1745.3,1290.3 L1746.0,1292.7 L1746.7,1295.2 L1747.5,1297.6 L1748.2,1300.0 L1748.9,1302.4 L1749.7,1304.8 L1750.4,1307.3 L1751.2,1309.7 L1751.9,1312.1 L1752.7,1314.5 L1753.5,1316.9 L1754.2,1319.4 L1755.0,1321.8 L1755.8,1324.2 L1756.6,1326.6 L1757.4,1329.0 L1758.2,1331.5 L1759.0,1333.9 L1759.8,1336.3 L1760.7,1338.7 L1761.5,1341.1 L1762.3,1343.6 L1763.2,1346.0 L1764.1,1348.4 L1764.9,1350.8 L1765.8,1353.2 L1766.7,1355.6 L1767.6,1358.0 L1768.5,1360.4 L1769.4,1362.8 L1770.3,1365.2 L1771.3,1367.5 L1772.2,1369.9 L1773.2,1372.3 L1774.2,1374.6 L1775.2,1377.0 L1776.2,1379.3 L1777.2,1381.6 L1778.2,1383.9 L1779.2,1386.3 L1780.3,1388.6 L1781.4,1390.8 L1782.4,1393.1 L1783.5,1395.4 L1784.7,1397.6 L1785.8,1399.9 L1786.9,1402.1 L1788.1,1404.3 L1789.3,1406.5 L1790.5,1408.7 L1791.7,1410.9 L1792.9,1413.0 L1794.2,1415.1 L1795.5,1417.3 L1796.7,1419.4 L1798.1,1421.5 L1799.4,1423.5 L1800.7,1425.6 L1802.1,1427.6 L1803.5,1429.6 L1804.9,1431.6 L1806.3,1433.6 L1807.8,1435.5 L1809.3,1437.4 L1810.8,1439.4 L1812.3,1441.2 L1813.8,1443.1 L1815.4,1444.9 L1817.0,1446.7 L1818.6,1448.5 L1820.3,1450.3 L1821.9,1452.0 L1823.6,1453.7 L1825.3,1455.4 L1827.1,1457.1 L1828.8,1458.7 L1830.6,1460.3 L1832.5,1461.9 L1834.3,1463.5 L1836.2,1465.0 L1838.1,1466.5 L1840.0,1467.9 L1842.0,1469.4 L1844.0,1470.8 L1846.0,1472.1 L1848.0,1473.5 L1850.1,1474.8 L1852.2,1476.1 L1854.3,1477.3 L1856.5,1478.6 L1858.6,1479.7 L1860.8,1480.9 L1863.0,1482.1 L1865.2,1483.2 L1867.5,1484.2 L1869.7,1485.3 L1872.0,1486.3 L1874.3,1487.3 L1876.6,1488.3 L1879.0,1489.2 L1881.3,1490.2 L1883.7,1491.1 L1886.1,1491.9 L1888.4,1492.8 L1890.8,1493.6 L1893.3,1494.4 L1895.7,1495.1 L1898.1,1495.9 L1900.5,1496.6 L1903.0,1497.3 L1905.4,1497.9 L1907.9,1498.6 L1910.4,1499.2 L1912.8,1499.8 L1915.3,1500.3 L1917.8,1500.9 L1920.2,1501.4 L1922.7,1501.9 L1925.2,1502.4 L1927.7,1502.8 L1930.2,1503.3 L1932.7,1503.7 L1935.1,1504.1 L1937.6,1504.4 L1940.1,1504.8 L1942.6,1505.1 L1945.1,1505.4 L1947.6,1505.7 L1950.1,1506.0 L1952.5,1506.2 L1955.0,1506.5 L1957.5,1506.7 L1960.0,1506.9 L1962.5,1507.1 L1965.0,1507.3 L1967.5,1507.4 L1970.0,1507.6 L1972.5,1507.7 L1975.0,1507.8 L1977.5,1507.9 L1980.0,1508.0 L1982.5,1508.1 L1985.0,1508.1 L1987.5,1508.2 L1990.0,1508.2 L1992.5,1508.3 L1995.0,1508.3 L1997.5,1508.3 L2000.0,1508.3 L2002.5,1508.3 L2005.0,1508.3 L2007.5,1508.3 L2010.0,1508.3 L2012.5,1508.2 L2015.0,1508.2 L2017.5,1508.1 L2020.0,1508.1 L2022.5,1508.0 L2025.0,1508.0 L2027.5,1507.9 L2030.0,1507.8 L2032.5,1507.8 L2035.0,1507.7 L2037.5,1507.6 L2040.0,1507.5 L2042.5,1507.4 L2045.0,1507.4 L2047.5,1507.3 L2050.0,1507.2 L2052.5,1507.1 L2055.0,1507.0 L2057.5,1507.0 L2060.1,1506.9 L2062.6,1506.8 L2065.1,1506.7 L2067.6,1506.7 L2070.1,1506.6 L2072.6,1506.5 L2075.1,1506.5 L2077.6,1506.4 L2080.1,1506.4 L2082.6,1506.3 L2085.1,1506.3 L2087.6,1506.3 L2090.1,1506.3 L2092.6,1506.2 L2095.1,1506.2 L2097.6,1506.2 L2100.1,1506.2 L2102.6,1506.2 L2105.1,1506.2 L2107.6,1506.2 L2110.1,1506.2 L2112.6,1506.2 L2115.1,1506.2 L2117.6,1506.3 L2120.1,1506.3 L2122.6,1506.3 L2125.1,1506.3 L2127.6,1506.4 L2130.1,1506.4 L2132.6,1506.5 L2135.1,1506.5 L2137.6,1506.5 L2140.1,1506.6 L2142.6,1506.6 L2145.1,1506.7 L2147.6,1506.7 L2150.1,1506.8 L2152.6,1506.9 L2155.1,1506.9 L2157.6,1507.0 L2160.1,1507.0 L2162.6,1507.1 L2165.1,1507.2 L2167.6,1507.2 L2170.1,1507.3 L2172.5,1507.3 L2175.0,1507.4 L2177.5,1507.5 L2180.0,1507.5 L2182.5,1507.6 L2185.0,1507.7 L2187.5,1507.7 L2190.0,1507.8 L2192.5,1507.9 L2195.0,1507.9 L2197.5,1508.0 L2200.0,1508.1 L2202.5,1508.1 L2205.0,1508.2 L2207.5,1508.3 L2210.0,1508.3 L2212.5,1508.4 L2215.0,1508.4 L2217.5,1508.5 L2220.0,1508.5 L2222.5,1508.6 L2225.0,1508.6 L2227.5,1508.7 L2230.0,1508.7 L2232.5,1508.8 L2235.0,1508.8 L2237.5,1508.9 L2240.0,1508.9 L2242.5,1508.9 L2245.0,1508.9 L2247.5,1509.0 L2250.0,1509.0 L2252.5,1509.0 L2255.0,1509.0 L2257.5,1509.0 L2260.0,1509.0 L2262.5,1509.0 L2265.0,1509.0 L2267.5,1509.0 L2270.0,1509.0 L2272.5,1509.0 L2275.0,1509.0 L2277.5,1509.0 L2280.0,1508.9 L2282.5,1508.9 L2285.0,1508.9 L2287.5,1508.8 L2290.0,1508.8 L2292.5,1508.7 L2295.0,1508.6 L2297.5,1508.6 L2300.0,1508.5 L2302.5,1508.4 L2305.0,1508.3" fill="none" stroke="#3636a0" stroke-width="2.5" stroke-linejoin="round"/>
<path d="M305.3,74.19999999999982 L2307.4,74.19999999999982 L2307.4,1543.0 L305.3,1543.0 Z" fill="none" stroke="#000" stroke-width="5.6" stroke-linejoin="round"/>
<path d="M305.3,1543.0 V1572.0 M505.5,1543.0 V1557.0 M505.5,74.19999999999982 V88.2 M705.7,1543.0 V1572.0 M705.7,74.19999999999982 V103.2 M905.9,1543.0 V1557.0 M905.9,74.19999999999982 V88.2 M1106.1,1543.0 V1572.0 M1106.1,74.19999999999982 V103.2 M1306.3,1543.0 V1557.0 M1306.3,74.19999999999982 V88.2 M1506.6,1543.0 V1572.0 M1506.6,74.19999999999982 V103.2 M1706.8,1543.0 V1557.0 M1706.8,74.19999999999982 V88.2 M1907.0,1543.0 V1572.0 M1907.0,74.19999999999982 V103.2 M2107.2,1543.0 V1557.0 M2107.2,74.19999999999982 V88.2 M2307.4,1543.0 V1572.0 M305.3,1543.0 H276.3 M305.3,1451.2 H291.3 M2307.4,1451.2 H2293.4 M305.3,1359.4 H276.3 M2307.4,1359.4 H2278.4 M305.3,1267.6 H291.3 M2307.4,1267.6 H2293.4 M305.3,1175.8 H276.3 M2307.4,1175.8 H2278.4 M305.3,1084.0 H291.3 M2307.4,1084.0 H2293.4 M305.3,992.2 H276.3 M2307.4,992.2 H2278.4 M305.3,900.4 H291.3 M2307.4,900.4 H2293.4 M305.3,808.6 H276.3 M2307.4,808.6 H2278.4 M305.3,716.8 H291.3 M2307.4,716.8 H2293.4 M305.3,625.0 H276.3 M2307.4,625.0 H2278.4 M305.3,533.2 H291.3 M2307.4,533.2 H2293.4 M305.3,441.4 H276.3 M2307.4,441.4 H2278.4 M305.3,349.6 H291.3 M2307.4,349.6 H2293.4 M305.3,257.8 H276.3 M2307.4,257.8 H2278.4 M305.3,166.0 H291.3 M2307.4,166.0 H2293.4 M305.3,74.2 H276.3" stroke="#000" stroke-width="5.2" stroke-linecap="round" fill="none"/>
<text x="305.3" y="1643" font-size="65" text-anchor="middle">400</text>
<text x="705.7" y="1643" font-size="65" text-anchor="middle">450</text>
<text x="1106.1" y="1643" font-size="65" text-anchor="middle">500</text>
<text x="1506.6" y="1643" font-size="65" text-anchor="middle">550</text>
<text x="1907.0" y="1643" font-size="65" text-anchor="middle">600</text>
<text x="2307.4" y="1643" font-size="65" text-anchor="middle">650</text>
<text x="248.0" y="1563.0" font-size="65" text-anchor="end">0.0</text>
<text x="248.0" y="1379.4" font-size="65" text-anchor="end">0.2</text>
<text x="248.0" y="1195.8" font-size="65" text-anchor="end">0.4</text>
<text x="248.0" y="1012.2" font-size="65" text-anchor="end">0.6</text>
<text x="248.0" y="828.6" font-size="65" text-anchor="end">0.8</text>
<text x="248.0" y="645.0" font-size="65" text-anchor="end">1.0</text>
<text x="248.0" y="461.4" font-size="65" text-anchor="end">1.2</text>
<text x="248.0" y="277.8" font-size="65" text-anchor="end">1.4</text>
<text x="248.0" y="94.2" font-size="65" text-anchor="end">1.6</text>
<text x="1018.5" y="1768.5" font-size="71.8">Wavelength (nm)</text>
<text transform="translate(81.5,1157) rotate(-90)" x="0" y="0" font-size="71.2">Absorbance (a.u.)</text>
<text x="329.3" y="159.0" font-size="50.5" fill="#3636a0">RhB initial</text>
<text x="329.3" y="222.2" font-size="50.5" fill="#c4187c">1 min</text>
<text x="329.3" y="285.5" font-size="50.5" fill="#12c43c">5 min</text>
<text x="329.3" y="348.8" font-size="50.5" fill="#a0601a">10 min</text>
<text x="329.3" y="412.0" font-size="50.5" fill="#1a9090">15 min</text>
<text x="329.3" y="475.2" font-size="50.5" fill="#22c4cc">20 min</text>
<text x="329.3" y="538.5" font-size="50.5" fill="#8000ff">25 min</text>
<text x="329.3" y="601.8" font-size="50.5" fill="#800080">30 min</text>
<text x="329.3" y="665.0" font-size="50.5" fill="#000000">40 min</text>
<text x="329.3" y="728.2" font-size="50.5" fill="#2c62a4">50 min</text>
<text x="329.3" y="791.5" font-size="50.5" fill="#808000">60 min</text>
<text x="329.3" y="854.8" font-size="50.5" fill="#0000ff">75 min</text>
<text x="329.3" y="918.0" font-size="50.5" fill="#ff00ff">90 min</text>
</svg></body></html>
